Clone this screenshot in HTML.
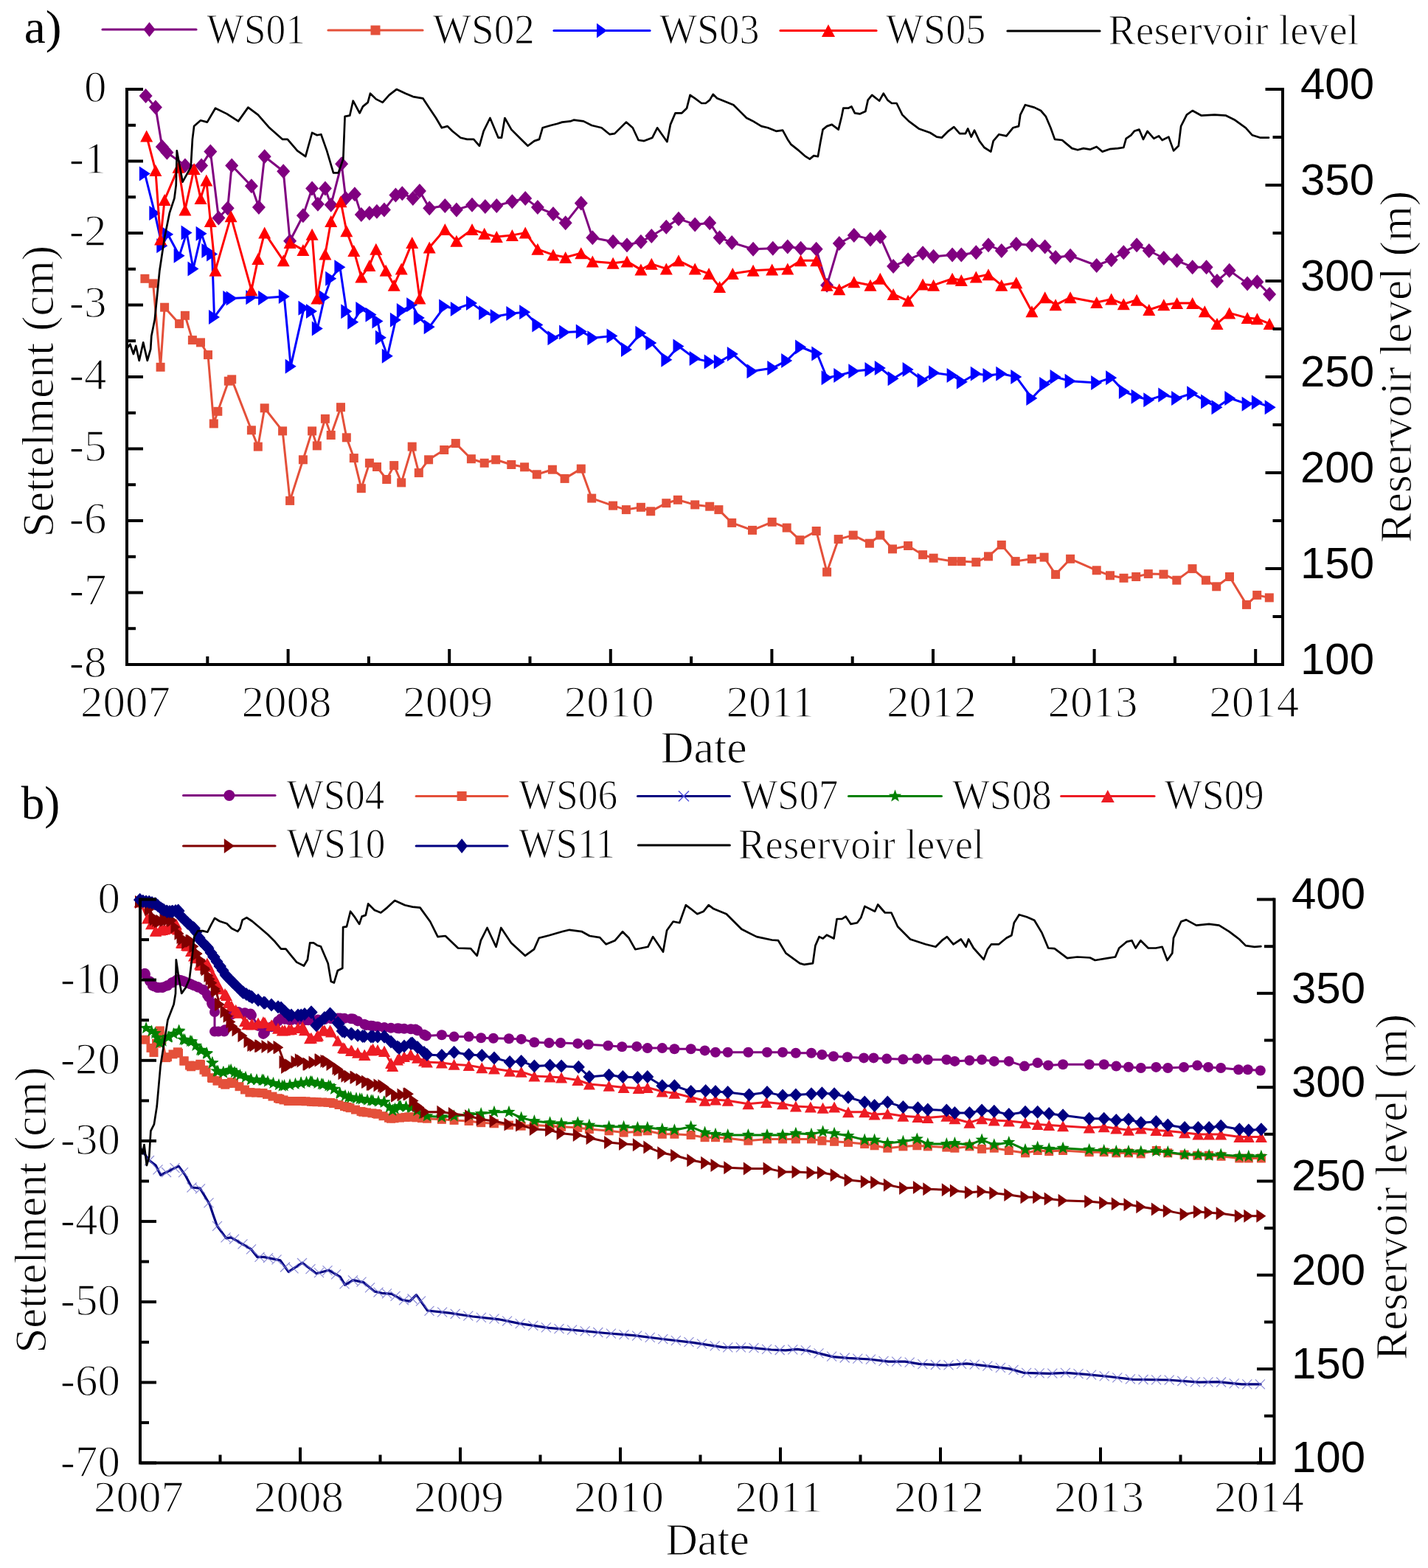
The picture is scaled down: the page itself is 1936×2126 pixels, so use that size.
<!DOCTYPE html>
<html><head><meta charset="utf-8"><title>Settlement and reservoir level</title>
<style>
html,body{margin:0;padding:0;background:#fff;}
body{width:1936px;height:2126px;overflow:hidden;}
svg{display:block;}
.tl{font-family:"Liberation Serif", "Times New Roman", serif;font-size:61px;fill:#000;stroke:#fff;stroke-width:1.4px;}
.rl{font-family:"Liberation Sans", Arial, sans-serif;font-size:60px;fill:#000;}
.ti{font-family:"Liberation Serif", "Times New Roman", serif;font-size:61px;fill:#000;stroke:#fff;stroke-width:1.0px;}
.lg{font-family:"Liberation Serif", "Times New Roman", serif;font-size:56.5px;fill:#000;stroke:#fff;stroke-width:1.2px;}
.pl{font-family:"Liberation Serif", "Times New Roman", serif;font-size:64px;fill:#000;}
</style></head><body>
<svg xmlns="http://www.w3.org/2000/svg" width="1936" height="2126" viewBox="0 0 1936 2126">
<rect width="1936" height="2126" fill="#fff"/>

<g>
<polyline points="197.6,130.0 210.9,145.6 219.8,198.9 226.4,206.7 250.9,224.4 273.1,224.4 285.3,205.6 296.4,295.6 308.7,282.2 314.2,224.4 340.9,252.2 350.9,281.1 358.7,212.2 384.2,232.2 393.1,326.7 410.9,292.2 423.1,255.6 430.9,276.7 440.9,255.6 448.7,277.8 463.1,222.2 468.7,268.9 480.9,263.3 489.8,291.1 500.9,288.9 510.9,286.7 520.9,284.4 536.4,264.4 545.3,262.2 559.8,268.9 568.9,258.9 582.2,282.2 603.3,278.9 618.9,284.4 640.0,277.8 657.8,280.0 673.3,278.9 694.4,273.3 712.2,268.9 728.9,281.1 750.0,290.0 766.7,302.2 787.8,275.6 803.3,322.2 831.1,327.8 850.0,332.2 868.9,327.8 883.3,320.0 903.3,307.8 920.0,296.7 942.2,304.4 962.2,302.2 975.6,322.2 992.2,328.9 1021.1,337.8 1047.8,336.7 1067.8,334.4 1085.6,336.7 1106.7,337.8 1121.1,386.7 1137.8,330.0 1157.8,318.9 1180.0,324.4 1193.3,321.1 1211.1,361.1 1231.1,352.2 1251.1,343.3 1265.6,347.8 1291.1,345.6 1303.3,345.6 1323.3,342.2 1340.0,332.2 1357.8,340.0 1377.8,331.1 1398.9,332.2 1416.7,334.4 1431.1,348.9 1451.1,346.7 1486.7,360.0 1506.7,352.2 1523.3,342.2 1541.1,332.2 1557.8,340.0 1577.8,350.0 1595.6,353.3 1616.7,362.2 1635.6,362.2 1650.0,381.1 1666.7,366.7 1691.1,384.4 1704.4,382.2 1721.1,398.9" fill="none" stroke="#800080" stroke-width="3.0" stroke-linejoin="round" stroke-linecap="round"/>
<path d="M197.6 120.0L206.6 130.0L197.6 140.0L188.6 130.0Z" fill="#800080"/>
<path d="M210.9 135.6L219.9 145.6L210.9 155.6L201.9 145.6Z" fill="#800080"/>
<path d="M219.8 188.9L228.8 198.9L219.8 208.9L210.8 198.9Z" fill="#800080"/>
<path d="M226.4 196.7L235.4 206.7L226.4 216.7L217.4 206.7Z" fill="#800080"/>
<path d="M250.9 214.4L259.9 224.4L250.9 234.4L241.9 224.4Z" fill="#800080"/>
<path d="M273.1 214.4L282.1 224.4L273.1 234.4L264.1 224.4Z" fill="#800080"/>
<path d="M285.3 195.6L294.3 205.6L285.3 215.6L276.3 205.6Z" fill="#800080"/>
<path d="M296.4 285.6L305.4 295.6L296.4 305.6L287.4 295.6Z" fill="#800080"/>
<path d="M308.7 272.2L317.7 282.2L308.7 292.2L299.7 282.2Z" fill="#800080"/>
<path d="M314.2 214.4L323.2 224.4L314.2 234.4L305.2 224.4Z" fill="#800080"/>
<path d="M340.9 242.2L349.9 252.2L340.9 262.2L331.9 252.2Z" fill="#800080"/>
<path d="M350.9 271.1L359.9 281.1L350.9 291.1L341.9 281.1Z" fill="#800080"/>
<path d="M358.7 202.2L367.7 212.2L358.7 222.2L349.7 212.2Z" fill="#800080"/>
<path d="M384.2 222.2L393.2 232.2L384.2 242.2L375.2 232.2Z" fill="#800080"/>
<path d="M393.1 316.7L402.1 326.7L393.1 336.7L384.1 326.7Z" fill="#800080"/>
<path d="M410.9 282.2L419.9 292.2L410.9 302.2L401.9 292.2Z" fill="#800080"/>
<path d="M423.1 245.6L432.1 255.6L423.1 265.6L414.1 255.6Z" fill="#800080"/>
<path d="M430.9 266.7L439.9 276.7L430.9 286.7L421.9 276.7Z" fill="#800080"/>
<path d="M440.9 245.6L449.9 255.6L440.9 265.6L431.9 255.6Z" fill="#800080"/>
<path d="M448.7 267.8L457.7 277.8L448.7 287.8L439.7 277.8Z" fill="#800080"/>
<path d="M463.1 212.2L472.1 222.2L463.1 232.2L454.1 222.2Z" fill="#800080"/>
<path d="M468.7 258.9L477.7 268.9L468.7 278.9L459.7 268.9Z" fill="#800080"/>
<path d="M480.9 253.3L489.9 263.3L480.9 273.3L471.9 263.3Z" fill="#800080"/>
<path d="M489.8 281.1L498.8 291.1L489.8 301.1L480.8 291.1Z" fill="#800080"/>
<path d="M500.9 278.9L509.9 288.9L500.9 298.9L491.9 288.9Z" fill="#800080"/>
<path d="M510.9 276.7L519.9 286.7L510.9 296.7L501.9 286.7Z" fill="#800080"/>
<path d="M520.9 274.4L529.9 284.4L520.9 294.4L511.9 284.4Z" fill="#800080"/>
<path d="M536.4 254.4L545.4 264.4L536.4 274.4L527.4 264.4Z" fill="#800080"/>
<path d="M545.3 252.2L554.3 262.2L545.3 272.2L536.3 262.2Z" fill="#800080"/>
<path d="M559.8 258.9L568.8 268.9L559.8 278.9L550.8 268.9Z" fill="#800080"/>
<path d="M568.9 248.9L577.9 258.9L568.9 268.9L559.9 258.9Z" fill="#800080"/>
<path d="M582.2 272.2L591.2 282.2L582.2 292.2L573.2 282.2Z" fill="#800080"/>
<path d="M603.3 268.9L612.3 278.9L603.3 288.9L594.3 278.9Z" fill="#800080"/>
<path d="M618.9 274.4L627.9 284.4L618.9 294.4L609.9 284.4Z" fill="#800080"/>
<path d="M640.0 267.8L649.0 277.8L640.0 287.8L631.0 277.8Z" fill="#800080"/>
<path d="M657.8 270.0L666.8 280.0L657.8 290.0L648.8 280.0Z" fill="#800080"/>
<path d="M673.3 268.9L682.3 278.9L673.3 288.9L664.3 278.9Z" fill="#800080"/>
<path d="M694.4 263.3L703.4 273.3L694.4 283.3L685.4 273.3Z" fill="#800080"/>
<path d="M712.2 258.9L721.2 268.9L712.2 278.9L703.2 268.9Z" fill="#800080"/>
<path d="M728.9 271.1L737.9 281.1L728.9 291.1L719.9 281.1Z" fill="#800080"/>
<path d="M750.0 280.0L759.0 290.0L750.0 300.0L741.0 290.0Z" fill="#800080"/>
<path d="M766.7 292.2L775.7 302.2L766.7 312.2L757.7 302.2Z" fill="#800080"/>
<path d="M787.8 265.6L796.8 275.6L787.8 285.6L778.8 275.6Z" fill="#800080"/>
<path d="M803.3 312.2L812.3 322.2L803.3 332.2L794.3 322.2Z" fill="#800080"/>
<path d="M831.1 317.8L840.1 327.8L831.1 337.8L822.1 327.8Z" fill="#800080"/>
<path d="M850.0 322.2L859.0 332.2L850.0 342.2L841.0 332.2Z" fill="#800080"/>
<path d="M868.9 317.8L877.9 327.8L868.9 337.8L859.9 327.8Z" fill="#800080"/>
<path d="M883.3 310.0L892.3 320.0L883.3 330.0L874.3 320.0Z" fill="#800080"/>
<path d="M903.3 297.8L912.3 307.8L903.3 317.8L894.3 307.8Z" fill="#800080"/>
<path d="M920.0 286.7L929.0 296.7L920.0 306.7L911.0 296.7Z" fill="#800080"/>
<path d="M942.2 294.4L951.2 304.4L942.2 314.4L933.2 304.4Z" fill="#800080"/>
<path d="M962.2 292.2L971.2 302.2L962.2 312.2L953.2 302.2Z" fill="#800080"/>
<path d="M975.6 312.2L984.6 322.2L975.6 332.2L966.6 322.2Z" fill="#800080"/>
<path d="M992.2 318.9L1001.2 328.9L992.2 338.9L983.2 328.9Z" fill="#800080"/>
<path d="M1021.1 327.8L1030.1 337.8L1021.1 347.8L1012.1 337.8Z" fill="#800080"/>
<path d="M1047.8 326.7L1056.8 336.7L1047.8 346.7L1038.8 336.7Z" fill="#800080"/>
<path d="M1067.8 324.4L1076.8 334.4L1067.8 344.4L1058.8 334.4Z" fill="#800080"/>
<path d="M1085.6 326.7L1094.6 336.7L1085.6 346.7L1076.6 336.7Z" fill="#800080"/>
<path d="M1106.7 327.8L1115.7 337.8L1106.7 347.8L1097.7 337.8Z" fill="#800080"/>
<path d="M1121.1 376.7L1130.1 386.7L1121.1 396.7L1112.1 386.7Z" fill="#800080"/>
<path d="M1137.8 320.0L1146.8 330.0L1137.8 340.0L1128.8 330.0Z" fill="#800080"/>
<path d="M1157.8 308.9L1166.8 318.9L1157.8 328.9L1148.8 318.9Z" fill="#800080"/>
<path d="M1180.0 314.4L1189.0 324.4L1180.0 334.4L1171.0 324.4Z" fill="#800080"/>
<path d="M1193.3 311.1L1202.3 321.1L1193.3 331.1L1184.3 321.1Z" fill="#800080"/>
<path d="M1211.1 351.1L1220.1 361.1L1211.1 371.1L1202.1 361.1Z" fill="#800080"/>
<path d="M1231.1 342.2L1240.1 352.2L1231.1 362.2L1222.1 352.2Z" fill="#800080"/>
<path d="M1251.1 333.3L1260.1 343.3L1251.1 353.3L1242.1 343.3Z" fill="#800080"/>
<path d="M1265.6 337.8L1274.6 347.8L1265.6 357.8L1256.6 347.8Z" fill="#800080"/>
<path d="M1291.1 335.6L1300.1 345.6L1291.1 355.6L1282.1 345.6Z" fill="#800080"/>
<path d="M1303.3 335.6L1312.3 345.6L1303.3 355.6L1294.3 345.6Z" fill="#800080"/>
<path d="M1323.3 332.2L1332.3 342.2L1323.3 352.2L1314.3 342.2Z" fill="#800080"/>
<path d="M1340.0 322.2L1349.0 332.2L1340.0 342.2L1331.0 332.2Z" fill="#800080"/>
<path d="M1357.8 330.0L1366.8 340.0L1357.8 350.0L1348.8 340.0Z" fill="#800080"/>
<path d="M1377.8 321.1L1386.8 331.1L1377.8 341.1L1368.8 331.1Z" fill="#800080"/>
<path d="M1398.9 322.2L1407.9 332.2L1398.9 342.2L1389.9 332.2Z" fill="#800080"/>
<path d="M1416.7 324.4L1425.7 334.4L1416.7 344.4L1407.7 334.4Z" fill="#800080"/>
<path d="M1431.1 338.9L1440.1 348.9L1431.1 358.9L1422.1 348.9Z" fill="#800080"/>
<path d="M1451.1 336.7L1460.1 346.7L1451.1 356.7L1442.1 346.7Z" fill="#800080"/>
<path d="M1486.7 350.0L1495.7 360.0L1486.7 370.0L1477.7 360.0Z" fill="#800080"/>
<path d="M1506.7 342.2L1515.7 352.2L1506.7 362.2L1497.7 352.2Z" fill="#800080"/>
<path d="M1523.3 332.2L1532.3 342.2L1523.3 352.2L1514.3 342.2Z" fill="#800080"/>
<path d="M1541.1 322.2L1550.1 332.2L1541.1 342.2L1532.1 332.2Z" fill="#800080"/>
<path d="M1557.8 330.0L1566.8 340.0L1557.8 350.0L1548.8 340.0Z" fill="#800080"/>
<path d="M1577.8 340.0L1586.8 350.0L1577.8 360.0L1568.8 350.0Z" fill="#800080"/>
<path d="M1595.6 343.3L1604.6 353.3L1595.6 363.3L1586.6 353.3Z" fill="#800080"/>
<path d="M1616.7 352.2L1625.7 362.2L1616.7 372.2L1607.7 362.2Z" fill="#800080"/>
<path d="M1635.6 352.2L1644.6 362.2L1635.6 372.2L1626.6 362.2Z" fill="#800080"/>
<path d="M1650.0 371.1L1659.0 381.1L1650.0 391.1L1641.0 381.1Z" fill="#800080"/>
<path d="M1666.7 356.7L1675.7 366.7L1666.7 376.7L1657.7 366.7Z" fill="#800080"/>
<path d="M1691.1 374.4L1700.1 384.4L1691.1 394.4L1682.1 384.4Z" fill="#800080"/>
<path d="M1704.4 372.2L1713.4 382.2L1704.4 392.2L1695.4 382.2Z" fill="#800080"/>
<path d="M1721.1 388.9L1730.1 398.9L1721.1 408.9L1712.1 398.9Z" fill="#800080"/>
<polyline points="196.4,377.8 207.6,384.4 217.6,497.8 223.1,416.7 243.1,438.9 250.9,427.8 260.9,461.1 272.0,464.4 282.0,481.1 289.8,574.4 295.3,557.8 309.8,516.7 314.2,514.4 340.9,583.3 349.8,605.6 358.7,553.3 383.1,584.4 393.1,678.9 410.9,623.3 423.1,584.4 429.8,604.4 440.9,567.8 448.7,590.0 462.0,552.2 469.8,593.3 479.8,621.1 489.8,662.2 500.9,627.8 511.0,633.0 524.2,650.0 534.2,631.1 544.2,654.4 558.7,605.6 567.8,641.1 581.1,623.3 602.2,610.0 617.8,601.1 638.9,622.2 656.7,627.8 672.2,623.3 693.3,630.0 711.1,633.3 727.8,643.3 748.9,636.7 765.6,648.9 787.8,635.6 802.2,675.6 831.1,685.6 848.9,691.1 868.9,687.8 882.2,693.3 903.3,682.2 918.9,677.8 942.2,684.4 962.2,686.7 974.4,691.1 992.2,708.9 1020.0,718.9 1046.7,707.8 1066.7,715.6 1084.4,732.2 1106.7,720.0 1121.1,775.6 1136.7,731.1 1156.7,725.6 1178.9,736.7 1193.3,725.6 1210.0,744.4 1231.1,740.0 1251.1,752.2 1265.6,756.7 1291.1,761.1 1303.3,761.1 1323.3,762.2 1340.0,754.4 1357.8,738.9 1376.7,761.1 1398.9,757.8 1415.6,755.6 1431.1,778.9 1451.1,757.8 1486.7,773.3 1505.0,780.3 1523.5,783.8 1540.2,782.0 1556.8,778.1 1577.5,778.6 1595.3,786.7 1616.5,771.1 1634.9,786.7 1649.2,795.3 1667.0,782.0 1690.0,819.9 1704.2,806.9 1720.8,810.4" fill="none" stroke="#E4503A" stroke-width="3.0" stroke-linejoin="round" stroke-linecap="round"/>
<rect x="190.4" y="371.8" width="12.0" height="12.0" fill="#E4503A"/>
<rect x="201.6" y="378.4" width="12.0" height="12.0" fill="#E4503A"/>
<rect x="211.6" y="491.8" width="12.0" height="12.0" fill="#E4503A"/>
<rect x="217.1" y="410.7" width="12.0" height="12.0" fill="#E4503A"/>
<rect x="237.1" y="432.9" width="12.0" height="12.0" fill="#E4503A"/>
<rect x="244.9" y="421.8" width="12.0" height="12.0" fill="#E4503A"/>
<rect x="254.9" y="455.1" width="12.0" height="12.0" fill="#E4503A"/>
<rect x="266.0" y="458.4" width="12.0" height="12.0" fill="#E4503A"/>
<rect x="276.0" y="475.1" width="12.0" height="12.0" fill="#E4503A"/>
<rect x="283.8" y="568.4" width="12.0" height="12.0" fill="#E4503A"/>
<rect x="289.3" y="551.8" width="12.0" height="12.0" fill="#E4503A"/>
<rect x="303.8" y="510.7" width="12.0" height="12.0" fill="#E4503A"/>
<rect x="308.2" y="508.4" width="12.0" height="12.0" fill="#E4503A"/>
<rect x="334.9" y="577.3" width="12.0" height="12.0" fill="#E4503A"/>
<rect x="343.8" y="599.6" width="12.0" height="12.0" fill="#E4503A"/>
<rect x="352.7" y="547.3" width="12.0" height="12.0" fill="#E4503A"/>
<rect x="377.1" y="578.4" width="12.0" height="12.0" fill="#E4503A"/>
<rect x="387.1" y="672.9" width="12.0" height="12.0" fill="#E4503A"/>
<rect x="404.9" y="617.3" width="12.0" height="12.0" fill="#E4503A"/>
<rect x="417.1" y="578.4" width="12.0" height="12.0" fill="#E4503A"/>
<rect x="423.8" y="598.4" width="12.0" height="12.0" fill="#E4503A"/>
<rect x="434.9" y="561.8" width="12.0" height="12.0" fill="#E4503A"/>
<rect x="442.7" y="584.0" width="12.0" height="12.0" fill="#E4503A"/>
<rect x="456.0" y="546.2" width="12.0" height="12.0" fill="#E4503A"/>
<rect x="463.8" y="587.3" width="12.0" height="12.0" fill="#E4503A"/>
<rect x="473.8" y="615.1" width="12.0" height="12.0" fill="#E4503A"/>
<rect x="483.8" y="656.2" width="12.0" height="12.0" fill="#E4503A"/>
<rect x="494.9" y="621.8" width="12.0" height="12.0" fill="#E4503A"/>
<rect x="505.0" y="627.0" width="12.0" height="12.0" fill="#E4503A"/>
<rect x="518.2" y="644.0" width="12.0" height="12.0" fill="#E4503A"/>
<rect x="528.2" y="625.1" width="12.0" height="12.0" fill="#E4503A"/>
<rect x="538.2" y="648.4" width="12.0" height="12.0" fill="#E4503A"/>
<rect x="552.7" y="599.6" width="12.0" height="12.0" fill="#E4503A"/>
<rect x="561.8" y="635.1" width="12.0" height="12.0" fill="#E4503A"/>
<rect x="575.1" y="617.3" width="12.0" height="12.0" fill="#E4503A"/>
<rect x="596.2" y="604.0" width="12.0" height="12.0" fill="#E4503A"/>
<rect x="611.8" y="595.1" width="12.0" height="12.0" fill="#E4503A"/>
<rect x="632.9" y="616.2" width="12.0" height="12.0" fill="#E4503A"/>
<rect x="650.7" y="621.8" width="12.0" height="12.0" fill="#E4503A"/>
<rect x="666.2" y="617.3" width="12.0" height="12.0" fill="#E4503A"/>
<rect x="687.3" y="624.0" width="12.0" height="12.0" fill="#E4503A"/>
<rect x="705.1" y="627.3" width="12.0" height="12.0" fill="#E4503A"/>
<rect x="721.8" y="637.3" width="12.0" height="12.0" fill="#E4503A"/>
<rect x="742.9" y="630.7" width="12.0" height="12.0" fill="#E4503A"/>
<rect x="759.6" y="642.9" width="12.0" height="12.0" fill="#E4503A"/>
<rect x="781.8" y="629.6" width="12.0" height="12.0" fill="#E4503A"/>
<rect x="796.2" y="669.6" width="12.0" height="12.0" fill="#E4503A"/>
<rect x="825.1" y="679.6" width="12.0" height="12.0" fill="#E4503A"/>
<rect x="842.9" y="685.1" width="12.0" height="12.0" fill="#E4503A"/>
<rect x="862.9" y="681.8" width="12.0" height="12.0" fill="#E4503A"/>
<rect x="876.2" y="687.3" width="12.0" height="12.0" fill="#E4503A"/>
<rect x="897.3" y="676.2" width="12.0" height="12.0" fill="#E4503A"/>
<rect x="912.9" y="671.8" width="12.0" height="12.0" fill="#E4503A"/>
<rect x="936.2" y="678.4" width="12.0" height="12.0" fill="#E4503A"/>
<rect x="956.2" y="680.7" width="12.0" height="12.0" fill="#E4503A"/>
<rect x="968.4" y="685.1" width="12.0" height="12.0" fill="#E4503A"/>
<rect x="986.2" y="702.9" width="12.0" height="12.0" fill="#E4503A"/>
<rect x="1014.0" y="712.9" width="12.0" height="12.0" fill="#E4503A"/>
<rect x="1040.7" y="701.8" width="12.0" height="12.0" fill="#E4503A"/>
<rect x="1060.7" y="709.6" width="12.0" height="12.0" fill="#E4503A"/>
<rect x="1078.4" y="726.2" width="12.0" height="12.0" fill="#E4503A"/>
<rect x="1100.7" y="714.0" width="12.0" height="12.0" fill="#E4503A"/>
<rect x="1115.1" y="769.6" width="12.0" height="12.0" fill="#E4503A"/>
<rect x="1130.7" y="725.1" width="12.0" height="12.0" fill="#E4503A"/>
<rect x="1150.7" y="719.6" width="12.0" height="12.0" fill="#E4503A"/>
<rect x="1172.9" y="730.7" width="12.0" height="12.0" fill="#E4503A"/>
<rect x="1187.3" y="719.6" width="12.0" height="12.0" fill="#E4503A"/>
<rect x="1204.0" y="738.4" width="12.0" height="12.0" fill="#E4503A"/>
<rect x="1225.1" y="734.0" width="12.0" height="12.0" fill="#E4503A"/>
<rect x="1245.1" y="746.2" width="12.0" height="12.0" fill="#E4503A"/>
<rect x="1259.6" y="750.7" width="12.0" height="12.0" fill="#E4503A"/>
<rect x="1285.1" y="755.1" width="12.0" height="12.0" fill="#E4503A"/>
<rect x="1297.3" y="755.1" width="12.0" height="12.0" fill="#E4503A"/>
<rect x="1317.3" y="756.2" width="12.0" height="12.0" fill="#E4503A"/>
<rect x="1334.0" y="748.4" width="12.0" height="12.0" fill="#E4503A"/>
<rect x="1351.8" y="732.9" width="12.0" height="12.0" fill="#E4503A"/>
<rect x="1370.7" y="755.1" width="12.0" height="12.0" fill="#E4503A"/>
<rect x="1392.9" y="751.8" width="12.0" height="12.0" fill="#E4503A"/>
<rect x="1409.6" y="749.6" width="12.0" height="12.0" fill="#E4503A"/>
<rect x="1425.1" y="772.9" width="12.0" height="12.0" fill="#E4503A"/>
<rect x="1445.1" y="751.8" width="12.0" height="12.0" fill="#E4503A"/>
<rect x="1480.7" y="767.3" width="12.0" height="12.0" fill="#E4503A"/>
<rect x="1499.0" y="774.3" width="12.0" height="12.0" fill="#E4503A"/>
<rect x="1517.5" y="777.8" width="12.0" height="12.0" fill="#E4503A"/>
<rect x="1534.2" y="776.0" width="12.0" height="12.0" fill="#E4503A"/>
<rect x="1550.8" y="772.1" width="12.0" height="12.0" fill="#E4503A"/>
<rect x="1571.5" y="772.6" width="12.0" height="12.0" fill="#E4503A"/>
<rect x="1589.3" y="780.7" width="12.0" height="12.0" fill="#E4503A"/>
<rect x="1610.5" y="765.1" width="12.0" height="12.0" fill="#E4503A"/>
<rect x="1628.9" y="780.7" width="12.0" height="12.0" fill="#E4503A"/>
<rect x="1643.2" y="789.3" width="12.0" height="12.0" fill="#E4503A"/>
<rect x="1661.0" y="776.0" width="12.0" height="12.0" fill="#E4503A"/>
<rect x="1684.0" y="813.9" width="12.0" height="12.0" fill="#E4503A"/>
<rect x="1698.2" y="800.9" width="12.0" height="12.0" fill="#E4503A"/>
<rect x="1714.8" y="804.4" width="12.0" height="12.0" fill="#E4503A"/>
<polyline points="196.4,235.6 209.8,288.9 219.8,333.3 227.6,317.8 243.1,346.7 253.1,315.6 262.0,364.4 273.1,316.7 280.9,340.0 287.6,344.4 290.5,430.0 309.8,404.0 314.2,404.4 340.9,403.3 357.6,404.0 385.3,402.0 394.2,496.7 412.0,417.8 422.5,422.0 430.3,445.5 439.8,403.3 448.7,377.8 460.9,362.2 469.8,422.2 478.7,436.7 489.8,419.0 503.0,426.7 512.0,435.5 516.4,457.8 525.3,482.7 536.4,433.8 545.3,421.1 558.7,413.3 568.3,431.1 582.2,443.3 602.7,415.6 618.3,418.9 639.5,411.1 656.7,423.9 672.2,428.9 693.9,425.0 711.7,423.3 728.9,440.6 750.0,458.3 765.6,450.6 788.3,449.5 803.9,458.3 830.0,455.6 849.5,473.9 868.9,451.7 882.8,465.0 903.9,487.8 920.0,469.5 942.2,486.1 962.2,490.6 975.3,490.6 993.3,480.0 1020.0,503.3 1047.8,498.9 1066.7,488.9 1085.6,470.5 1107.8,479.5 1121.1,512.2 1137.8,508.9 1157.8,503.3 1180.0,501.1 1193.3,498.9 1211.1,513.3 1231.1,501.1 1251.1,515.6 1266.7,505.6 1291.1,508.9 1304.4,517.8 1323.3,506.7 1340.0,508.9 1357.8,506.7 1377.8,511.1 1398.9,540.0 1416.7,521.1 1431.1,511.1 1451.1,516.7 1486.7,518.9 1506.7,512.2 1524.4,531.1 1541.1,537.8 1557.8,542.2 1577.8,535.6 1595.6,540.0 1616.7,533.3 1635.6,544.4 1650.0,552.2 1667.8,540.0 1691.1,547.8 1704.4,545.6 1722.2,552.2" fill="none" stroke="#0000FF" stroke-width="3.0" stroke-linejoin="round" stroke-linecap="round"/>
<path d="M188.9 225.6L203.9 235.6L188.9 245.6Z" fill="#0000FF"/>
<path d="M202.3 278.9L217.3 288.9L202.3 298.9Z" fill="#0000FF"/>
<path d="M212.3 323.3L227.3 333.3L212.3 343.3Z" fill="#0000FF"/>
<path d="M220.1 307.8L235.1 317.8L220.1 327.8Z" fill="#0000FF"/>
<path d="M235.6 336.7L250.6 346.7L235.6 356.7Z" fill="#0000FF"/>
<path d="M245.6 305.6L260.6 315.6L245.6 325.6Z" fill="#0000FF"/>
<path d="M254.5 354.4L269.5 364.4L254.5 374.4Z" fill="#0000FF"/>
<path d="M265.6 306.7L280.6 316.7L265.6 326.7Z" fill="#0000FF"/>
<path d="M273.4 330.0L288.4 340.0L273.4 350.0Z" fill="#0000FF"/>
<path d="M280.1 334.4L295.1 344.4L280.1 354.4Z" fill="#0000FF"/>
<path d="M283.0 420.0L298.0 430.0L283.0 440.0Z" fill="#0000FF"/>
<path d="M302.3 394.0L317.3 404.0L302.3 414.0Z" fill="#0000FF"/>
<path d="M306.7 394.4L321.7 404.4L306.7 414.4Z" fill="#0000FF"/>
<path d="M333.4 393.3L348.4 403.3L333.4 413.3Z" fill="#0000FF"/>
<path d="M350.1 394.0L365.1 404.0L350.1 414.0Z" fill="#0000FF"/>
<path d="M377.8 392.0L392.8 402.0L377.8 412.0Z" fill="#0000FF"/>
<path d="M386.7 486.7L401.7 496.7L386.7 506.7Z" fill="#0000FF"/>
<path d="M404.5 407.8L419.5 417.8L404.5 427.8Z" fill="#0000FF"/>
<path d="M415.0 412.0L430.0 422.0L415.0 432.0Z" fill="#0000FF"/>
<path d="M422.8 435.5L437.8 445.5L422.8 455.5Z" fill="#0000FF"/>
<path d="M432.3 393.3L447.3 403.3L432.3 413.3Z" fill="#0000FF"/>
<path d="M441.2 367.8L456.2 377.8L441.2 387.8Z" fill="#0000FF"/>
<path d="M453.4 352.2L468.4 362.2L453.4 372.2Z" fill="#0000FF"/>
<path d="M462.3 412.2L477.3 422.2L462.3 432.2Z" fill="#0000FF"/>
<path d="M471.2 426.7L486.2 436.7L471.2 446.7Z" fill="#0000FF"/>
<path d="M482.3 409.0L497.3 419.0L482.3 429.0Z" fill="#0000FF"/>
<path d="M495.5 416.7L510.5 426.7L495.5 436.7Z" fill="#0000FF"/>
<path d="M504.5 425.5L519.5 435.5L504.5 445.5Z" fill="#0000FF"/>
<path d="M508.9 447.8L523.9 457.8L508.9 467.8Z" fill="#0000FF"/>
<path d="M517.8 472.7L532.8 482.7L517.8 492.7Z" fill="#0000FF"/>
<path d="M528.9 423.8L543.9 433.8L528.9 443.8Z" fill="#0000FF"/>
<path d="M537.8 411.1L552.8 421.1L537.8 431.1Z" fill="#0000FF"/>
<path d="M551.2 403.3L566.2 413.3L551.2 423.3Z" fill="#0000FF"/>
<path d="M560.8 421.1L575.8 431.1L560.8 441.1Z" fill="#0000FF"/>
<path d="M574.7 433.3L589.7 443.3L574.7 453.3Z" fill="#0000FF"/>
<path d="M595.2 405.6L610.2 415.6L595.2 425.6Z" fill="#0000FF"/>
<path d="M610.8 408.9L625.8 418.9L610.8 428.9Z" fill="#0000FF"/>
<path d="M632.0 401.1L647.0 411.1L632.0 421.1Z" fill="#0000FF"/>
<path d="M649.2 413.9L664.2 423.9L649.2 433.9Z" fill="#0000FF"/>
<path d="M664.7 418.9L679.7 428.9L664.7 438.9Z" fill="#0000FF"/>
<path d="M686.4 415.0L701.4 425.0L686.4 435.0Z" fill="#0000FF"/>
<path d="M704.2 413.3L719.2 423.3L704.2 433.3Z" fill="#0000FF"/>
<path d="M721.4 430.6L736.4 440.6L721.4 450.6Z" fill="#0000FF"/>
<path d="M742.5 448.3L757.5 458.3L742.5 468.3Z" fill="#0000FF"/>
<path d="M758.1 440.6L773.1 450.6L758.1 460.6Z" fill="#0000FF"/>
<path d="M780.8 439.5L795.8 449.5L780.8 459.5Z" fill="#0000FF"/>
<path d="M796.4 448.3L811.4 458.3L796.4 468.3Z" fill="#0000FF"/>
<path d="M822.5 445.6L837.5 455.6L822.5 465.6Z" fill="#0000FF"/>
<path d="M842.0 463.9L857.0 473.9L842.0 483.9Z" fill="#0000FF"/>
<path d="M861.4 441.7L876.4 451.7L861.4 461.7Z" fill="#0000FF"/>
<path d="M875.3 455.0L890.3 465.0L875.3 475.0Z" fill="#0000FF"/>
<path d="M896.4 477.8L911.4 487.8L896.4 497.8Z" fill="#0000FF"/>
<path d="M912.5 459.5L927.5 469.5L912.5 479.5Z" fill="#0000FF"/>
<path d="M934.7 476.1L949.7 486.1L934.7 496.1Z" fill="#0000FF"/>
<path d="M954.7 480.6L969.7 490.6L954.7 500.6Z" fill="#0000FF"/>
<path d="M967.8 480.6L982.8 490.6L967.8 500.6Z" fill="#0000FF"/>
<path d="M985.8 470.0L1000.8 480.0L985.8 490.0Z" fill="#0000FF"/>
<path d="M1012.5 493.3L1027.5 503.3L1012.5 513.3Z" fill="#0000FF"/>
<path d="M1040.3 488.9L1055.3 498.9L1040.3 508.9Z" fill="#0000FF"/>
<path d="M1059.2 478.9L1074.2 488.9L1059.2 498.9Z" fill="#0000FF"/>
<path d="M1078.1 460.5L1093.1 470.5L1078.1 480.5Z" fill="#0000FF"/>
<path d="M1100.3 469.5L1115.3 479.5L1100.3 489.5Z" fill="#0000FF"/>
<path d="M1113.6 502.2L1128.6 512.2L1113.6 522.2Z" fill="#0000FF"/>
<path d="M1130.3 498.9L1145.3 508.9L1130.3 518.9Z" fill="#0000FF"/>
<path d="M1150.3 493.3L1165.3 503.3L1150.3 513.3Z" fill="#0000FF"/>
<path d="M1172.5 491.1L1187.5 501.1L1172.5 511.1Z" fill="#0000FF"/>
<path d="M1185.8 488.9L1200.8 498.9L1185.8 508.9Z" fill="#0000FF"/>
<path d="M1203.6 503.3L1218.6 513.3L1203.6 523.3Z" fill="#0000FF"/>
<path d="M1223.6 491.1L1238.6 501.1L1223.6 511.1Z" fill="#0000FF"/>
<path d="M1243.6 505.6L1258.6 515.6L1243.6 525.6Z" fill="#0000FF"/>
<path d="M1259.2 495.6L1274.2 505.6L1259.2 515.6Z" fill="#0000FF"/>
<path d="M1283.6 498.9L1298.6 508.9L1283.6 518.9Z" fill="#0000FF"/>
<path d="M1296.9 507.8L1311.9 517.8L1296.9 527.8Z" fill="#0000FF"/>
<path d="M1315.8 496.7L1330.8 506.7L1315.8 516.7Z" fill="#0000FF"/>
<path d="M1332.5 498.9L1347.5 508.9L1332.5 518.9Z" fill="#0000FF"/>
<path d="M1350.3 496.7L1365.3 506.7L1350.3 516.7Z" fill="#0000FF"/>
<path d="M1370.3 501.1L1385.3 511.1L1370.3 521.1Z" fill="#0000FF"/>
<path d="M1391.4 530.0L1406.4 540.0L1391.4 550.0Z" fill="#0000FF"/>
<path d="M1409.2 511.1L1424.2 521.1L1409.2 531.1Z" fill="#0000FF"/>
<path d="M1423.6 501.1L1438.6 511.1L1423.6 521.1Z" fill="#0000FF"/>
<path d="M1443.6 506.7L1458.6 516.7L1443.6 526.7Z" fill="#0000FF"/>
<path d="M1479.2 508.9L1494.2 518.9L1479.2 528.9Z" fill="#0000FF"/>
<path d="M1499.2 502.2L1514.2 512.2L1499.2 522.2Z" fill="#0000FF"/>
<path d="M1516.9 521.1L1531.9 531.1L1516.9 541.1Z" fill="#0000FF"/>
<path d="M1533.6 527.8L1548.6 537.8L1533.6 547.8Z" fill="#0000FF"/>
<path d="M1550.3 532.2L1565.3 542.2L1550.3 552.2Z" fill="#0000FF"/>
<path d="M1570.3 525.6L1585.3 535.6L1570.3 545.6Z" fill="#0000FF"/>
<path d="M1588.1 530.0L1603.1 540.0L1588.1 550.0Z" fill="#0000FF"/>
<path d="M1609.2 523.3L1624.2 533.3L1609.2 543.3Z" fill="#0000FF"/>
<path d="M1628.1 534.4L1643.1 544.4L1628.1 554.4Z" fill="#0000FF"/>
<path d="M1642.5 542.2L1657.5 552.2L1642.5 562.2Z" fill="#0000FF"/>
<path d="M1660.3 530.0L1675.3 540.0L1660.3 550.0Z" fill="#0000FF"/>
<path d="M1683.6 537.8L1698.6 547.8L1683.6 557.8Z" fill="#0000FF"/>
<path d="M1696.9 535.6L1711.9 545.6L1696.9 555.6Z" fill="#0000FF"/>
<path d="M1714.7 542.2L1729.7 552.2L1714.7 562.2Z" fill="#0000FF"/>
<polyline points="198.7,184.4 210.9,231.1 217.6,324.4 223.1,271.1 242.0,226.7 250.9,284.4 263.1,228.9 272.0,268.9 279.8,244.4 285.3,300.0 292.0,366.7 313.1,293.3 340.9,393.3 349.8,351.1 358.7,315.6 384.2,353.3 393.1,328.9 410.9,338.9 423.1,317.8 429.8,404.4 440.9,344.4 448.7,300.0 462.0,273.3 469.8,313.3 479.8,340.0 489.8,375.6 500.9,360.0 509.8,337.8 523.1,366.7 534.2,386.7 544.2,364.4 558.7,328.9 568.9,404.4 582.2,335.6 603.3,311.1 618.9,326.7 640.0,311.1 656.7,316.7 673.3,321.1 694.4,318.9 712.2,315.6 728.9,337.8 750.0,345.6 766.7,348.9 787.8,343.3 803.3,354.4 831.1,356.7 850.0,354.4 868.9,365.6 883.3,357.8 903.3,364.4 920.0,353.3 942.2,364.4 961.1,371.1 975.6,388.9 993.3,371.1 1021.1,366.7 1046.7,365.6 1067.8,364.4 1085.6,353.3 1106.7,353.3 1121.1,386.7 1137.8,392.2 1157.8,382.2 1180.0,386.7 1193.3,377.8 1211.1,398.9 1231.1,407.8 1251.1,385.6 1265.6,386.7 1291.1,377.8 1303.3,380.0 1323.3,375.6 1340.0,372.2 1357.8,386.7 1377.8,383.3 1398.9,422.2 1416.7,403.3 1431.1,413.3 1451.1,403.3 1486.7,410.0 1506.7,405.6 1523.3,412.2 1541.1,406.7 1557.8,420.0 1577.8,413.3 1595.6,411.1 1616.7,411.1 1633.3,422.2 1650.0,438.9 1666.7,424.4 1691.1,431.1 1704.4,432.2 1721.1,438.9" fill="none" stroke="#FF0000" stroke-width="3.0" stroke-linejoin="round" stroke-linecap="round"/>
<path d="M198.7 176.4L207.2 192.4L190.2 192.4Z" fill="#FF0000"/>
<path d="M210.9 223.1L219.4 239.1L202.4 239.1Z" fill="#FF0000"/>
<path d="M217.6 316.4L226.1 332.4L209.1 332.4Z" fill="#FF0000"/>
<path d="M223.1 263.1L231.6 279.1L214.6 279.1Z" fill="#FF0000"/>
<path d="M242.0 218.7L250.5 234.7L233.5 234.7Z" fill="#FF0000"/>
<path d="M250.9 276.4L259.4 292.4L242.4 292.4Z" fill="#FF0000"/>
<path d="M263.1 220.9L271.6 236.9L254.6 236.9Z" fill="#FF0000"/>
<path d="M272.0 260.9L280.5 276.9L263.5 276.9Z" fill="#FF0000"/>
<path d="M279.8 236.4L288.3 252.4L271.3 252.4Z" fill="#FF0000"/>
<path d="M285.3 292.0L293.8 308.0L276.8 308.0Z" fill="#FF0000"/>
<path d="M292.0 358.7L300.5 374.7L283.5 374.7Z" fill="#FF0000"/>
<path d="M313.1 285.3L321.6 301.3L304.6 301.3Z" fill="#FF0000"/>
<path d="M340.9 385.3L349.4 401.3L332.4 401.3Z" fill="#FF0000"/>
<path d="M349.8 343.1L358.3 359.1L341.3 359.1Z" fill="#FF0000"/>
<path d="M358.7 307.6L367.2 323.6L350.2 323.6Z" fill="#FF0000"/>
<path d="M384.2 345.3L392.7 361.3L375.7 361.3Z" fill="#FF0000"/>
<path d="M393.1 320.9L401.6 336.9L384.6 336.9Z" fill="#FF0000"/>
<path d="M410.9 330.9L419.4 346.9L402.4 346.9Z" fill="#FF0000"/>
<path d="M423.1 309.8L431.6 325.8L414.6 325.8Z" fill="#FF0000"/>
<path d="M429.8 396.4L438.3 412.4L421.3 412.4Z" fill="#FF0000"/>
<path d="M440.9 336.4L449.4 352.4L432.4 352.4Z" fill="#FF0000"/>
<path d="M448.7 292.0L457.2 308.0L440.2 308.0Z" fill="#FF0000"/>
<path d="M462.0 265.3L470.5 281.3L453.5 281.3Z" fill="#FF0000"/>
<path d="M469.8 305.3L478.3 321.3L461.3 321.3Z" fill="#FF0000"/>
<path d="M479.8 332.0L488.3 348.0L471.3 348.0Z" fill="#FF0000"/>
<path d="M489.8 367.6L498.3 383.6L481.3 383.6Z" fill="#FF0000"/>
<path d="M500.9 352.0L509.4 368.0L492.4 368.0Z" fill="#FF0000"/>
<path d="M509.8 329.8L518.3 345.8L501.3 345.8Z" fill="#FF0000"/>
<path d="M523.1 358.7L531.6 374.7L514.6 374.7Z" fill="#FF0000"/>
<path d="M534.2 378.7L542.7 394.7L525.7 394.7Z" fill="#FF0000"/>
<path d="M544.2 356.4L552.7 372.4L535.7 372.4Z" fill="#FF0000"/>
<path d="M558.7 320.9L567.2 336.9L550.2 336.9Z" fill="#FF0000"/>
<path d="M568.9 396.4L577.4 412.4L560.4 412.4Z" fill="#FF0000"/>
<path d="M582.2 327.6L590.7 343.6L573.7 343.6Z" fill="#FF0000"/>
<path d="M603.3 303.1L611.8 319.1L594.8 319.1Z" fill="#FF0000"/>
<path d="M618.9 318.7L627.4 334.7L610.4 334.7Z" fill="#FF0000"/>
<path d="M640.0 303.1L648.5 319.1L631.5 319.1Z" fill="#FF0000"/>
<path d="M656.7 308.7L665.2 324.7L648.2 324.7Z" fill="#FF0000"/>
<path d="M673.3 313.1L681.8 329.1L664.8 329.1Z" fill="#FF0000"/>
<path d="M694.4 310.9L702.9 326.9L685.9 326.9Z" fill="#FF0000"/>
<path d="M712.2 307.6L720.7 323.6L703.7 323.6Z" fill="#FF0000"/>
<path d="M728.9 329.8L737.4 345.8L720.4 345.8Z" fill="#FF0000"/>
<path d="M750.0 337.6L758.5 353.6L741.5 353.6Z" fill="#FF0000"/>
<path d="M766.7 340.9L775.2 356.9L758.2 356.9Z" fill="#FF0000"/>
<path d="M787.8 335.3L796.3 351.3L779.3 351.3Z" fill="#FF0000"/>
<path d="M803.3 346.4L811.8 362.4L794.8 362.4Z" fill="#FF0000"/>
<path d="M831.1 348.7L839.6 364.7L822.6 364.7Z" fill="#FF0000"/>
<path d="M850.0 346.4L858.5 362.4L841.5 362.4Z" fill="#FF0000"/>
<path d="M868.9 357.6L877.4 373.6L860.4 373.6Z" fill="#FF0000"/>
<path d="M883.3 349.8L891.8 365.8L874.8 365.8Z" fill="#FF0000"/>
<path d="M903.3 356.4L911.8 372.4L894.8 372.4Z" fill="#FF0000"/>
<path d="M920.0 345.3L928.5 361.3L911.5 361.3Z" fill="#FF0000"/>
<path d="M942.2 356.4L950.7 372.4L933.7 372.4Z" fill="#FF0000"/>
<path d="M961.1 363.1L969.6 379.1L952.6 379.1Z" fill="#FF0000"/>
<path d="M975.6 380.9L984.1 396.9L967.1 396.9Z" fill="#FF0000"/>
<path d="M993.3 363.1L1001.8 379.1L984.8 379.1Z" fill="#FF0000"/>
<path d="M1021.1 358.7L1029.6 374.7L1012.6 374.7Z" fill="#FF0000"/>
<path d="M1046.7 357.6L1055.2 373.6L1038.2 373.6Z" fill="#FF0000"/>
<path d="M1067.8 356.4L1076.3 372.4L1059.3 372.4Z" fill="#FF0000"/>
<path d="M1085.6 345.3L1094.1 361.3L1077.1 361.3Z" fill="#FF0000"/>
<path d="M1106.7 345.3L1115.2 361.3L1098.2 361.3Z" fill="#FF0000"/>
<path d="M1121.1 378.7L1129.6 394.7L1112.6 394.7Z" fill="#FF0000"/>
<path d="M1137.8 384.2L1146.3 400.2L1129.3 400.2Z" fill="#FF0000"/>
<path d="M1157.8 374.2L1166.3 390.2L1149.3 390.2Z" fill="#FF0000"/>
<path d="M1180.0 378.7L1188.5 394.7L1171.5 394.7Z" fill="#FF0000"/>
<path d="M1193.3 369.8L1201.8 385.8L1184.8 385.8Z" fill="#FF0000"/>
<path d="M1211.1 390.9L1219.6 406.9L1202.6 406.9Z" fill="#FF0000"/>
<path d="M1231.1 399.8L1239.6 415.8L1222.6 415.8Z" fill="#FF0000"/>
<path d="M1251.1 377.6L1259.6 393.6L1242.6 393.6Z" fill="#FF0000"/>
<path d="M1265.6 378.7L1274.1 394.7L1257.1 394.7Z" fill="#FF0000"/>
<path d="M1291.1 369.8L1299.6 385.8L1282.6 385.8Z" fill="#FF0000"/>
<path d="M1303.3 372.0L1311.8 388.0L1294.8 388.0Z" fill="#FF0000"/>
<path d="M1323.3 367.6L1331.8 383.6L1314.8 383.6Z" fill="#FF0000"/>
<path d="M1340.0 364.2L1348.5 380.2L1331.5 380.2Z" fill="#FF0000"/>
<path d="M1357.8 378.7L1366.3 394.7L1349.3 394.7Z" fill="#FF0000"/>
<path d="M1377.8 375.3L1386.3 391.3L1369.3 391.3Z" fill="#FF0000"/>
<path d="M1398.9 414.2L1407.4 430.2L1390.4 430.2Z" fill="#FF0000"/>
<path d="M1416.7 395.3L1425.2 411.3L1408.2 411.3Z" fill="#FF0000"/>
<path d="M1431.1 405.3L1439.6 421.3L1422.6 421.3Z" fill="#FF0000"/>
<path d="M1451.1 395.3L1459.6 411.3L1442.6 411.3Z" fill="#FF0000"/>
<path d="M1486.7 402.0L1495.2 418.0L1478.2 418.0Z" fill="#FF0000"/>
<path d="M1506.7 397.6L1515.2 413.6L1498.2 413.6Z" fill="#FF0000"/>
<path d="M1523.3 404.2L1531.8 420.2L1514.8 420.2Z" fill="#FF0000"/>
<path d="M1541.1 398.7L1549.6 414.7L1532.6 414.7Z" fill="#FF0000"/>
<path d="M1557.8 412.0L1566.3 428.0L1549.3 428.0Z" fill="#FF0000"/>
<path d="M1577.8 405.3L1586.3 421.3L1569.3 421.3Z" fill="#FF0000"/>
<path d="M1595.6 403.1L1604.1 419.1L1587.1 419.1Z" fill="#FF0000"/>
<path d="M1616.7 403.1L1625.2 419.1L1608.2 419.1Z" fill="#FF0000"/>
<path d="M1633.3 414.2L1641.8 430.2L1624.8 430.2Z" fill="#FF0000"/>
<path d="M1650.0 430.9L1658.5 446.9L1641.5 446.9Z" fill="#FF0000"/>
<path d="M1666.7 416.4L1675.2 432.4L1658.2 432.4Z" fill="#FF0000"/>
<path d="M1691.1 423.1L1699.6 439.1L1682.6 439.1Z" fill="#FF0000"/>
<path d="M1704.4 424.2L1712.9 440.2L1695.9 440.2Z" fill="#FF0000"/>
<path d="M1721.1 430.9L1729.6 446.9L1712.6 446.9Z" fill="#FF0000"/>
<polyline points="172.0,473.0 176.4,466.7 180.9,480.0 184.2,468.9 188.7,488.9 194.2,464.4 199.8,488.9 204.2,473.3 205.3,455.6 209.8,433.3 213.1,400.0 216.4,366.7 223.1,322.0 229.8,288.9 236.4,268.9 238.7,251.0 239.8,204.4 247.6,246.7 258.7,226.7 260.9,188.9 263.1,171.1 272.0,163.3 280.9,165.6 292.0,146.7 307.6,154.4 323.1,164.4 336.4,145.6 349.8,155.6 365.3,173.3 383.1,188.9 389.8,188.9 403.1,204.4 414.2,212.2 423.1,180.0 429.8,183.3 435.3,182.2 443.1,204.4 452.0,234.4 458.7,234.4 465.3,215.6 467.6,157.8 474.2,156.7 478.7,136.7 487.6,153.3 492.0,144.4 498.7,138.9 502.0,126.7 509.8,134.4 518.7,138.9 527.6,128.9 537.6,121.1 549.8,126.7 560.0,131.1 573.3,133.3 582.2,146.7 591.1,160.0 598.9,173.3 606.7,171.1 613.3,177.8 624.4,186.7 633.3,188.9 642.2,188.9 650.0,197.8 655.6,177.8 664.4,160.0 675.6,186.7 680.0,186.7 684.4,160.0 693.3,175.6 704.4,186.7 715.6,197.8 724.4,191.1 731.1,188.9 735.6,173.3 746.7,170.0 755.6,167.8 762.2,165.6 773.3,164.4 777.8,162.7 791.1,164.4 802.2,170.0 815.6,173.3 826.7,182.2 833.3,181.1 848.9,165.6 857.8,173.3 865.6,190.0 873.3,191.1 884.4,186.7 891.1,173.3 904.4,192.2 908.9,168.9 915.6,153.3 924.4,153.3 931.1,146.7 935.6,128.9 942.2,133.3 951.1,140.0 956.7,140.0 962.2,135.6 966.7,127.8 972.2,133.3 983.3,137.8 994.4,142.2 1003.3,151.1 1012.2,160.0 1021.1,164.4 1032.2,171.1 1041.1,173.3 1052.2,177.8 1061.1,176.7 1067.8,188.9 1072.2,195.6 1083.3,204.4 1092.2,212.2 1097.8,215.6 1103.3,211.1 1108.9,212.2 1112.2,193.3 1115.6,175.6 1121.1,171.1 1127.8,168.9 1136.7,175.6 1141.1,157.8 1143.3,146.7 1150.0,146.7 1154.4,144.4 1158.9,153.3 1165.6,154.4 1173.3,151.1 1176.7,135.6 1182.2,128.9 1192.2,136.7 1197.8,126.7 1203.3,135.6 1208.9,140.0 1215.6,140.0 1223.3,155.6 1232.2,164.4 1245.6,174.4 1261.1,180.0 1270.0,185.6 1276.7,186.7 1285.6,177.8 1293.3,172.2 1301.1,181.1 1308.9,181.1 1312.2,174.4 1316.7,185.6 1321.1,176.7 1327.8,191.1 1334.4,200.0 1343.3,205.6 1346.7,191.1 1354.4,182.2 1364.4,184.4 1373.3,173.3 1381.1,171.1 1383.3,155.6 1390.0,142.2 1402.2,145.6 1411.1,150.0 1417.8,157.8 1424.4,173.3 1430.0,188.9 1440.0,190.0 1446.7,195.6 1453.3,201.1 1461.1,203.3 1468.9,201.1 1477.8,202.7 1486.7,198.9 1494.4,205.6 1504.4,202.2 1515.6,201.1 1523.3,200.0 1526.7,187.8 1533.3,183.3 1537.8,177.8 1544.4,175.6 1550.0,188.9 1555.6,177.8 1564.4,187.8 1571.1,184.4 1575.6,190.0 1584.4,185.6 1591.1,204.4 1597.8,197.8 1601.1,171.1 1608.9,155.6 1616.7,150.0 1628.9,156.7 1646.7,155.6 1662.2,156.7 1673.3,162.2 1688.9,173.3 1697.8,183.3 1708.9,186.7 1720.0,186.7" fill="none" stroke="#000" stroke-width="2.7" stroke-linejoin="round" stroke-linecap="round"/>
</g>
<path d="M172 119V901H1739V119" stroke="#000" stroke-width="4" fill="none" stroke-linejoin="miter" stroke-linecap="butt"/>
<path d="M172 121.0H194" stroke="#000" stroke-width="4" fill="none"/>
<path d="M172 218.5H194" stroke="#000" stroke-width="4" fill="none"/>
<path d="M172 316.0H194" stroke="#000" stroke-width="4" fill="none"/>
<path d="M172 413.5H194" stroke="#000" stroke-width="4" fill="none"/>
<path d="M172 511.0H194" stroke="#000" stroke-width="4" fill="none"/>
<path d="M172 608.5H194" stroke="#000" stroke-width="4" fill="none"/>
<path d="M172 706.0H194" stroke="#000" stroke-width="4" fill="none"/>
<path d="M172 803.5H194" stroke="#000" stroke-width="4" fill="none"/>
<path d="M172 901.0H194" stroke="#000" stroke-width="4" fill="none"/>
<path d="M172 169.8H184" stroke="#000" stroke-width="4" fill="none"/>
<path d="M172 267.2H184" stroke="#000" stroke-width="4" fill="none"/>
<path d="M172 364.8H184" stroke="#000" stroke-width="4" fill="none"/>
<path d="M172 462.2H184" stroke="#000" stroke-width="4" fill="none"/>
<path d="M172 559.8H184" stroke="#000" stroke-width="4" fill="none"/>
<path d="M172 657.2H184" stroke="#000" stroke-width="4" fill="none"/>
<path d="M172 754.8H184" stroke="#000" stroke-width="4" fill="none"/>
<path d="M172 852.2H184" stroke="#000" stroke-width="4" fill="none"/>
<path d="M1739 121.0H1715.5" stroke="#000" stroke-width="4" fill="none"/>
<path d="M1739 251.0H1715.5" stroke="#000" stroke-width="4" fill="none"/>
<path d="M1739 381.0H1715.5" stroke="#000" stroke-width="4" fill="none"/>
<path d="M1739 511.0H1715.5" stroke="#000" stroke-width="4" fill="none"/>
<path d="M1739 641.0H1715.5" stroke="#000" stroke-width="4" fill="none"/>
<path d="M1739 771.0H1715.5" stroke="#000" stroke-width="4" fill="none"/>
<path d="M1739 901.0H1715.5" stroke="#000" stroke-width="4" fill="none"/>
<path d="M1739 186.0H1725.5" stroke="#000" stroke-width="4" fill="none"/>
<path d="M1739 316.0H1725.5" stroke="#000" stroke-width="4" fill="none"/>
<path d="M1739 446.0H1725.5" stroke="#000" stroke-width="4" fill="none"/>
<path d="M1739 576.0H1725.5" stroke="#000" stroke-width="4" fill="none"/>
<path d="M1739 706.0H1725.5" stroke="#000" stroke-width="4" fill="none"/>
<path d="M1739 836.0H1725.5" stroke="#000" stroke-width="4" fill="none"/>
<path d="M281.3 901V890" stroke="#000" stroke-width="4" fill="none"/>
<path d="M390.6 901V880" stroke="#000" stroke-width="4" fill="none"/>
<path d="M499.9 901V890" stroke="#000" stroke-width="4" fill="none"/>
<path d="M609.2 901V880" stroke="#000" stroke-width="4" fill="none"/>
<path d="M718.5 901V890" stroke="#000" stroke-width="4" fill="none"/>
<path d="M827.8 901V880" stroke="#000" stroke-width="4" fill="none"/>
<path d="M937.1 901V890" stroke="#000" stroke-width="4" fill="none"/>
<path d="M1046.4 901V880" stroke="#000" stroke-width="4" fill="none"/>
<path d="M1155.7 901V890" stroke="#000" stroke-width="4" fill="none"/>
<path d="M1265.0 901V880" stroke="#000" stroke-width="4" fill="none"/>
<path d="M1374.3 901V890" stroke="#000" stroke-width="4" fill="none"/>
<path d="M1483.6 901V880" stroke="#000" stroke-width="4" fill="none"/>
<path d="M1592.9 901V890" stroke="#000" stroke-width="4" fill="none"/>
<path d="M1702.2 901V880" stroke="#000" stroke-width="4" fill="none"/>
<text x="144.5" y="137.5" text-anchor="end" class="tl">0</text>
<text x="144.5" y="235.0" text-anchor="end" class="tl">-1</text>
<text x="144.5" y="332.5" text-anchor="end" class="tl">-2</text>
<text x="144.5" y="430.0" text-anchor="end" class="tl">-3</text>
<text x="144.5" y="527.5" text-anchor="end" class="tl">-4</text>
<text x="144.5" y="625.0" text-anchor="end" class="tl">-5</text>
<text x="144.5" y="722.5" text-anchor="end" class="tl">-6</text>
<text x="144.5" y="820.0" text-anchor="end" class="tl">-7</text>
<text x="144.5" y="917.5" text-anchor="end" class="tl">-8</text>
<text x="1763" y="134.2" class="rl">400</text>
<text x="1763" y="264.2" class="rl">350</text>
<text x="1763" y="394.2" class="rl">300</text>
<text x="1763" y="524.2" class="rl">250</text>
<text x="1763" y="654.2" class="rl">200</text>
<text x="1763" y="784.2" class="rl">150</text>
<text x="1763" y="914.2" class="rl">100</text>
<text x="170.0" y="971.5" text-anchor="middle" class="tl">2007</text>
<text x="388.6" y="971.5" text-anchor="middle" class="tl">2008</text>
<text x="607.2" y="971.5" text-anchor="middle" class="tl">2009</text>
<text x="825.8" y="971.5" text-anchor="middle" class="tl">2010</text>
<text x="1044.4" y="971.5" text-anchor="middle" class="tl">2011</text>
<text x="1263.0" y="971.5" text-anchor="middle" class="tl">2012</text>
<text x="1481.6" y="971.5" text-anchor="middle" class="tl">2013</text>
<text x="1700.2" y="971.5" text-anchor="middle" class="tl">2014</text>
<text x="895.81" y="1034" class="ti" textLength="117.04" lengthAdjust="spacingAndGlyphs">Date</text>
<text transform="translate(71.5,728.53) rotate(-90)" x="0" y="0" class="ti" textLength="395.94" lengthAdjust="spacingAndGlyphs">Settelment (cm)</text>
<text transform="translate(1913,736.17) rotate(-90)" x="0" y="0" class="ti" textLength="477.47" lengthAdjust="spacingAndGlyphs">Reservoir level (m)</text>
<text x="32.70" y="57.8" class="pl" textLength="50.77" lengthAdjust="spacingAndGlyphs">a)</text>
<polyline points="139.0,40.0 266.0,40.0" fill="none" stroke="#800080" stroke-width="3.2" stroke-linejoin="round" stroke-linecap="round"/>
<path d="M202.5 30.0L210.5 40.0L202.5 50.0L194.5 40.0Z" fill="#800080"/>
<text x="280.15" y="59" class="lg" textLength="133.87" lengthAdjust="spacingAndGlyphs">WS01</text>
<polyline points="445.0,41.0 573.0,41.0" fill="none" stroke="#E4503A" stroke-width="3.2" stroke-linejoin="round" stroke-linecap="round"/>
<rect x="502.5" y="34.5" width="13.0" height="13.0" fill="#E4503A"/>
<text x="586.85" y="59" class="lg" textLength="138.10" lengthAdjust="spacingAndGlyphs">WS02</text>
<polyline points="751.0,41.5 881.0,41.5" fill="none" stroke="#0000FF" stroke-width="3.2" stroke-linejoin="round" stroke-linecap="round"/>
<path d="M809.0 31.5L823.0 41.5L809.0 51.5Z" fill="#0000FF"/>
<text x="893.95" y="59" class="lg" textLength="135.57" lengthAdjust="spacingAndGlyphs">WS03</text>
<polyline points="1058.0,41.5 1188.0,41.5" fill="none" stroke="#FF0000" stroke-width="3.2" stroke-linejoin="round" stroke-linecap="round"/>
<path d="M1123.0 33.0L1132.0 50.0L1114.0 50.0Z" fill="#FF0000"/>
<text x="1200.95" y="59" class="lg" textLength="135.47" lengthAdjust="spacingAndGlyphs">WS05</text>
<polyline points="1366.0,42.0 1491.0,42.0" fill="none" stroke="#000" stroke-width="3.2" stroke-linejoin="round" stroke-linecap="round"/>
<text x="1502.59" y="60.2" class="lg" textLength="339.63" lengthAdjust="spacingAndGlyphs">Reservoir level</text>
<g>
<polyline points="196.3,1319.8 206.8,1336.4 213.0,1339.0 219.9,1339.0 226.8,1336.4 233.8,1332.0 241.0,1328.0 248.0,1330.0 259.1,1334.6 267.8,1338.1 276.5,1342.5 283.0,1352.0 288.0,1362.0 291.0,1372.0 291.0,1398.6 304.0,1398.6 316.0,1371.0 339.6,1374.4 356.9,1401.9 381.1,1381.0 392.4,1383.0 418.0,1383.3 440.0,1382.0 461.2,1380.4 478.8,1381.4 496.5,1390.0 505.6,1391.1 521.1,1393.3 541.1,1394.4 563.3,1395.6 577.8,1404.4 598.9,1403.3 615.6,1405.6 635.6,1405.6 652.2,1407.3 668.9,1407.8 690.0,1408.2 706.7,1408.9 724.4,1413.3 744.4,1414.0 760.0,1414.0 783.3,1414.9 797.8,1416.2 824.4,1417.8 843.3,1419.3 863.3,1418.9 877.8,1421.1 897.8,1421.1 914.4,1422.2 936.7,1422.2 955.6,1424.4 970.0,1426.7 986.7,1426.7 1014.4,1426.7 1040.0,1426.7 1061.1,1426.7 1078.9,1427.8 1100.0,1427.8 1114.4,1430.0 1130.0,1432.2 1148.9,1433.3 1171.1,1434.4 1184.4,1434.4 1202.2,1435.6 1224.4,1436.2 1243.3,1435.6 1257.8,1436.7 1283.3,1436.7 1294.4,1438.9 1314.4,1437.8 1331.1,1436.7 1347.8,1438.9 1367.8,1438.9 1388.9,1445.6 1406.7,1441.1 1421.1,1444.4 1441.1,1443.3 1476.7,1443.3 1496.7,1443.3 1513.3,1445.6 1530.0,1446.7 1546.8,1448.0 1567.4,1446.9 1583.3,1448.0 1605.0,1446.9 1623.2,1444.6 1638.1,1446.9 1655.2,1448.0 1679.1,1450.3 1691.7,1450.3 1708.8,1451.5" fill="none" stroke="#800080" stroke-width="3.0" stroke-linejoin="round" stroke-linecap="round"/>
<circle cx="196.3" cy="1319.8" r="7.0" fill="#800080"/>
<circle cx="206.8" cy="1336.4" r="7.0" fill="#800080"/>
<circle cx="213.0" cy="1339.0" r="7.0" fill="#800080"/>
<circle cx="219.9" cy="1339.0" r="7.0" fill="#800080"/>
<circle cx="226.8" cy="1336.4" r="7.0" fill="#800080"/>
<circle cx="233.8" cy="1332.0" r="7.0" fill="#800080"/>
<circle cx="241.0" cy="1328.0" r="7.0" fill="#800080"/>
<circle cx="248.0" cy="1330.0" r="7.0" fill="#800080"/>
<circle cx="259.1" cy="1334.6" r="7.0" fill="#800080"/>
<circle cx="267.8" cy="1338.1" r="7.0" fill="#800080"/>
<circle cx="276.5" cy="1342.5" r="7.0" fill="#800080"/>
<circle cx="283.0" cy="1352.0" r="7.0" fill="#800080"/>
<circle cx="288.0" cy="1362.0" r="7.0" fill="#800080"/>
<circle cx="291.0" cy="1372.0" r="7.0" fill="#800080"/>
<circle cx="291.0" cy="1398.6" r="7.0" fill="#800080"/>
<circle cx="304.0" cy="1398.6" r="7.0" fill="#800080"/>
<circle cx="316.0" cy="1371.0" r="7.0" fill="#800080"/>
<circle cx="339.6" cy="1374.4" r="7.0" fill="#800080"/>
<circle cx="356.9" cy="1401.9" r="7.0" fill="#800080"/>
<circle cx="381.1" cy="1381.0" r="7.0" fill="#800080"/>
<circle cx="392.4" cy="1383.0" r="7.0" fill="#800080"/>
<circle cx="418.0" cy="1383.3" r="7.0" fill="#800080"/>
<circle cx="440.0" cy="1382.0" r="7.0" fill="#800080"/>
<circle cx="461.2" cy="1380.4" r="7.0" fill="#800080"/>
<circle cx="478.8" cy="1381.4" r="7.0" fill="#800080"/>
<circle cx="496.5" cy="1390.0" r="7.0" fill="#800080"/>
<circle cx="505.6" cy="1391.1" r="7.0" fill="#800080"/>
<circle cx="521.1" cy="1393.3" r="7.0" fill="#800080"/>
<circle cx="541.1" cy="1394.4" r="7.0" fill="#800080"/>
<circle cx="563.3" cy="1395.6" r="7.0" fill="#800080"/>
<circle cx="577.8" cy="1404.4" r="7.0" fill="#800080"/>
<circle cx="598.9" cy="1403.3" r="7.0" fill="#800080"/>
<circle cx="615.6" cy="1405.6" r="7.0" fill="#800080"/>
<circle cx="635.6" cy="1405.6" r="7.0" fill="#800080"/>
<circle cx="652.2" cy="1407.3" r="7.0" fill="#800080"/>
<circle cx="668.9" cy="1407.8" r="7.0" fill="#800080"/>
<circle cx="690.0" cy="1408.2" r="7.0" fill="#800080"/>
<circle cx="706.7" cy="1408.9" r="7.0" fill="#800080"/>
<circle cx="724.4" cy="1413.3" r="7.0" fill="#800080"/>
<circle cx="744.4" cy="1414.0" r="7.0" fill="#800080"/>
<circle cx="760.0" cy="1414.0" r="7.0" fill="#800080"/>
<circle cx="783.3" cy="1414.9" r="7.0" fill="#800080"/>
<circle cx="797.8" cy="1416.2" r="7.0" fill="#800080"/>
<circle cx="824.4" cy="1417.8" r="7.0" fill="#800080"/>
<circle cx="843.3" cy="1419.3" r="7.0" fill="#800080"/>
<circle cx="863.3" cy="1418.9" r="7.0" fill="#800080"/>
<circle cx="877.8" cy="1421.1" r="7.0" fill="#800080"/>
<circle cx="897.8" cy="1421.1" r="7.0" fill="#800080"/>
<circle cx="914.4" cy="1422.2" r="7.0" fill="#800080"/>
<circle cx="936.7" cy="1422.2" r="7.0" fill="#800080"/>
<circle cx="955.6" cy="1424.4" r="7.0" fill="#800080"/>
<circle cx="970.0" cy="1426.7" r="7.0" fill="#800080"/>
<circle cx="986.7" cy="1426.7" r="7.0" fill="#800080"/>
<circle cx="1014.4" cy="1426.7" r="7.0" fill="#800080"/>
<circle cx="1040.0" cy="1426.7" r="7.0" fill="#800080"/>
<circle cx="1061.1" cy="1426.7" r="7.0" fill="#800080"/>
<circle cx="1078.9" cy="1427.8" r="7.0" fill="#800080"/>
<circle cx="1100.0" cy="1427.8" r="7.0" fill="#800080"/>
<circle cx="1114.4" cy="1430.0" r="7.0" fill="#800080"/>
<circle cx="1130.0" cy="1432.2" r="7.0" fill="#800080"/>
<circle cx="1148.9" cy="1433.3" r="7.0" fill="#800080"/>
<circle cx="1171.1" cy="1434.4" r="7.0" fill="#800080"/>
<circle cx="1184.4" cy="1434.4" r="7.0" fill="#800080"/>
<circle cx="1202.2" cy="1435.6" r="7.0" fill="#800080"/>
<circle cx="1224.4" cy="1436.2" r="7.0" fill="#800080"/>
<circle cx="1243.3" cy="1435.6" r="7.0" fill="#800080"/>
<circle cx="1257.8" cy="1436.7" r="7.0" fill="#800080"/>
<circle cx="1283.3" cy="1436.7" r="7.0" fill="#800080"/>
<circle cx="1294.4" cy="1438.9" r="7.0" fill="#800080"/>
<circle cx="1314.4" cy="1437.8" r="7.0" fill="#800080"/>
<circle cx="1331.1" cy="1436.7" r="7.0" fill="#800080"/>
<circle cx="1347.8" cy="1438.9" r="7.0" fill="#800080"/>
<circle cx="1367.8" cy="1438.9" r="7.0" fill="#800080"/>
<circle cx="1388.9" cy="1445.6" r="7.0" fill="#800080"/>
<circle cx="1406.7" cy="1441.1" r="7.0" fill="#800080"/>
<circle cx="1421.1" cy="1444.4" r="7.0" fill="#800080"/>
<circle cx="1441.1" cy="1443.3" r="7.0" fill="#800080"/>
<circle cx="1476.7" cy="1443.3" r="7.0" fill="#800080"/>
<circle cx="1496.7" cy="1443.3" r="7.0" fill="#800080"/>
<circle cx="1513.3" cy="1445.6" r="7.0" fill="#800080"/>
<circle cx="1530.0" cy="1446.7" r="7.0" fill="#800080"/>
<circle cx="1546.8" cy="1448.0" r="7.0" fill="#800080"/>
<circle cx="1567.4" cy="1446.9" r="7.0" fill="#800080"/>
<circle cx="1583.3" cy="1448.0" r="7.0" fill="#800080"/>
<circle cx="1605.0" cy="1446.9" r="7.0" fill="#800080"/>
<circle cx="1623.2" cy="1444.6" r="7.0" fill="#800080"/>
<circle cx="1638.1" cy="1446.9" r="7.0" fill="#800080"/>
<circle cx="1655.2" cy="1448.0" r="7.0" fill="#800080"/>
<circle cx="1679.1" cy="1450.3" r="7.0" fill="#800080"/>
<circle cx="1691.7" cy="1450.3" r="7.0" fill="#800080"/>
<circle cx="1708.8" cy="1451.5" r="7.0" fill="#800080"/>
<circle cx="197.0" cy="1320.9" r="7.0" fill="#800080"/>
<circle cx="203.0" cy="1330.4" r="7.0" fill="#800080"/>
<circle cx="209.0" cy="1337.3" r="7.0" fill="#800080"/>
<circle cx="215.0" cy="1339.0" r="7.0" fill="#800080"/>
<circle cx="221.0" cy="1338.6" r="7.0" fill="#800080"/>
<circle cx="227.0" cy="1336.3" r="7.0" fill="#800080"/>
<circle cx="233.0" cy="1332.5" r="7.0" fill="#800080"/>
<circle cx="239.0" cy="1329.1" r="7.0" fill="#800080"/>
<circle cx="245.0" cy="1329.1" r="7.0" fill="#800080"/>
<circle cx="251.0" cy="1331.2" r="7.0" fill="#800080"/>
<circle cx="257.0" cy="1333.7" r="7.0" fill="#800080"/>
<circle cx="263.0" cy="1336.2" r="7.0" fill="#800080"/>
<circle cx="269.0" cy="1338.7" r="7.0" fill="#800080"/>
<circle cx="275.0" cy="1341.7" r="7.0" fill="#800080"/>
<circle cx="281.0" cy="1349.1" r="7.0" fill="#800080"/>
<circle cx="287.0" cy="1360.0" r="7.0" fill="#800080"/>
<circle cx="296.0" cy="1398.6" r="7.0" fill="#800080"/>
<circle cx="305.0" cy="1396.3" r="7.0" fill="#800080"/>
<circle cx="314.0" cy="1375.6" r="7.0" fill="#800080"/>
<circle cx="323.0" cy="1372.0" r="7.0" fill="#800080"/>
<circle cx="332.0" cy="1373.3" r="7.0" fill="#800080"/>
<circle cx="341.0" cy="1376.6" r="7.0" fill="#800080"/>
<circle cx="350.0" cy="1390.9" r="7.0" fill="#800080"/>
<circle cx="359.0" cy="1400.1" r="7.0" fill="#800080"/>
<circle cx="368.0" cy="1392.3" r="7.0" fill="#800080"/>
<circle cx="377.0" cy="1384.5" r="7.0" fill="#800080"/>
<circle cx="386.0" cy="1381.9" r="7.0" fill="#800080"/>
<circle cx="395.0" cy="1383.0" r="7.0" fill="#800080"/>
<circle cx="404.0" cy="1383.1" r="7.0" fill="#800080"/>
<circle cx="413.0" cy="1383.2" r="7.0" fill="#800080"/>
<circle cx="422.0" cy="1383.1" r="7.0" fill="#800080"/>
<circle cx="431.0" cy="1382.5" r="7.0" fill="#800080"/>
<circle cx="440.0" cy="1382.0" r="7.0" fill="#800080"/>
<circle cx="449.0" cy="1381.3" r="7.0" fill="#800080"/>
<circle cx="458.0" cy="1380.6" r="7.0" fill="#800080"/>
<circle cx="467.0" cy="1380.7" r="7.0" fill="#800080"/>
<circle cx="476.0" cy="1381.2" r="7.0" fill="#800080"/>
<circle cx="485.0" cy="1384.4" r="7.0" fill="#800080"/>
<circle cx="494.0" cy="1388.8" r="7.0" fill="#800080"/>
<circle cx="503.0" cy="1390.8" r="7.0" fill="#800080"/>
<circle cx="512.0" cy="1392.0" r="7.0" fill="#800080"/>
<circle cx="521.0" cy="1393.3" r="7.0" fill="#800080"/>
<circle cx="530.0" cy="1393.8" r="7.0" fill="#800080"/>
<circle cx="539.0" cy="1394.3" r="7.0" fill="#800080"/>
<circle cx="548.0" cy="1394.8" r="7.0" fill="#800080"/>
<circle cx="557.0" cy="1395.3" r="7.0" fill="#800080"/>
<circle cx="566.0" cy="1397.2" r="7.0" fill="#800080"/>
<circle cx="575.0" cy="1402.7" r="7.0" fill="#800080"/>
<polyline points="197.2,1409.7 208.5,1427.1 216.8,1397.5 225.1,1434.1 240.8,1426.3 249.5,1438.5 259.1,1446.3 271.3,1442.8 276.5,1450.7 287.8,1462.0 294.8,1465.5 305.3,1470.7 314.0,1467.2 338.4,1481.2 356.5,1482.0 379.3,1490.0 390.8,1493.0 408.8,1493.0 425.1,1494.0 448.0,1495.0 470.8,1501.0 492.2,1507.8 510.0,1510.0 530.0,1516.7 554.4,1514.4 578.9,1516.7 598.9,1517.8 615.6,1518.9 635.6,1520.0 652.2,1522.2 670.0,1523.3 690.0,1525.6 706.7,1526.7 724.4,1525.6 745.6,1526.7 761.1,1527.8 783.3,1528.9 798.9,1531.1 825.6,1533.3 845.6,1535.6 864.4,1534.4 877.8,1533.3 897.8,1537.8 914.4,1537.8 936.7,1538.9 955.6,1542.2 970.0,1542.2 986.7,1543.3 1014.4,1546.7 1040.0,1544.4 1061.1,1544.4 1078.9,1544.4 1100.0,1544.4 1114.4,1546.7 1131.1,1547.8 1150.0,1548.9 1172.2,1551.1 1185.6,1553.3 1203.3,1556.7 1224.4,1554.4 1243.3,1553.3 1257.8,1554.4 1283.3,1555.6 1294.4,1556.7 1314.4,1554.4 1331.1,1557.8 1347.8,1556.7 1367.8,1560.0 1390.0,1563.3 1406.7,1560.0 1422.2,1561.1 1441.1,1560.0 1476.7,1562.2 1496.7,1562.2 1513.3,1563.3 1530.0,1563.3 1546.7,1564.4 1567.8,1560.0 1583.3,1563.3 1605.6,1565.6 1623.3,1566.7 1638.9,1566.7 1655.6,1567.8 1680.3,1570.5 1692.8,1570.5 1709.9,1570.5" fill="none" stroke="#E4503A" stroke-width="3.0" stroke-linejoin="round" stroke-linecap="round"/>
<rect x="191.2" y="1403.7" width="12.0" height="12.0" fill="#E4503A"/>
<rect x="202.5" y="1421.1" width="12.0" height="12.0" fill="#E4503A"/>
<rect x="210.8" y="1391.5" width="12.0" height="12.0" fill="#E4503A"/>
<rect x="219.1" y="1428.1" width="12.0" height="12.0" fill="#E4503A"/>
<rect x="234.8" y="1420.3" width="12.0" height="12.0" fill="#E4503A"/>
<rect x="243.5" y="1432.5" width="12.0" height="12.0" fill="#E4503A"/>
<rect x="253.1" y="1440.3" width="12.0" height="12.0" fill="#E4503A"/>
<rect x="265.3" y="1436.8" width="12.0" height="12.0" fill="#E4503A"/>
<rect x="270.5" y="1444.7" width="12.0" height="12.0" fill="#E4503A"/>
<rect x="281.8" y="1456.0" width="12.0" height="12.0" fill="#E4503A"/>
<rect x="288.8" y="1459.5" width="12.0" height="12.0" fill="#E4503A"/>
<rect x="299.3" y="1464.7" width="12.0" height="12.0" fill="#E4503A"/>
<rect x="308.0" y="1461.2" width="12.0" height="12.0" fill="#E4503A"/>
<rect x="332.4" y="1475.2" width="12.0" height="12.0" fill="#E4503A"/>
<rect x="350.5" y="1476.0" width="12.0" height="12.0" fill="#E4503A"/>
<rect x="373.3" y="1484.0" width="12.0" height="12.0" fill="#E4503A"/>
<rect x="384.8" y="1487.0" width="12.0" height="12.0" fill="#E4503A"/>
<rect x="402.8" y="1487.0" width="12.0" height="12.0" fill="#E4503A"/>
<rect x="419.1" y="1488.0" width="12.0" height="12.0" fill="#E4503A"/>
<rect x="442.0" y="1489.0" width="12.0" height="12.0" fill="#E4503A"/>
<rect x="464.8" y="1495.0" width="12.0" height="12.0" fill="#E4503A"/>
<rect x="486.2" y="1501.8" width="12.0" height="12.0" fill="#E4503A"/>
<rect x="504.0" y="1504.0" width="12.0" height="12.0" fill="#E4503A"/>
<rect x="524.0" y="1510.7" width="12.0" height="12.0" fill="#E4503A"/>
<rect x="548.4" y="1508.4" width="12.0" height="12.0" fill="#E4503A"/>
<rect x="572.9" y="1510.7" width="12.0" height="12.0" fill="#E4503A"/>
<rect x="592.9" y="1511.8" width="12.0" height="12.0" fill="#E4503A"/>
<rect x="609.6" y="1512.9" width="12.0" height="12.0" fill="#E4503A"/>
<rect x="629.6" y="1514.0" width="12.0" height="12.0" fill="#E4503A"/>
<rect x="646.2" y="1516.2" width="12.0" height="12.0" fill="#E4503A"/>
<rect x="664.0" y="1517.3" width="12.0" height="12.0" fill="#E4503A"/>
<rect x="684.0" y="1519.6" width="12.0" height="12.0" fill="#E4503A"/>
<rect x="700.7" y="1520.7" width="12.0" height="12.0" fill="#E4503A"/>
<rect x="718.4" y="1519.6" width="12.0" height="12.0" fill="#E4503A"/>
<rect x="739.6" y="1520.7" width="12.0" height="12.0" fill="#E4503A"/>
<rect x="755.1" y="1521.8" width="12.0" height="12.0" fill="#E4503A"/>
<rect x="777.3" y="1522.9" width="12.0" height="12.0" fill="#E4503A"/>
<rect x="792.9" y="1525.1" width="12.0" height="12.0" fill="#E4503A"/>
<rect x="819.6" y="1527.3" width="12.0" height="12.0" fill="#E4503A"/>
<rect x="839.6" y="1529.6" width="12.0" height="12.0" fill="#E4503A"/>
<rect x="858.4" y="1528.4" width="12.0" height="12.0" fill="#E4503A"/>
<rect x="871.8" y="1527.3" width="12.0" height="12.0" fill="#E4503A"/>
<rect x="891.8" y="1531.8" width="12.0" height="12.0" fill="#E4503A"/>
<rect x="908.4" y="1531.8" width="12.0" height="12.0" fill="#E4503A"/>
<rect x="930.7" y="1532.9" width="12.0" height="12.0" fill="#E4503A"/>
<rect x="949.6" y="1536.2" width="12.0" height="12.0" fill="#E4503A"/>
<rect x="964.0" y="1536.2" width="12.0" height="12.0" fill="#E4503A"/>
<rect x="980.7" y="1537.3" width="12.0" height="12.0" fill="#E4503A"/>
<rect x="1008.4" y="1540.7" width="12.0" height="12.0" fill="#E4503A"/>
<rect x="1034.0" y="1538.4" width="12.0" height="12.0" fill="#E4503A"/>
<rect x="1055.1" y="1538.4" width="12.0" height="12.0" fill="#E4503A"/>
<rect x="1072.9" y="1538.4" width="12.0" height="12.0" fill="#E4503A"/>
<rect x="1094.0" y="1538.4" width="12.0" height="12.0" fill="#E4503A"/>
<rect x="1108.4" y="1540.7" width="12.0" height="12.0" fill="#E4503A"/>
<rect x="1125.1" y="1541.8" width="12.0" height="12.0" fill="#E4503A"/>
<rect x="1144.0" y="1542.9" width="12.0" height="12.0" fill="#E4503A"/>
<rect x="1166.2" y="1545.1" width="12.0" height="12.0" fill="#E4503A"/>
<rect x="1179.6" y="1547.3" width="12.0" height="12.0" fill="#E4503A"/>
<rect x="1197.3" y="1550.7" width="12.0" height="12.0" fill="#E4503A"/>
<rect x="1218.4" y="1548.4" width="12.0" height="12.0" fill="#E4503A"/>
<rect x="1237.3" y="1547.3" width="12.0" height="12.0" fill="#E4503A"/>
<rect x="1251.8" y="1548.4" width="12.0" height="12.0" fill="#E4503A"/>
<rect x="1277.3" y="1549.6" width="12.0" height="12.0" fill="#E4503A"/>
<rect x="1288.4" y="1550.7" width="12.0" height="12.0" fill="#E4503A"/>
<rect x="1308.4" y="1548.4" width="12.0" height="12.0" fill="#E4503A"/>
<rect x="1325.1" y="1551.8" width="12.0" height="12.0" fill="#E4503A"/>
<rect x="1341.8" y="1550.7" width="12.0" height="12.0" fill="#E4503A"/>
<rect x="1361.8" y="1554.0" width="12.0" height="12.0" fill="#E4503A"/>
<rect x="1384.0" y="1557.3" width="12.0" height="12.0" fill="#E4503A"/>
<rect x="1400.7" y="1554.0" width="12.0" height="12.0" fill="#E4503A"/>
<rect x="1416.2" y="1555.1" width="12.0" height="12.0" fill="#E4503A"/>
<rect x="1435.1" y="1554.0" width="12.0" height="12.0" fill="#E4503A"/>
<rect x="1470.7" y="1556.2" width="12.0" height="12.0" fill="#E4503A"/>
<rect x="1490.7" y="1556.2" width="12.0" height="12.0" fill="#E4503A"/>
<rect x="1507.3" y="1557.3" width="12.0" height="12.0" fill="#E4503A"/>
<rect x="1524.0" y="1557.3" width="12.0" height="12.0" fill="#E4503A"/>
<rect x="1540.7" y="1558.4" width="12.0" height="12.0" fill="#E4503A"/>
<rect x="1561.8" y="1554.0" width="12.0" height="12.0" fill="#E4503A"/>
<rect x="1577.3" y="1557.3" width="12.0" height="12.0" fill="#E4503A"/>
<rect x="1599.6" y="1559.6" width="12.0" height="12.0" fill="#E4503A"/>
<rect x="1617.3" y="1560.7" width="12.0" height="12.0" fill="#E4503A"/>
<rect x="1632.9" y="1560.7" width="12.0" height="12.0" fill="#E4503A"/>
<rect x="1649.6" y="1561.8" width="12.0" height="12.0" fill="#E4503A"/>
<rect x="1674.3" y="1564.5" width="12.0" height="12.0" fill="#E4503A"/>
<rect x="1686.8" y="1564.5" width="12.0" height="12.0" fill="#E4503A"/>
<rect x="1703.9" y="1564.5" width="12.0" height="12.0" fill="#E4503A"/>
<rect x="198.5" y="1414.9" width="12.0" height="12.0" fill="#E4503A"/>
<rect x="206.0" y="1408.6" width="12.0" height="12.0" fill="#E4503A"/>
<rect x="213.5" y="1403.4" width="12.0" height="12.0" fill="#E4503A"/>
<rect x="221.0" y="1427.2" width="12.0" height="12.0" fill="#E4503A"/>
<rect x="228.5" y="1423.4" width="12.0" height="12.0" fill="#E4503A"/>
<rect x="236.0" y="1422.0" width="12.0" height="12.0" fill="#E4503A"/>
<rect x="243.5" y="1432.5" width="12.0" height="12.0" fill="#E4503A"/>
<rect x="251.0" y="1438.6" width="12.0" height="12.0" fill="#E4503A"/>
<rect x="258.5" y="1438.8" width="12.0" height="12.0" fill="#E4503A"/>
<rect x="266.0" y="1437.9" width="12.0" height="12.0" fill="#E4503A"/>
<rect x="273.5" y="1447.7" width="12.0" height="12.0" fill="#E4503A"/>
<rect x="281.0" y="1455.2" width="12.0" height="12.0" fill="#E4503A"/>
<rect x="288.5" y="1459.3" width="12.0" height="12.0" fill="#E4503A"/>
<rect x="296.0" y="1463.1" width="12.0" height="12.0" fill="#E4503A"/>
<rect x="303.5" y="1463.0" width="12.0" height="12.0" fill="#E4503A"/>
<rect x="311.0" y="1462.9" width="12.0" height="12.0" fill="#E4503A"/>
<rect x="318.5" y="1467.2" width="12.0" height="12.0" fill="#E4503A"/>
<rect x="326.0" y="1471.5" width="12.0" height="12.0" fill="#E4503A"/>
<rect x="333.5" y="1475.2" width="12.0" height="12.0" fill="#E4503A"/>
<rect x="341.0" y="1475.6" width="12.0" height="12.0" fill="#E4503A"/>
<rect x="348.5" y="1475.9" width="12.0" height="12.0" fill="#E4503A"/>
<rect x="356.0" y="1477.9" width="12.0" height="12.0" fill="#E4503A"/>
<rect x="363.5" y="1480.6" width="12.0" height="12.0" fill="#E4503A"/>
<rect x="371.0" y="1483.2" width="12.0" height="12.0" fill="#E4503A"/>
<rect x="378.5" y="1485.4" width="12.0" height="12.0" fill="#E4503A"/>
<rect x="386.0" y="1487.0" width="12.0" height="12.0" fill="#E4503A"/>
<rect x="393.5" y="1487.0" width="12.0" height="12.0" fill="#E4503A"/>
<rect x="401.0" y="1487.0" width="12.0" height="12.0" fill="#E4503A"/>
<rect x="408.5" y="1487.3" width="12.0" height="12.0" fill="#E4503A"/>
<rect x="416.0" y="1487.8" width="12.0" height="12.0" fill="#E4503A"/>
<rect x="423.5" y="1488.2" width="12.0" height="12.0" fill="#E4503A"/>
<rect x="431.0" y="1488.5" width="12.0" height="12.0" fill="#E4503A"/>
<rect x="438.5" y="1488.8" width="12.0" height="12.0" fill="#E4503A"/>
<rect x="446.0" y="1490.1" width="12.0" height="12.0" fill="#E4503A"/>
<rect x="453.5" y="1492.0" width="12.0" height="12.0" fill="#E4503A"/>
<rect x="461.0" y="1494.0" width="12.0" height="12.0" fill="#E4503A"/>
<rect x="468.5" y="1496.2" width="12.0" height="12.0" fill="#E4503A"/>
<rect x="476.0" y="1498.6" width="12.0" height="12.0" fill="#E4503A"/>
<rect x="483.5" y="1500.9" width="12.0" height="12.0" fill="#E4503A"/>
<rect x="491.0" y="1502.4" width="12.0" height="12.0" fill="#E4503A"/>
<rect x="498.5" y="1503.3" width="12.0" height="12.0" fill="#E4503A"/>
<rect x="506.0" y="1504.7" width="12.0" height="12.0" fill="#E4503A"/>
<rect x="513.5" y="1507.2" width="12.0" height="12.0" fill="#E4503A"/>
<rect x="521.0" y="1509.7" width="12.0" height="12.0" fill="#E4503A"/>
<rect x="528.5" y="1510.3" width="12.0" height="12.0" fill="#E4503A"/>
<rect x="536.0" y="1509.6" width="12.0" height="12.0" fill="#E4503A"/>
<rect x="543.5" y="1508.9" width="12.0" height="12.0" fill="#E4503A"/>
<rect x="551.0" y="1508.6" width="12.0" height="12.0" fill="#E4503A"/>
<rect x="558.5" y="1509.3" width="12.0" height="12.0" fill="#E4503A"/>
<rect x="566.0" y="1510.1" width="12.0" height="12.0" fill="#E4503A"/>
<polyline points="191.1,1557.8 202.2,1573.3 211.1,1580.0 217.8,1593.3 242.2,1581.1 251.1,1593.3 260.0,1610.0 271.1,1611.1 277.8,1622.2 284.4,1633.3 288.9,1646.7 294.4,1662.2 306.7,1678.9 313.3,1677.8 340.0,1693.3 348.9,1704.4 357.8,1704.4 380.0,1708.9 391.1,1724.4 410.0,1712.2 428.9,1726.7 445.6,1722.2 461.1,1731.1 467.8,1742.2 478.9,1735.6 493.3,1738.9 507.8,1751.1 517.8,1753.3 531.1,1754.4 544.4,1762.2 555.6,1764.4 564.4,1755.6 579.6,1777.0 608.6,1780.2 640.7,1785.0 676.0,1788.8 705.0,1794.6 743.5,1800.4 788.5,1804.3 820.6,1807.5 859.2,1810.7 897.8,1815.5 939.5,1820.3 981.3,1826.8 1013.4,1826.8 1045.6,1830.0 1064.9,1830.9 1080.9,1829.3 1097.0,1831.6 1129.1,1839.6 1150.0,1841.4 1178.9,1843.0 1204.6,1846.2 1227.1,1846.2 1246.4,1849.4 1281.7,1851.1 1310.7,1848.8 1342.8,1852.7 1368.5,1855.9 1387.8,1861.3 1423.1,1862.3 1445.6,1861.3 1471.3,1863.3 1503.5,1866.5 1535.6,1870.3 1583.8,1871.0 1625.6,1874.2 1651.3,1873.6 1683.4,1876.8 1709.1,1876.8" fill="none" stroke="#000080" stroke-width="3.2" stroke-linejoin="round" stroke-linecap="round"/>
<path d="M196.0 1567.0L209.0 1580.0M196.0 1580.0L209.0 1567.0" stroke="#7070cc" stroke-width="1.2" stroke-opacity="0.8" fill="none"/>
<path d="M207.5 1579.3L220.5 1592.3M207.5 1592.3L220.5 1579.3" stroke="#7070cc" stroke-width="1.2" stroke-opacity="0.8" fill="none"/>
<path d="M219.0 1583.0L232.0 1596.0M219.0 1596.0L232.0 1583.0" stroke="#7070cc" stroke-width="1.2" stroke-opacity="0.8" fill="none"/>
<path d="M230.5 1577.2L243.5 1590.2M230.5 1590.2L243.5 1577.2" stroke="#7070cc" stroke-width="1.2" stroke-opacity="0.8" fill="none"/>
<path d="M242.0 1583.2L255.0 1596.2M242.0 1596.2L255.0 1583.2" stroke="#7070cc" stroke-width="1.2" stroke-opacity="0.8" fill="none"/>
<path d="M253.5 1603.5L266.5 1616.5M253.5 1616.5L266.5 1603.5" stroke="#7070cc" stroke-width="1.2" stroke-opacity="0.8" fill="none"/>
<path d="M265.0 1605.3L278.0 1618.3M265.0 1618.3L278.0 1605.3" stroke="#7070cc" stroke-width="1.2" stroke-opacity="0.8" fill="none"/>
<path d="M276.5 1624.4L289.5 1637.4M276.5 1637.4L289.5 1624.4" stroke="#7070cc" stroke-width="1.2" stroke-opacity="0.8" fill="none"/>
<path d="M288.0 1655.8L301.0 1668.8M288.0 1668.8L301.0 1655.8" stroke="#7070cc" stroke-width="1.2" stroke-opacity="0.8" fill="none"/>
<path d="M299.5 1671.4L312.5 1684.4M299.5 1684.4L312.5 1671.4" stroke="#7070cc" stroke-width="1.2" stroke-opacity="0.8" fill="none"/>
<path d="M311.0 1673.7L324.0 1686.7M311.0 1686.7L324.0 1673.7" stroke="#7070cc" stroke-width="1.2" stroke-opacity="0.8" fill="none"/>
<path d="M322.5 1680.4L335.5 1693.4M322.5 1693.4L335.5 1680.4" stroke="#7070cc" stroke-width="1.2" stroke-opacity="0.8" fill="none"/>
<path d="M334.0 1687.4L347.0 1700.4M334.0 1700.4L347.0 1687.4" stroke="#7070cc" stroke-width="1.2" stroke-opacity="0.8" fill="none"/>
<path d="M345.5 1697.9L358.5 1710.9M345.5 1710.9L358.5 1697.9" stroke="#7070cc" stroke-width="1.2" stroke-opacity="0.8" fill="none"/>
<path d="M357.0 1699.1L370.0 1712.1M357.0 1712.1L370.0 1699.1" stroke="#7070cc" stroke-width="1.2" stroke-opacity="0.8" fill="none"/>
<path d="M368.5 1701.4L381.5 1714.4M368.5 1714.4L381.5 1701.4" stroke="#7070cc" stroke-width="1.2" stroke-opacity="0.8" fill="none"/>
<path d="M380.0 1711.5L393.0 1724.5M380.0 1724.5L393.0 1711.5" stroke="#7070cc" stroke-width="1.2" stroke-opacity="0.8" fill="none"/>
<path d="M391.5 1713.4L404.5 1726.4M391.5 1726.4L404.5 1713.4" stroke="#7070cc" stroke-width="1.2" stroke-opacity="0.8" fill="none"/>
<path d="M403.0 1706.0L416.0 1719.0M403.0 1719.0L416.0 1706.0" stroke="#7070cc" stroke-width="1.2" stroke-opacity="0.8" fill="none"/>
<path d="M414.5 1714.1L427.5 1727.1M414.5 1727.1L427.5 1714.1" stroke="#7070cc" stroke-width="1.2" stroke-opacity="0.8" fill="none"/>
<path d="M426.0 1719.2L439.0 1732.2M426.0 1732.2L439.0 1719.2" stroke="#7070cc" stroke-width="1.2" stroke-opacity="0.8" fill="none"/>
<path d="M437.5 1716.1L450.5 1729.1M437.5 1729.1L450.5 1716.1" stroke="#7070cc" stroke-width="1.2" stroke-opacity="0.8" fill="none"/>
<path d="M449.0 1721.4L462.0 1734.4M449.0 1734.4L462.0 1721.4" stroke="#7070cc" stroke-width="1.2" stroke-opacity="0.8" fill="none"/>
<path d="M460.5 1734.4L473.5 1747.4M460.5 1747.4L473.5 1734.4" stroke="#7070cc" stroke-width="1.2" stroke-opacity="0.8" fill="none"/>
<path d="M472.0 1729.3L485.0 1742.3M472.0 1742.3L485.0 1729.3" stroke="#7070cc" stroke-width="1.2" stroke-opacity="0.8" fill="none"/>
<path d="M483.5 1731.6L496.5 1744.6M483.5 1744.6L496.5 1731.6" stroke="#7070cc" stroke-width="1.2" stroke-opacity="0.8" fill="none"/>
<path d="M495.0 1739.3L508.0 1752.3M495.0 1752.3L508.0 1739.3" stroke="#7070cc" stroke-width="1.2" stroke-opacity="0.8" fill="none"/>
<path d="M506.5 1745.7L519.5 1758.7M506.5 1758.7L519.5 1745.7" stroke="#7070cc" stroke-width="1.2" stroke-opacity="0.8" fill="none"/>
<path d="M518.0 1747.4L531.0 1760.4M518.0 1760.4L531.0 1747.4" stroke="#7070cc" stroke-width="1.2" stroke-opacity="0.8" fill="none"/>
<path d="M529.5 1750.8L542.5 1763.8M529.5 1763.8L542.5 1750.8" stroke="#7070cc" stroke-width="1.2" stroke-opacity="0.8" fill="none"/>
<path d="M541.0 1756.3L554.0 1769.3M541.0 1769.3L554.0 1756.3" stroke="#7070cc" stroke-width="1.2" stroke-opacity="0.8" fill="none"/>
<path d="M552.5 1754.5L565.5 1767.5M552.5 1767.5L565.5 1754.5" stroke="#7070cc" stroke-width="1.2" stroke-opacity="0.8" fill="none"/>
<path d="M564.0 1757.7L577.0 1770.7M564.0 1770.7L577.0 1757.7" stroke="#7070cc" stroke-width="1.2" stroke-opacity="0.8" fill="none"/>
<path d="M575.5 1770.8L588.5 1783.8M575.5 1783.8L588.5 1770.8" stroke="#7070cc" stroke-width="1.2" stroke-opacity="0.8" fill="none"/>
<path d="M593.1 1772.7L606.1 1785.7M593.1 1785.7L606.1 1772.7" stroke="#7070cc" stroke-width="1.2" stroke-opacity="0.8" fill="none"/>
<path d="M610.7 1775.0L623.7 1788.0M610.7 1788.0L623.7 1775.0" stroke="#7070cc" stroke-width="1.2" stroke-opacity="0.8" fill="none"/>
<path d="M628.3 1777.6L641.3 1790.6M628.3 1790.6L641.3 1777.6" stroke="#7070cc" stroke-width="1.2" stroke-opacity="0.8" fill="none"/>
<path d="M645.9 1779.8L658.9 1792.8M645.9 1792.8L658.9 1779.8" stroke="#7070cc" stroke-width="1.2" stroke-opacity="0.8" fill="none"/>
<path d="M663.5 1781.7L676.5 1794.7M663.5 1794.7L676.5 1781.7" stroke="#7070cc" stroke-width="1.2" stroke-opacity="0.8" fill="none"/>
<path d="M681.1 1784.6L694.1 1797.6M681.1 1797.6L694.1 1784.6" stroke="#7070cc" stroke-width="1.2" stroke-opacity="0.8" fill="none"/>
<path d="M698.7 1788.1L711.7 1801.1M698.7 1801.1L711.7 1788.1" stroke="#7070cc" stroke-width="1.2" stroke-opacity="0.8" fill="none"/>
<path d="M716.3 1790.8L729.3 1803.8M716.3 1803.8L729.3 1790.8" stroke="#7070cc" stroke-width="1.2" stroke-opacity="0.8" fill="none"/>
<path d="M733.9 1793.4L746.9 1806.4M733.9 1806.4L746.9 1793.4" stroke="#7070cc" stroke-width="1.2" stroke-opacity="0.8" fill="none"/>
<path d="M751.5 1795.2L764.5 1808.2M751.5 1808.2L764.5 1795.2" stroke="#7070cc" stroke-width="1.2" stroke-opacity="0.8" fill="none"/>
<path d="M769.1 1796.7L782.1 1809.7M769.1 1809.7L782.1 1796.7" stroke="#7070cc" stroke-width="1.2" stroke-opacity="0.8" fill="none"/>
<path d="M786.7 1798.3L799.7 1811.3M786.7 1811.3L799.7 1798.3" stroke="#7070cc" stroke-width="1.2" stroke-opacity="0.8" fill="none"/>
<path d="M804.3 1800.0L817.3 1813.0M804.3 1813.0L817.3 1800.0" stroke="#7070cc" stroke-width="1.2" stroke-opacity="0.8" fill="none"/>
<path d="M821.9 1801.6L834.9 1814.6M821.9 1814.6L834.9 1801.6" stroke="#7070cc" stroke-width="1.2" stroke-opacity="0.8" fill="none"/>
<path d="M839.5 1803.1L852.5 1816.1M839.5 1816.1L852.5 1803.1" stroke="#7070cc" stroke-width="1.2" stroke-opacity="0.8" fill="none"/>
<path d="M857.1 1804.7L870.1 1817.7M857.1 1817.7L870.1 1804.7" stroke="#7070cc" stroke-width="1.2" stroke-opacity="0.8" fill="none"/>
<path d="M874.7 1806.9L887.7 1819.9M874.7 1819.9L887.7 1806.9" stroke="#7070cc" stroke-width="1.2" stroke-opacity="0.8" fill="none"/>
<path d="M892.3 1809.1L905.3 1822.1M892.3 1822.1L905.3 1809.1" stroke="#7070cc" stroke-width="1.2" stroke-opacity="0.8" fill="none"/>
<path d="M909.9 1811.1L922.9 1824.1M909.9 1824.1L922.9 1811.1" stroke="#7070cc" stroke-width="1.2" stroke-opacity="0.8" fill="none"/>
<path d="M927.5 1813.2L940.5 1826.2M927.5 1826.2L940.5 1813.2" stroke="#7070cc" stroke-width="1.2" stroke-opacity="0.8" fill="none"/>
<path d="M945.1 1815.7L958.1 1828.7M945.1 1828.7L958.1 1815.7" stroke="#7070cc" stroke-width="1.2" stroke-opacity="0.8" fill="none"/>
<path d="M962.7 1818.4L975.7 1831.4M962.7 1831.4L975.7 1818.4" stroke="#7070cc" stroke-width="1.2" stroke-opacity="0.8" fill="none"/>
<path d="M980.3 1820.3L993.3 1833.3M980.3 1833.3L993.3 1820.3" stroke="#7070cc" stroke-width="1.2" stroke-opacity="0.8" fill="none"/>
<path d="M997.9 1820.3L1010.9 1833.3M997.9 1833.3L1010.9 1820.3" stroke="#7070cc" stroke-width="1.2" stroke-opacity="0.8" fill="none"/>
<path d="M1015.5 1821.2L1028.5 1834.2M1015.5 1834.2L1028.5 1821.2" stroke="#7070cc" stroke-width="1.2" stroke-opacity="0.8" fill="none"/>
<path d="M1033.1 1822.9L1046.1 1835.9M1033.1 1835.9L1046.1 1822.9" stroke="#7070cc" stroke-width="1.2" stroke-opacity="0.8" fill="none"/>
<path d="M1050.7 1824.0L1063.7 1837.0M1050.7 1837.0L1063.7 1824.0" stroke="#7070cc" stroke-width="1.2" stroke-opacity="0.8" fill="none"/>
<path d="M1068.3 1823.4L1081.3 1836.4M1068.3 1836.4L1081.3 1823.4" stroke="#7070cc" stroke-width="1.2" stroke-opacity="0.8" fill="none"/>
<path d="M1085.9 1824.4L1098.9 1837.4M1085.9 1837.4L1098.9 1824.4" stroke="#7070cc" stroke-width="1.2" stroke-opacity="0.8" fill="none"/>
<path d="M1103.5 1828.3L1116.5 1841.3M1103.5 1841.3L1116.5 1828.3" stroke="#7070cc" stroke-width="1.2" stroke-opacity="0.8" fill="none"/>
<path d="M1121.1 1832.7L1134.1 1845.7M1121.1 1845.7L1134.1 1832.7" stroke="#7070cc" stroke-width="1.2" stroke-opacity="0.8" fill="none"/>
<path d="M1138.7 1834.5L1151.7 1847.5M1138.7 1847.5L1151.7 1834.5" stroke="#7070cc" stroke-width="1.2" stroke-opacity="0.8" fill="none"/>
<path d="M1156.3 1835.6L1169.3 1848.6M1156.3 1848.6L1169.3 1835.6" stroke="#7070cc" stroke-width="1.2" stroke-opacity="0.8" fill="none"/>
<path d="M1173.9 1836.7L1186.9 1849.7M1173.9 1849.7L1186.9 1836.7" stroke="#7070cc" stroke-width="1.2" stroke-opacity="0.8" fill="none"/>
<path d="M1191.5 1838.9L1204.5 1851.9M1191.5 1851.9L1204.5 1838.9" stroke="#7070cc" stroke-width="1.2" stroke-opacity="0.8" fill="none"/>
<path d="M1209.1 1839.7L1222.1 1852.7M1209.1 1852.7L1222.1 1839.7" stroke="#7070cc" stroke-width="1.2" stroke-opacity="0.8" fill="none"/>
<path d="M1226.7 1840.7L1239.7 1853.7M1226.7 1853.7L1239.7 1840.7" stroke="#7070cc" stroke-width="1.2" stroke-opacity="0.8" fill="none"/>
<path d="M1244.3 1843.1L1257.3 1856.1M1244.3 1856.1L1257.3 1843.1" stroke="#7070cc" stroke-width="1.2" stroke-opacity="0.8" fill="none"/>
<path d="M1261.9 1844.0L1274.9 1857.0M1261.9 1857.0L1274.9 1844.0" stroke="#7070cc" stroke-width="1.2" stroke-opacity="0.8" fill="none"/>
<path d="M1279.5 1844.3L1292.5 1857.3M1279.5 1857.3L1292.5 1844.3" stroke="#7070cc" stroke-width="1.2" stroke-opacity="0.8" fill="none"/>
<path d="M1297.1 1842.9L1310.1 1855.9M1297.1 1855.9L1310.1 1842.9" stroke="#7070cc" stroke-width="1.2" stroke-opacity="0.8" fill="none"/>
<path d="M1314.7 1843.6L1327.7 1856.6M1314.7 1856.6L1327.7 1843.6" stroke="#7070cc" stroke-width="1.2" stroke-opacity="0.8" fill="none"/>
<path d="M1332.3 1845.7L1345.3 1858.7M1332.3 1858.7L1345.3 1845.7" stroke="#7070cc" stroke-width="1.2" stroke-opacity="0.8" fill="none"/>
<path d="M1349.9 1847.9L1362.9 1860.9M1349.9 1860.9L1362.9 1847.9" stroke="#7070cc" stroke-width="1.2" stroke-opacity="0.8" fill="none"/>
<path d="M1367.5 1850.9L1380.5 1863.9M1367.5 1863.9L1380.5 1850.9" stroke="#7070cc" stroke-width="1.2" stroke-opacity="0.8" fill="none"/>
<path d="M1385.1 1854.9L1398.1 1867.9M1385.1 1867.9L1398.1 1854.9" stroke="#7070cc" stroke-width="1.2" stroke-opacity="0.8" fill="none"/>
<path d="M1402.7 1855.4L1415.7 1868.4M1402.7 1868.4L1415.7 1855.4" stroke="#7070cc" stroke-width="1.2" stroke-opacity="0.8" fill="none"/>
<path d="M1420.3 1855.6L1433.3 1868.6M1420.3 1868.6L1433.3 1855.6" stroke="#7070cc" stroke-width="1.2" stroke-opacity="0.8" fill="none"/>
<path d="M1437.9 1854.9L1450.9 1867.9M1437.9 1867.9L1450.9 1854.9" stroke="#7070cc" stroke-width="1.2" stroke-opacity="0.8" fill="none"/>
<path d="M1455.5 1856.1L1468.5 1869.1M1455.5 1869.1L1468.5 1856.1" stroke="#7070cc" stroke-width="1.2" stroke-opacity="0.8" fill="none"/>
<path d="M1473.1 1857.6L1486.1 1870.6M1473.1 1870.6L1486.1 1857.6" stroke="#7070cc" stroke-width="1.2" stroke-opacity="0.8" fill="none"/>
<path d="M1490.7 1859.4L1503.7 1872.4M1490.7 1872.4L1503.7 1859.4" stroke="#7070cc" stroke-width="1.2" stroke-opacity="0.8" fill="none"/>
<path d="M1508.3 1861.3L1521.3 1874.3M1508.3 1874.3L1521.3 1861.3" stroke="#7070cc" stroke-width="1.2" stroke-opacity="0.8" fill="none"/>
<path d="M1525.9 1863.4L1538.9 1876.4M1525.9 1876.4L1538.9 1863.4" stroke="#7070cc" stroke-width="1.2" stroke-opacity="0.8" fill="none"/>
<path d="M1543.5 1864.0L1556.5 1877.0M1543.5 1877.0L1556.5 1864.0" stroke="#7070cc" stroke-width="1.2" stroke-opacity="0.8" fill="none"/>
<path d="M1561.1 1864.3L1574.1 1877.3M1561.1 1877.3L1574.1 1864.3" stroke="#7070cc" stroke-width="1.2" stroke-opacity="0.8" fill="none"/>
<path d="M1578.7 1864.6L1591.7 1877.6M1578.7 1877.6L1591.7 1864.6" stroke="#7070cc" stroke-width="1.2" stroke-opacity="0.8" fill="none"/>
<path d="M1596.3 1866.0L1609.3 1879.0M1596.3 1879.0L1609.3 1866.0" stroke="#7070cc" stroke-width="1.2" stroke-opacity="0.8" fill="none"/>
<path d="M1613.9 1867.3L1626.9 1880.3M1613.9 1880.3L1626.9 1867.3" stroke="#7070cc" stroke-width="1.2" stroke-opacity="0.8" fill="none"/>
<path d="M1631.5 1867.4L1644.5 1880.4M1631.5 1880.4L1644.5 1867.4" stroke="#7070cc" stroke-width="1.2" stroke-opacity="0.8" fill="none"/>
<path d="M1649.1 1867.5L1662.1 1880.5M1649.1 1880.5L1662.1 1867.5" stroke="#7070cc" stroke-width="1.2" stroke-opacity="0.8" fill="none"/>
<path d="M1666.7 1869.3L1679.7 1882.3M1666.7 1882.3L1679.7 1869.3" stroke="#7070cc" stroke-width="1.2" stroke-opacity="0.8" fill="none"/>
<path d="M1684.3 1870.3L1697.3 1883.3M1684.3 1883.3L1697.3 1870.3" stroke="#7070cc" stroke-width="1.2" stroke-opacity="0.8" fill="none"/>
<path d="M1701.9 1870.3L1714.9 1883.3M1701.9 1883.3L1714.9 1870.3" stroke="#7070cc" stroke-width="1.2" stroke-opacity="0.8" fill="none"/>
<polyline points="198.1,1394.0 210.3,1401.0 216.4,1414.1 229.0,1405.9 242.5,1397.5 248.6,1409.7 260.0,1412.3 271.3,1423.7 280.0,1428.0 287.8,1441.1 293.9,1452.4 302.6,1454.2 313.1,1450.7 321.0,1455.9 340.1,1463.7 357.3,1464.7 382.7,1472.5 408.2,1468.6 421.0,1466.7 436.0,1470.0 448.0,1472.9 461.0,1482.7 472.5,1487.6 487.8,1490.0 503.3,1492.2 521.1,1494.4 532.2,1505.6 541.1,1500.0 556.7,1501.1 578.9,1513.3 598.9,1514.4 615.6,1513.3 635.6,1511.1 652.2,1510.0 670.0,1507.8 690.0,1507.8 706.7,1515.6 724.4,1520.0 745.6,1522.2 761.1,1523.3 783.3,1522.2 798.9,1525.6 825.6,1527.8 845.6,1527.8 864.4,1528.9 877.8,1528.9 897.8,1531.1 914.4,1532.2 936.7,1527.8 955.6,1535.6 970.0,1537.8 986.7,1538.9 1014.4,1538.9 1040.0,1538.9 1061.1,1538.9 1078.9,1536.7 1100.0,1537.8 1115.6,1534.4 1131.1,1536.7 1150.0,1540.0 1172.2,1545.6 1185.6,1545.6 1203.3,1550.0 1224.4,1547.8 1243.3,1544.4 1257.8,1551.1 1283.3,1551.1 1294.4,1550.0 1314.4,1552.2 1331.1,1545.6 1347.8,1552.2 1367.8,1548.9 1390.0,1558.9 1406.7,1555.6 1422.2,1557.8 1441.1,1556.7 1476.7,1558.9 1496.7,1560.0 1513.3,1561.1 1530.0,1561.1 1546.8,1561.5 1567.4,1560.9 1583.3,1562.1 1606.1,1565.5 1624.4,1565.5 1639.2,1566.6 1655.2,1565.5 1680.3,1567.8 1692.8,1567.8 1709.9,1567.8" fill="none" stroke="#008000" stroke-width="3.0" stroke-linejoin="round" stroke-linecap="round"/>
<polygon points="198.1,1385.0 200.3,1390.9 206.7,1391.2 201.7,1395.2 203.4,1401.3 198.1,1397.8 192.8,1401.3 194.5,1395.2 189.5,1391.2 195.9,1390.9" fill="#008000"/>
<polygon points="210.3,1392.0 212.5,1397.9 218.9,1398.2 213.9,1402.2 215.6,1408.3 210.3,1404.8 205.0,1408.3 206.7,1402.2 201.7,1398.2 208.1,1397.9" fill="#008000"/>
<polygon points="216.4,1405.1 218.6,1411.0 225.0,1411.3 220.0,1415.3 221.7,1421.4 216.4,1417.9 211.1,1421.4 212.8,1415.3 207.8,1411.3 214.2,1411.0" fill="#008000"/>
<polygon points="229.0,1396.9 231.2,1402.8 237.6,1403.1 232.6,1407.1 234.3,1413.2 229.0,1409.7 223.7,1413.2 225.4,1407.1 220.4,1403.1 226.8,1402.8" fill="#008000"/>
<polygon points="242.5,1388.5 244.7,1394.4 251.1,1394.7 246.1,1398.7 247.8,1404.8 242.5,1401.3 237.2,1404.8 238.9,1398.7 233.9,1394.7 240.3,1394.4" fill="#008000"/>
<polygon points="248.6,1400.7 250.8,1406.6 257.2,1406.9 252.2,1410.9 253.9,1417.0 248.6,1413.5 243.3,1417.0 245.0,1410.9 240.0,1406.9 246.4,1406.6" fill="#008000"/>
<polygon points="260.0,1403.3 262.2,1409.2 268.6,1409.5 263.6,1413.5 265.3,1419.6 260.0,1416.1 254.7,1419.6 256.4,1413.5 251.4,1409.5 257.8,1409.2" fill="#008000"/>
<polygon points="271.3,1414.7 273.5,1420.6 279.9,1420.9 274.9,1424.9 276.6,1431.0 271.3,1427.5 266.0,1431.0 267.7,1424.9 262.7,1420.9 269.1,1420.6" fill="#008000"/>
<polygon points="280.0,1419.0 282.2,1424.9 288.6,1425.2 283.6,1429.2 285.3,1435.3 280.0,1431.8 274.7,1435.3 276.4,1429.2 271.4,1425.2 277.8,1424.9" fill="#008000"/>
<polygon points="287.8,1432.1 290.0,1438.0 296.4,1438.3 291.4,1442.3 293.1,1448.4 287.8,1444.9 282.5,1448.4 284.2,1442.3 279.2,1438.3 285.6,1438.0" fill="#008000"/>
<polygon points="293.9,1443.4 296.1,1449.3 302.5,1449.6 297.5,1453.6 299.2,1459.7 293.9,1456.2 288.6,1459.7 290.3,1453.6 285.3,1449.6 291.7,1449.3" fill="#008000"/>
<polygon points="302.6,1445.2 304.8,1451.1 311.2,1451.4 306.2,1455.4 307.9,1461.5 302.6,1458.0 297.3,1461.5 299.0,1455.4 294.0,1451.4 300.4,1451.1" fill="#008000"/>
<polygon points="313.1,1441.7 315.3,1447.6 321.7,1447.9 316.7,1451.9 318.4,1458.0 313.1,1454.5 307.8,1458.0 309.5,1451.9 304.5,1447.9 310.9,1447.6" fill="#008000"/>
<polygon points="321.0,1446.9 323.2,1452.8 329.6,1453.1 324.6,1457.1 326.3,1463.2 321.0,1459.7 315.7,1463.2 317.4,1457.1 312.4,1453.1 318.8,1452.8" fill="#008000"/>
<polygon points="340.1,1454.7 342.3,1460.6 348.7,1460.9 343.7,1464.9 345.4,1471.0 340.1,1467.5 334.8,1471.0 336.5,1464.9 331.5,1460.9 337.9,1460.6" fill="#008000"/>
<polygon points="357.3,1455.7 359.5,1461.6 365.9,1461.9 360.9,1465.9 362.6,1472.0 357.3,1468.5 352.0,1472.0 353.7,1465.9 348.7,1461.9 355.1,1461.6" fill="#008000"/>
<polygon points="382.7,1463.5 384.9,1469.4 391.3,1469.7 386.3,1473.7 388.0,1479.8 382.7,1476.3 377.4,1479.8 379.1,1473.7 374.1,1469.7 380.5,1469.4" fill="#008000"/>
<polygon points="408.2,1459.6 410.4,1465.5 416.8,1465.8 411.8,1469.8 413.5,1475.9 408.2,1472.4 402.9,1475.9 404.6,1469.8 399.6,1465.8 406.0,1465.5" fill="#008000"/>
<polygon points="421.0,1457.7 423.2,1463.6 429.6,1463.9 424.6,1467.9 426.3,1474.0 421.0,1470.5 415.7,1474.0 417.4,1467.9 412.4,1463.9 418.8,1463.6" fill="#008000"/>
<polygon points="436.0,1461.0 438.2,1466.9 444.6,1467.2 439.6,1471.2 441.3,1477.3 436.0,1473.8 430.7,1477.3 432.4,1471.2 427.4,1467.2 433.8,1466.9" fill="#008000"/>
<polygon points="448.0,1463.9 450.2,1469.8 456.6,1470.1 451.6,1474.1 453.3,1480.2 448.0,1476.7 442.7,1480.2 444.4,1474.1 439.4,1470.1 445.8,1469.8" fill="#008000"/>
<polygon points="461.0,1473.7 463.2,1479.6 469.6,1479.9 464.6,1483.9 466.3,1490.0 461.0,1486.5 455.7,1490.0 457.4,1483.9 452.4,1479.9 458.8,1479.6" fill="#008000"/>
<polygon points="472.5,1478.6 474.7,1484.5 481.1,1484.8 476.1,1488.8 477.8,1494.9 472.5,1491.4 467.2,1494.9 468.9,1488.8 463.9,1484.8 470.3,1484.5" fill="#008000"/>
<polygon points="487.8,1481.0 490.0,1486.9 496.4,1487.2 491.4,1491.2 493.1,1497.3 487.8,1493.8 482.5,1497.3 484.2,1491.2 479.2,1487.2 485.6,1486.9" fill="#008000"/>
<polygon points="503.3,1483.2 505.5,1489.1 511.9,1489.4 506.9,1493.4 508.6,1499.5 503.3,1496.0 498.0,1499.5 499.7,1493.4 494.7,1489.4 501.1,1489.1" fill="#008000"/>
<polygon points="521.1,1485.4 523.3,1491.3 529.7,1491.6 524.7,1495.6 526.4,1501.7 521.1,1498.2 515.8,1501.7 517.5,1495.6 512.5,1491.6 518.9,1491.3" fill="#008000"/>
<polygon points="532.2,1496.6 534.4,1502.5 540.8,1502.8 535.8,1506.8 537.5,1512.9 532.2,1509.4 526.9,1512.9 528.6,1506.8 523.6,1502.8 530.0,1502.5" fill="#008000"/>
<polygon points="541.1,1491.0 543.3,1496.9 549.7,1497.2 544.7,1501.2 546.4,1507.3 541.1,1503.8 535.8,1507.3 537.5,1501.2 532.5,1497.2 538.9,1496.9" fill="#008000"/>
<polygon points="556.7,1492.1 558.9,1498.0 565.3,1498.3 560.3,1502.3 562.0,1508.4 556.7,1504.9 551.4,1508.4 553.1,1502.3 548.1,1498.3 554.5,1498.0" fill="#008000"/>
<polygon points="578.9,1504.3 581.1,1510.2 587.5,1510.5 582.5,1514.5 584.2,1520.6 578.9,1517.1 573.6,1520.6 575.3,1514.5 570.3,1510.5 576.7,1510.2" fill="#008000"/>
<polygon points="598.9,1505.4 601.1,1511.3 607.5,1511.6 602.5,1515.6 604.2,1521.7 598.9,1518.2 593.6,1521.7 595.3,1515.6 590.3,1511.6 596.7,1511.3" fill="#008000"/>
<polygon points="615.6,1504.3 617.8,1510.2 624.2,1510.5 619.2,1514.5 620.9,1520.6 615.6,1517.1 610.3,1520.6 612.0,1514.5 607.0,1510.5 613.4,1510.2" fill="#008000"/>
<polygon points="635.6,1502.1 637.8,1508.0 644.2,1508.3 639.2,1512.3 640.9,1518.4 635.6,1514.9 630.3,1518.4 632.0,1512.3 627.0,1508.3 633.4,1508.0" fill="#008000"/>
<polygon points="652.2,1501.0 654.4,1506.9 660.8,1507.2 655.8,1511.2 657.5,1517.3 652.2,1513.8 646.9,1517.3 648.6,1511.2 643.6,1507.2 650.0,1506.9" fill="#008000"/>
<polygon points="670.0,1498.8 672.2,1504.7 678.6,1505.0 673.6,1509.0 675.3,1515.1 670.0,1511.6 664.7,1515.1 666.4,1509.0 661.4,1505.0 667.8,1504.7" fill="#008000"/>
<polygon points="690.0,1498.8 692.2,1504.7 698.6,1505.0 693.6,1509.0 695.3,1515.1 690.0,1511.6 684.7,1515.1 686.4,1509.0 681.4,1505.0 687.8,1504.7" fill="#008000"/>
<polygon points="706.7,1506.6 708.9,1512.5 715.3,1512.8 710.3,1516.8 712.0,1522.9 706.7,1519.4 701.4,1522.9 703.1,1516.8 698.1,1512.8 704.5,1512.5" fill="#008000"/>
<polygon points="724.4,1511.0 726.6,1516.9 733.0,1517.2 728.0,1521.2 729.7,1527.3 724.4,1523.8 719.1,1527.3 720.8,1521.2 715.8,1517.2 722.2,1516.9" fill="#008000"/>
<polygon points="745.6,1513.2 747.8,1519.1 754.2,1519.4 749.2,1523.4 750.9,1529.5 745.6,1526.0 740.3,1529.5 742.0,1523.4 737.0,1519.4 743.4,1519.1" fill="#008000"/>
<polygon points="761.1,1514.3 763.3,1520.2 769.7,1520.5 764.7,1524.5 766.4,1530.6 761.1,1527.1 755.8,1530.6 757.5,1524.5 752.5,1520.5 758.9,1520.2" fill="#008000"/>
<polygon points="783.3,1513.2 785.5,1519.1 791.9,1519.4 786.9,1523.4 788.6,1529.5 783.3,1526.0 778.0,1529.5 779.7,1523.4 774.7,1519.4 781.1,1519.1" fill="#008000"/>
<polygon points="798.9,1516.6 801.1,1522.5 807.5,1522.8 802.5,1526.8 804.2,1532.9 798.9,1529.4 793.6,1532.9 795.3,1526.8 790.3,1522.8 796.7,1522.5" fill="#008000"/>
<polygon points="825.6,1518.8 827.8,1524.7 834.2,1525.0 829.2,1529.0 830.9,1535.1 825.6,1531.6 820.3,1535.1 822.0,1529.0 817.0,1525.0 823.4,1524.7" fill="#008000"/>
<polygon points="845.6,1518.8 847.8,1524.7 854.2,1525.0 849.2,1529.0 850.9,1535.1 845.6,1531.6 840.3,1535.1 842.0,1529.0 837.0,1525.0 843.4,1524.7" fill="#008000"/>
<polygon points="864.4,1519.9 866.6,1525.8 873.0,1526.1 868.0,1530.1 869.7,1536.2 864.4,1532.7 859.1,1536.2 860.8,1530.1 855.8,1526.1 862.2,1525.8" fill="#008000"/>
<polygon points="877.8,1519.9 880.0,1525.8 886.4,1526.1 881.4,1530.1 883.1,1536.2 877.8,1532.7 872.5,1536.2 874.2,1530.1 869.2,1526.1 875.6,1525.8" fill="#008000"/>
<polygon points="897.8,1522.1 900.0,1528.0 906.4,1528.3 901.4,1532.3 903.1,1538.4 897.8,1534.9 892.5,1538.4 894.2,1532.3 889.2,1528.3 895.6,1528.0" fill="#008000"/>
<polygon points="914.4,1523.2 916.6,1529.1 923.0,1529.4 918.0,1533.4 919.7,1539.5 914.4,1536.0 909.1,1539.5 910.8,1533.4 905.8,1529.4 912.2,1529.1" fill="#008000"/>
<polygon points="936.7,1518.8 938.9,1524.7 945.3,1525.0 940.3,1529.0 942.0,1535.1 936.7,1531.6 931.4,1535.1 933.1,1529.0 928.1,1525.0 934.5,1524.7" fill="#008000"/>
<polygon points="955.6,1526.6 957.8,1532.5 964.2,1532.8 959.2,1536.8 960.9,1542.9 955.6,1539.4 950.3,1542.9 952.0,1536.8 947.0,1532.8 953.4,1532.5" fill="#008000"/>
<polygon points="970.0,1528.8 972.2,1534.7 978.6,1535.0 973.6,1539.0 975.3,1545.1 970.0,1541.6 964.7,1545.1 966.4,1539.0 961.4,1535.0 967.8,1534.7" fill="#008000"/>
<polygon points="986.7,1529.9 988.9,1535.8 995.3,1536.1 990.3,1540.1 992.0,1546.2 986.7,1542.7 981.4,1546.2 983.1,1540.1 978.1,1536.1 984.5,1535.8" fill="#008000"/>
<polygon points="1014.4,1529.9 1016.6,1535.8 1023.0,1536.1 1018.0,1540.1 1019.7,1546.2 1014.4,1542.7 1009.1,1546.2 1010.8,1540.1 1005.8,1536.1 1012.2,1535.8" fill="#008000"/>
<polygon points="1040.0,1529.9 1042.2,1535.8 1048.6,1536.1 1043.6,1540.1 1045.3,1546.2 1040.0,1542.7 1034.7,1546.2 1036.4,1540.1 1031.4,1536.1 1037.8,1535.8" fill="#008000"/>
<polygon points="1061.1,1529.9 1063.3,1535.8 1069.7,1536.1 1064.7,1540.1 1066.4,1546.2 1061.1,1542.7 1055.8,1546.2 1057.5,1540.1 1052.5,1536.1 1058.9,1535.8" fill="#008000"/>
<polygon points="1078.9,1527.7 1081.1,1533.6 1087.5,1533.9 1082.5,1537.9 1084.2,1544.0 1078.9,1540.5 1073.6,1544.0 1075.3,1537.9 1070.3,1533.9 1076.7,1533.6" fill="#008000"/>
<polygon points="1100.0,1528.8 1102.2,1534.7 1108.6,1535.0 1103.6,1539.0 1105.3,1545.1 1100.0,1541.6 1094.7,1545.1 1096.4,1539.0 1091.4,1535.0 1097.8,1534.7" fill="#008000"/>
<polygon points="1115.6,1525.4 1117.8,1531.3 1124.2,1531.6 1119.2,1535.6 1120.9,1541.7 1115.6,1538.2 1110.3,1541.7 1112.0,1535.6 1107.0,1531.6 1113.4,1531.3" fill="#008000"/>
<polygon points="1131.1,1527.7 1133.3,1533.6 1139.7,1533.9 1134.7,1537.9 1136.4,1544.0 1131.1,1540.5 1125.8,1544.0 1127.5,1537.9 1122.5,1533.9 1128.9,1533.6" fill="#008000"/>
<polygon points="1150.0,1531.0 1152.2,1536.9 1158.6,1537.2 1153.6,1541.2 1155.3,1547.3 1150.0,1543.8 1144.7,1547.3 1146.4,1541.2 1141.4,1537.2 1147.8,1536.9" fill="#008000"/>
<polygon points="1172.2,1536.6 1174.4,1542.5 1180.8,1542.8 1175.8,1546.8 1177.5,1552.9 1172.2,1549.4 1166.9,1552.9 1168.6,1546.8 1163.6,1542.8 1170.0,1542.5" fill="#008000"/>
<polygon points="1185.6,1536.6 1187.8,1542.5 1194.2,1542.8 1189.2,1546.8 1190.9,1552.9 1185.6,1549.4 1180.3,1552.9 1182.0,1546.8 1177.0,1542.8 1183.4,1542.5" fill="#008000"/>
<polygon points="1203.3,1541.0 1205.5,1546.9 1211.9,1547.2 1206.9,1551.2 1208.6,1557.3 1203.3,1553.8 1198.0,1557.3 1199.7,1551.2 1194.7,1547.2 1201.1,1546.9" fill="#008000"/>
<polygon points="1224.4,1538.8 1226.6,1544.7 1233.0,1545.0 1228.0,1549.0 1229.7,1555.1 1224.4,1551.6 1219.1,1555.1 1220.8,1549.0 1215.8,1545.0 1222.2,1544.7" fill="#008000"/>
<polygon points="1243.3,1535.4 1245.5,1541.3 1251.9,1541.6 1246.9,1545.6 1248.6,1551.7 1243.3,1548.2 1238.0,1551.7 1239.7,1545.6 1234.7,1541.6 1241.1,1541.3" fill="#008000"/>
<polygon points="1257.8,1542.1 1260.0,1548.0 1266.4,1548.3 1261.4,1552.3 1263.1,1558.4 1257.8,1554.9 1252.5,1558.4 1254.2,1552.3 1249.2,1548.3 1255.6,1548.0" fill="#008000"/>
<polygon points="1283.3,1542.1 1285.5,1548.0 1291.9,1548.3 1286.9,1552.3 1288.6,1558.4 1283.3,1554.9 1278.0,1558.4 1279.7,1552.3 1274.7,1548.3 1281.1,1548.0" fill="#008000"/>
<polygon points="1294.4,1541.0 1296.6,1546.9 1303.0,1547.2 1298.0,1551.2 1299.7,1557.3 1294.4,1553.8 1289.1,1557.3 1290.8,1551.2 1285.8,1547.2 1292.2,1546.9" fill="#008000"/>
<polygon points="1314.4,1543.2 1316.6,1549.1 1323.0,1549.4 1318.0,1553.4 1319.7,1559.5 1314.4,1556.0 1309.1,1559.5 1310.8,1553.4 1305.8,1549.4 1312.2,1549.1" fill="#008000"/>
<polygon points="1331.1,1536.6 1333.3,1542.5 1339.7,1542.8 1334.7,1546.8 1336.4,1552.9 1331.1,1549.4 1325.8,1552.9 1327.5,1546.8 1322.5,1542.8 1328.9,1542.5" fill="#008000"/>
<polygon points="1347.8,1543.2 1350.0,1549.1 1356.4,1549.4 1351.4,1553.4 1353.1,1559.5 1347.8,1556.0 1342.5,1559.5 1344.2,1553.4 1339.2,1549.4 1345.6,1549.1" fill="#008000"/>
<polygon points="1367.8,1539.9 1370.0,1545.8 1376.4,1546.1 1371.4,1550.1 1373.1,1556.2 1367.8,1552.7 1362.5,1556.2 1364.2,1550.1 1359.2,1546.1 1365.6,1545.8" fill="#008000"/>
<polygon points="1390.0,1549.9 1392.2,1555.8 1398.6,1556.1 1393.6,1560.1 1395.3,1566.2 1390.0,1562.7 1384.7,1566.2 1386.4,1560.1 1381.4,1556.1 1387.8,1555.8" fill="#008000"/>
<polygon points="1406.7,1546.6 1408.9,1552.5 1415.3,1552.8 1410.3,1556.8 1412.0,1562.9 1406.7,1559.4 1401.4,1562.9 1403.1,1556.8 1398.1,1552.8 1404.5,1552.5" fill="#008000"/>
<polygon points="1422.2,1548.8 1424.4,1554.7 1430.8,1555.0 1425.8,1559.0 1427.5,1565.1 1422.2,1561.6 1416.9,1565.1 1418.6,1559.0 1413.6,1555.0 1420.0,1554.7" fill="#008000"/>
<polygon points="1441.1,1547.7 1443.3,1553.6 1449.7,1553.9 1444.7,1557.9 1446.4,1564.0 1441.1,1560.5 1435.8,1564.0 1437.5,1557.9 1432.5,1553.9 1438.9,1553.6" fill="#008000"/>
<polygon points="1476.7,1549.9 1478.9,1555.8 1485.3,1556.1 1480.3,1560.1 1482.0,1566.2 1476.7,1562.7 1471.4,1566.2 1473.1,1560.1 1468.1,1556.1 1474.5,1555.8" fill="#008000"/>
<polygon points="1496.7,1551.0 1498.9,1556.9 1505.3,1557.2 1500.3,1561.2 1502.0,1567.3 1496.7,1563.8 1491.4,1567.3 1493.1,1561.2 1488.1,1557.2 1494.5,1556.9" fill="#008000"/>
<polygon points="1513.3,1552.1 1515.5,1558.0 1521.9,1558.3 1516.9,1562.3 1518.6,1568.4 1513.3,1564.9 1508.0,1568.4 1509.7,1562.3 1504.7,1558.3 1511.1,1558.0" fill="#008000"/>
<polygon points="1530.0,1552.1 1532.2,1558.0 1538.6,1558.3 1533.6,1562.3 1535.3,1568.4 1530.0,1564.9 1524.7,1568.4 1526.4,1562.3 1521.4,1558.3 1527.8,1558.0" fill="#008000"/>
<polygon points="1546.8,1552.5 1549.0,1558.4 1555.4,1558.7 1550.4,1562.7 1552.1,1568.8 1546.8,1565.3 1541.5,1568.8 1543.2,1562.7 1538.2,1558.7 1544.6,1558.4" fill="#008000"/>
<polygon points="1567.4,1551.9 1569.6,1557.8 1576.0,1558.1 1571.0,1562.1 1572.7,1568.2 1567.4,1564.7 1562.1,1568.2 1563.8,1562.1 1558.8,1558.1 1565.2,1557.8" fill="#008000"/>
<polygon points="1583.3,1553.1 1585.5,1559.0 1591.9,1559.3 1586.9,1563.3 1588.6,1569.4 1583.3,1565.9 1578.0,1569.4 1579.7,1563.3 1574.7,1559.3 1581.1,1559.0" fill="#008000"/>
<polygon points="1606.1,1556.5 1608.3,1562.4 1614.7,1562.7 1609.7,1566.7 1611.4,1572.8 1606.1,1569.3 1600.8,1572.8 1602.5,1566.7 1597.5,1562.7 1603.9,1562.4" fill="#008000"/>
<polygon points="1624.4,1556.5 1626.6,1562.4 1633.0,1562.7 1628.0,1566.7 1629.7,1572.8 1624.4,1569.3 1619.1,1572.8 1620.8,1566.7 1615.8,1562.7 1622.2,1562.4" fill="#008000"/>
<polygon points="1639.2,1557.6 1641.4,1563.5 1647.8,1563.8 1642.8,1567.8 1644.5,1573.9 1639.2,1570.4 1633.9,1573.9 1635.6,1567.8 1630.6,1563.8 1637.0,1563.5" fill="#008000"/>
<polygon points="1655.2,1556.5 1657.4,1562.4 1663.8,1562.7 1658.8,1566.7 1660.5,1572.8 1655.2,1569.3 1649.9,1572.8 1651.6,1566.7 1646.6,1562.7 1653.0,1562.4" fill="#008000"/>
<polygon points="1680.3,1558.8 1682.5,1564.7 1688.9,1565.0 1683.9,1569.0 1685.6,1575.1 1680.3,1571.6 1675.0,1575.1 1676.7,1569.0 1671.7,1565.0 1678.1,1564.7" fill="#008000"/>
<polygon points="1692.8,1558.8 1695.0,1564.7 1701.4,1565.0 1696.4,1569.0 1698.1,1575.1 1692.8,1571.6 1687.5,1575.1 1689.2,1569.0 1684.2,1565.0 1690.6,1564.7" fill="#008000"/>
<polygon points="1709.9,1558.8 1712.1,1564.7 1718.5,1565.0 1713.5,1569.0 1715.2,1575.1 1709.9,1571.6 1704.6,1575.1 1706.3,1569.0 1701.3,1565.0 1707.7,1564.7" fill="#008000"/>
<polygon points="205.5,1389.2 207.7,1395.2 214.1,1395.5 209.1,1399.4 210.8,1405.5 205.5,1402.0 200.2,1405.5 201.9,1399.4 196.9,1395.5 203.3,1395.2" fill="#008000"/>
<polygon points="213.0,1397.8 215.2,1403.7 221.6,1404.0 216.6,1408.0 218.3,1414.1 213.0,1410.6 207.7,1414.1 209.4,1408.0 204.4,1404.0 210.8,1403.7" fill="#008000"/>
<polygon points="220.5,1402.4 222.7,1408.4 229.1,1408.7 224.1,1412.6 225.8,1418.7 220.5,1415.2 215.2,1418.7 216.9,1412.6 211.9,1408.7 218.3,1408.4" fill="#008000"/>
<polygon points="228.0,1397.6 230.2,1403.5 236.6,1403.8 231.6,1407.7 233.3,1413.8 228.0,1410.3 222.7,1413.8 224.4,1407.7 219.4,1403.8 225.8,1403.5" fill="#008000"/>
<polygon points="235.5,1392.9 237.7,1398.8 244.1,1399.1 239.1,1403.0 240.8,1409.1 235.5,1405.6 230.2,1409.1 231.9,1403.0 226.9,1399.1 233.3,1398.8" fill="#008000"/>
<polygon points="243.0,1389.5 245.2,1395.4 251.6,1395.7 246.6,1399.7 248.3,1405.8 243.0,1402.3 237.7,1405.8 239.4,1399.7 234.4,1395.7 240.8,1395.4" fill="#008000"/>
<polygon points="250.5,1401.1 252.7,1407.1 259.1,1407.4 254.1,1411.3 255.8,1417.4 250.5,1413.9 245.2,1417.4 246.9,1411.3 241.9,1407.4 248.3,1407.1" fill="#008000"/>
<polygon points="258.0,1402.8 260.2,1408.8 266.6,1409.1 261.6,1413.0 263.3,1419.1 258.0,1415.6 252.7,1419.1 254.4,1413.0 249.4,1409.1 255.8,1408.8" fill="#008000"/>
<polygon points="265.5,1408.8 267.7,1414.8 274.1,1415.1 269.1,1419.0 270.8,1425.1 265.5,1421.6 260.2,1425.1 261.9,1419.0 256.9,1415.1 263.3,1414.8" fill="#008000"/>
<polygon points="273.0,1415.5 275.2,1421.5 281.6,1421.8 276.6,1425.7 278.3,1431.8 273.0,1428.3 267.7,1431.8 269.4,1425.7 264.4,1421.8 270.8,1421.5" fill="#008000"/>
<polygon points="280.5,1419.8 282.7,1425.8 289.1,1426.1 284.1,1430.0 285.8,1436.1 280.5,1432.6 275.2,1436.1 276.9,1430.0 271.9,1426.1 278.3,1425.8" fill="#008000"/>
<polygon points="288.0,1432.5 290.2,1438.4 296.6,1438.7 291.6,1442.6 293.3,1448.8 288.0,1445.3 282.7,1448.8 284.4,1442.6 279.4,1438.7 285.8,1438.4" fill="#008000"/>
<polygon points="295.5,1443.7 297.7,1449.7 304.1,1449.9 299.1,1453.9 300.8,1460.0 295.5,1456.5 290.2,1460.0 291.9,1453.9 286.9,1449.9 293.3,1449.7" fill="#008000"/>
<polygon points="303.0,1445.1 305.2,1451.0 311.6,1451.3 306.6,1455.2 308.3,1461.3 303.0,1457.8 297.7,1461.3 299.4,1455.2 294.4,1451.3 300.8,1451.0" fill="#008000"/>
<polygon points="310.5,1442.6 312.7,1448.5 319.1,1448.8 314.1,1452.7 315.8,1458.8 310.5,1455.3 305.2,1458.8 306.9,1452.7 301.9,1448.8 308.3,1448.5" fill="#008000"/>
<polygon points="318.0,1444.9 320.2,1450.9 326.6,1451.1 321.6,1455.1 323.3,1461.2 318.0,1457.7 312.7,1461.2 314.4,1455.1 309.4,1451.1 315.8,1450.9" fill="#008000"/>
<polygon points="325.5,1448.7 327.7,1454.7 334.1,1455.0 329.1,1458.9 330.8,1465.0 325.5,1461.5 320.2,1465.0 321.9,1458.9 316.9,1455.0 323.3,1454.7" fill="#008000"/>
<polygon points="333.0,1451.8 335.2,1457.7 341.6,1458.0 336.6,1462.0 338.3,1468.1 333.0,1464.6 327.7,1468.1 329.4,1462.0 324.4,1458.0 330.8,1457.7" fill="#008000"/>
<polygon points="340.5,1454.7 342.7,1460.7 349.1,1460.9 344.1,1464.9 345.8,1471.0 340.5,1467.5 335.2,1471.0 336.9,1464.9 331.9,1460.9 338.3,1460.7" fill="#008000"/>
<polygon points="348.0,1455.2 350.2,1461.1 356.6,1461.4 351.6,1465.3 353.3,1471.4 348.0,1467.9 342.7,1471.4 344.4,1465.3 339.4,1461.4 345.8,1461.1" fill="#008000"/>
<polygon points="355.5,1455.6 357.7,1461.5 364.1,1461.8 359.1,1465.8 360.8,1471.9 355.5,1468.4 350.2,1471.9 351.9,1465.8 346.9,1461.8 353.3,1461.5" fill="#008000"/>
<polygon points="363.0,1457.5 365.2,1463.4 371.6,1463.7 366.6,1467.6 368.3,1473.7 363.0,1470.2 357.7,1473.7 359.4,1467.6 354.4,1463.7 360.8,1463.4" fill="#008000"/>
<polygon points="370.5,1459.8 372.7,1465.7 379.1,1466.0 374.1,1469.9 375.8,1476.0 370.5,1472.5 365.2,1476.0 366.9,1469.9 361.9,1466.0 368.3,1465.7" fill="#008000"/>
<polygon points="378.0,1462.1 380.2,1468.0 386.6,1468.3 381.6,1472.2 383.3,1478.3 378.0,1474.8 372.7,1478.3 374.4,1472.2 369.4,1468.3 375.8,1468.0" fill="#008000"/>
<polygon points="385.5,1463.1 387.7,1469.0 394.1,1469.3 389.1,1473.2 390.8,1479.4 385.5,1475.9 380.2,1479.4 381.9,1473.2 376.9,1469.3 383.3,1469.0" fill="#008000"/>
<polygon points="393.0,1461.9 395.2,1467.9 401.6,1468.1 396.6,1472.1 398.3,1478.2 393.0,1474.7 387.7,1478.2 389.4,1472.1 384.4,1468.1 390.8,1467.9" fill="#008000"/>
<polygon points="400.5,1460.8 402.7,1466.7 409.1,1467.0 404.1,1470.9 405.8,1477.1 400.5,1473.6 395.2,1477.1 396.9,1470.9 391.9,1467.0 398.3,1466.7" fill="#008000"/>
<polygon points="408.0,1459.6 410.2,1465.6 416.6,1465.8 411.6,1469.8 413.3,1475.9 408.0,1472.4 402.7,1475.9 404.4,1469.8 399.4,1465.8 405.8,1465.6" fill="#008000"/>
<polygon points="415.5,1458.5 417.7,1464.5 424.1,1464.7 419.1,1468.7 420.8,1474.8 415.5,1471.3 410.2,1474.8 411.9,1468.7 406.9,1464.7 413.3,1464.5" fill="#008000"/>
<polygon points="423.0,1458.1 425.2,1464.1 431.6,1464.4 426.6,1468.3 428.3,1474.4 423.0,1470.9 417.7,1474.4 419.4,1468.3 414.4,1464.4 420.8,1464.1" fill="#008000"/>
<polygon points="430.5,1459.8 432.7,1465.7 439.1,1466.0 434.1,1470.0 435.8,1476.1 430.5,1472.6 425.2,1476.1 426.9,1470.0 421.9,1466.0 428.3,1465.7" fill="#008000"/>
<polygon points="438.0,1461.5 440.2,1467.4 446.6,1467.7 441.6,1471.7 443.3,1477.8 438.0,1474.3 432.7,1477.8 434.4,1471.7 429.4,1467.7 435.8,1467.4" fill="#008000"/>
<polygon points="445.5,1463.3 447.7,1469.2 454.1,1469.5 449.1,1473.5 450.8,1479.6 445.5,1476.1 440.2,1479.6 441.9,1473.5 436.9,1469.5 443.3,1469.2" fill="#008000"/>
<polygon points="453.0,1467.7 455.2,1473.6 461.6,1473.9 456.6,1477.8 458.3,1484.0 453.0,1480.4 447.7,1484.0 449.4,1477.8 444.4,1473.9 450.8,1473.6" fill="#008000"/>
<polygon points="460.5,1473.3 462.7,1479.3 469.1,1479.5 464.1,1483.5 465.8,1489.6 460.5,1486.1 455.2,1489.6 456.9,1483.5 451.9,1479.5 458.3,1479.3" fill="#008000"/>
<polygon points="468.0,1476.7 470.2,1482.6 476.6,1482.9 471.6,1486.9 473.3,1493.0 468.0,1489.5 462.7,1493.0 464.4,1486.9 459.4,1482.9 465.8,1482.6" fill="#008000"/>
<polygon points="475.5,1479.1 477.7,1485.0 484.1,1485.3 479.1,1489.2 480.8,1495.4 475.5,1491.9 470.2,1495.4 471.9,1489.2 466.9,1485.3 473.3,1485.0" fill="#008000"/>
<polygon points="483.0,1480.2 485.2,1486.2 491.6,1486.5 486.6,1490.4 488.3,1496.5 483.0,1493.0 477.7,1496.5 479.4,1490.4 474.4,1486.5 480.8,1486.2" fill="#008000"/>
<polygon points="490.5,1481.4 492.7,1487.3 499.1,1487.6 494.1,1491.6 495.8,1497.7 490.5,1494.2 485.2,1497.7 486.9,1491.6 481.9,1487.6 488.3,1487.3" fill="#008000"/>
<polygon points="498.0,1482.4 500.2,1488.4 506.6,1488.7 501.6,1492.6 503.3,1498.7 498.0,1495.2 492.7,1498.7 494.4,1492.6 489.4,1488.7 495.8,1488.4" fill="#008000"/>
<polygon points="505.5,1483.5 507.7,1489.4 514.1,1489.7 509.1,1493.6 510.8,1499.8 505.5,1496.3 500.2,1499.8 501.9,1493.6 496.9,1489.7 503.3,1489.4" fill="#008000"/>
<polygon points="513.0,1484.4 515.2,1490.3 521.6,1490.6 516.6,1494.6 518.3,1500.7 513.0,1497.2 507.7,1500.7 509.4,1494.6 504.4,1490.6 510.8,1490.3" fill="#008000"/>
<polygon points="520.5,1485.3 522.7,1491.3 529.1,1491.5 524.1,1495.5 525.8,1501.6 520.5,1498.1 515.2,1501.6 516.9,1495.5 511.9,1491.5 518.3,1491.3" fill="#008000"/>
<polygon points="528.0,1492.4 530.2,1498.3 536.6,1498.6 531.6,1502.5 533.3,1508.6 528.0,1505.1 522.7,1508.6 524.4,1502.5 519.4,1498.6 525.8,1498.3" fill="#008000"/>
<polygon points="535.5,1494.5 537.7,1500.5 544.1,1500.7 539.1,1504.7 540.8,1510.8 535.5,1507.3 530.2,1510.8 531.9,1504.7 526.9,1500.7 533.3,1500.5" fill="#008000"/>
<polygon points="543.0,1491.1 545.2,1497.1 551.6,1497.4 546.6,1501.3 548.3,1507.4 543.0,1503.9 537.7,1507.4 539.4,1501.3 534.4,1497.4 540.8,1497.1" fill="#008000"/>
<polygon points="550.5,1491.7 552.7,1497.6 559.1,1497.9 554.1,1501.8 555.8,1507.9 550.5,1504.4 545.2,1507.9 546.9,1501.8 541.9,1497.9 548.3,1497.6" fill="#008000"/>
<polygon points="558.0,1492.8 560.2,1498.8 566.6,1499.0 561.6,1503.0 563.3,1509.1 558.0,1505.6 552.7,1509.1 554.4,1503.0 549.4,1499.0 555.8,1498.8" fill="#008000"/>
<polygon points="565.5,1496.9 567.7,1502.9 574.1,1503.2 569.1,1507.1 570.8,1513.2 565.5,1509.7 560.2,1513.2 561.9,1507.1 556.9,1503.2 563.3,1502.9" fill="#008000"/>
<polygon points="573.0,1501.1 575.2,1507.0 581.6,1507.3 576.6,1511.2 578.3,1517.3 573.0,1513.8 567.7,1517.3 569.4,1511.2 564.4,1507.3 570.8,1507.0" fill="#008000"/>
<polyline points="189.5,1223.0 200.0,1245.0 211.1,1262.3 219.9,1260.5 226.8,1258.8 239.0,1253.0 246.0,1278.0 254.7,1282.3 263.0,1296.0 272.1,1308.5 280.9,1305.9 290.0,1325.0 298.3,1340.7 307.0,1349.4 309.2,1359.4 319.7,1369.2 335.4,1388.8 341.9,1388.8 356.9,1385.6 369.0,1390.2 382.7,1397.1 391.6,1396.1 410.2,1392.2 420.0,1407.8 429.8,1404.9 437.6,1397.1 447.5,1397.1 465.1,1420.6 476.9,1424.5 494.5,1430.4 505.6,1422.2 521.1,1425.6 532.2,1445.6 541.1,1434.4 556.7,1430.0 578.9,1440.0 598.9,1441.1 615.6,1443.3 635.6,1444.4 653.3,1447.8 670.0,1448.9 691.1,1452.2 706.7,1453.3 724.4,1458.9 745.6,1460.0 761.1,1461.1 783.3,1464.4 798.9,1470.0 825.6,1472.2 845.6,1474.4 865.6,1475.6 877.8,1474.4 897.8,1480.0 914.4,1482.2 936.7,1487.8 955.6,1492.2 970.0,1491.1 986.7,1492.2 1014.4,1496.7 1038.9,1494.4 1061.1,1496.7 1078.9,1500.0 1098.9,1501.1 1115.6,1502.2 1131.1,1501.1 1150.0,1507.8 1172.2,1507.8 1185.6,1511.1 1203.3,1510.0 1224.4,1513.3 1244.4,1514.4 1257.8,1515.6 1283.3,1513.3 1294.4,1516.7 1314.4,1522.2 1331.1,1516.7 1347.8,1518.9 1367.8,1520.0 1390.0,1522.2 1406.7,1524.4 1422.2,1525.6 1441.1,1526.7 1476.7,1528.9 1496.7,1527.8 1513.3,1530.0 1530.0,1532.2 1546.8,1530.1 1567.4,1532.4 1583.3,1533.6 1606.1,1535.8 1624.4,1538.1 1639.2,1538.1 1655.2,1538.1 1680.3,1541.5 1692.8,1541.5 1709.9,1541.5" fill="none" stroke="#ED1C24" stroke-width="3.0" stroke-linejoin="round" stroke-linecap="round"/>
<path d="M189.5 1215.5L197.5 1230.5L181.5 1230.5Z" fill="#ED1C24"/>
<path d="M200.0 1237.5L208.0 1252.5L192.0 1252.5Z" fill="#ED1C24"/>
<path d="M211.1 1254.8L219.1 1269.8L203.1 1269.8Z" fill="#ED1C24"/>
<path d="M219.9 1253.0L227.9 1268.0L211.9 1268.0Z" fill="#ED1C24"/>
<path d="M226.8 1251.3L234.8 1266.3L218.8 1266.3Z" fill="#ED1C24"/>
<path d="M239.0 1245.5L247.0 1260.5L231.0 1260.5Z" fill="#ED1C24"/>
<path d="M246.0 1270.5L254.0 1285.5L238.0 1285.5Z" fill="#ED1C24"/>
<path d="M254.7 1274.8L262.7 1289.8L246.7 1289.8Z" fill="#ED1C24"/>
<path d="M263.0 1288.5L271.0 1303.5L255.0 1303.5Z" fill="#ED1C24"/>
<path d="M272.1 1301.0L280.1 1316.0L264.1 1316.0Z" fill="#ED1C24"/>
<path d="M280.9 1298.4L288.9 1313.4L272.9 1313.4Z" fill="#ED1C24"/>
<path d="M290.0 1317.5L298.0 1332.5L282.0 1332.5Z" fill="#ED1C24"/>
<path d="M298.3 1333.2L306.3 1348.2L290.3 1348.2Z" fill="#ED1C24"/>
<path d="M307.0 1341.9L315.0 1356.9L299.0 1356.9Z" fill="#ED1C24"/>
<path d="M309.2 1351.9L317.2 1366.9L301.2 1366.9Z" fill="#ED1C24"/>
<path d="M319.7 1361.7L327.7 1376.7L311.7 1376.7Z" fill="#ED1C24"/>
<path d="M335.4 1381.3L343.4 1396.3L327.4 1396.3Z" fill="#ED1C24"/>
<path d="M341.9 1381.3L349.9 1396.3L333.9 1396.3Z" fill="#ED1C24"/>
<path d="M356.9 1378.1L364.9 1393.1L348.9 1393.1Z" fill="#ED1C24"/>
<path d="M369.0 1382.7L377.0 1397.7L361.0 1397.7Z" fill="#ED1C24"/>
<path d="M382.7 1389.6L390.7 1404.6L374.7 1404.6Z" fill="#ED1C24"/>
<path d="M391.6 1388.6L399.6 1403.6L383.6 1403.6Z" fill="#ED1C24"/>
<path d="M410.2 1384.7L418.2 1399.7L402.2 1399.7Z" fill="#ED1C24"/>
<path d="M420.0 1400.3L428.0 1415.3L412.0 1415.3Z" fill="#ED1C24"/>
<path d="M429.8 1397.4L437.8 1412.4L421.8 1412.4Z" fill="#ED1C24"/>
<path d="M437.6 1389.6L445.6 1404.6L429.6 1404.6Z" fill="#ED1C24"/>
<path d="M447.5 1389.6L455.5 1404.6L439.5 1404.6Z" fill="#ED1C24"/>
<path d="M465.1 1413.1L473.1 1428.1L457.1 1428.1Z" fill="#ED1C24"/>
<path d="M476.9 1417.0L484.9 1432.0L468.9 1432.0Z" fill="#ED1C24"/>
<path d="M494.5 1422.9L502.5 1437.9L486.5 1437.9Z" fill="#ED1C24"/>
<path d="M505.6 1414.7L513.6 1429.7L497.6 1429.7Z" fill="#ED1C24"/>
<path d="M521.1 1418.1L529.1 1433.1L513.1 1433.1Z" fill="#ED1C24"/>
<path d="M532.2 1438.1L540.2 1453.1L524.2 1453.1Z" fill="#ED1C24"/>
<path d="M541.1 1426.9L549.1 1441.9L533.1 1441.9Z" fill="#ED1C24"/>
<path d="M556.7 1422.5L564.7 1437.5L548.7 1437.5Z" fill="#ED1C24"/>
<path d="M578.9 1432.5L586.9 1447.5L570.9 1447.5Z" fill="#ED1C24"/>
<path d="M598.9 1433.6L606.9 1448.6L590.9 1448.6Z" fill="#ED1C24"/>
<path d="M615.6 1435.8L623.6 1450.8L607.6 1450.8Z" fill="#ED1C24"/>
<path d="M635.6 1436.9L643.6 1451.9L627.6 1451.9Z" fill="#ED1C24"/>
<path d="M653.3 1440.3L661.3 1455.3L645.3 1455.3Z" fill="#ED1C24"/>
<path d="M670.0 1441.4L678.0 1456.4L662.0 1456.4Z" fill="#ED1C24"/>
<path d="M691.1 1444.7L699.1 1459.7L683.1 1459.7Z" fill="#ED1C24"/>
<path d="M706.7 1445.8L714.7 1460.8L698.7 1460.8Z" fill="#ED1C24"/>
<path d="M724.4 1451.4L732.4 1466.4L716.4 1466.4Z" fill="#ED1C24"/>
<path d="M745.6 1452.5L753.6 1467.5L737.6 1467.5Z" fill="#ED1C24"/>
<path d="M761.1 1453.6L769.1 1468.6L753.1 1468.6Z" fill="#ED1C24"/>
<path d="M783.3 1456.9L791.3 1471.9L775.3 1471.9Z" fill="#ED1C24"/>
<path d="M798.9 1462.5L806.9 1477.5L790.9 1477.5Z" fill="#ED1C24"/>
<path d="M825.6 1464.7L833.6 1479.7L817.6 1479.7Z" fill="#ED1C24"/>
<path d="M845.6 1466.9L853.6 1481.9L837.6 1481.9Z" fill="#ED1C24"/>
<path d="M865.6 1468.1L873.6 1483.1L857.6 1483.1Z" fill="#ED1C24"/>
<path d="M877.8 1466.9L885.8 1481.9L869.8 1481.9Z" fill="#ED1C24"/>
<path d="M897.8 1472.5L905.8 1487.5L889.8 1487.5Z" fill="#ED1C24"/>
<path d="M914.4 1474.7L922.4 1489.7L906.4 1489.7Z" fill="#ED1C24"/>
<path d="M936.7 1480.3L944.7 1495.3L928.7 1495.3Z" fill="#ED1C24"/>
<path d="M955.6 1484.7L963.6 1499.7L947.6 1499.7Z" fill="#ED1C24"/>
<path d="M970.0 1483.6L978.0 1498.6L962.0 1498.6Z" fill="#ED1C24"/>
<path d="M986.7 1484.7L994.7 1499.7L978.7 1499.7Z" fill="#ED1C24"/>
<path d="M1014.4 1489.2L1022.4 1504.2L1006.4 1504.2Z" fill="#ED1C24"/>
<path d="M1038.9 1486.9L1046.9 1501.9L1030.9 1501.9Z" fill="#ED1C24"/>
<path d="M1061.1 1489.2L1069.1 1504.2L1053.1 1504.2Z" fill="#ED1C24"/>
<path d="M1078.9 1492.5L1086.9 1507.5L1070.9 1507.5Z" fill="#ED1C24"/>
<path d="M1098.9 1493.6L1106.9 1508.6L1090.9 1508.6Z" fill="#ED1C24"/>
<path d="M1115.6 1494.7L1123.6 1509.7L1107.6 1509.7Z" fill="#ED1C24"/>
<path d="M1131.1 1493.6L1139.1 1508.6L1123.1 1508.6Z" fill="#ED1C24"/>
<path d="M1150.0 1500.3L1158.0 1515.3L1142.0 1515.3Z" fill="#ED1C24"/>
<path d="M1172.2 1500.3L1180.2 1515.3L1164.2 1515.3Z" fill="#ED1C24"/>
<path d="M1185.6 1503.6L1193.6 1518.6L1177.6 1518.6Z" fill="#ED1C24"/>
<path d="M1203.3 1502.5L1211.3 1517.5L1195.3 1517.5Z" fill="#ED1C24"/>
<path d="M1224.4 1505.8L1232.4 1520.8L1216.4 1520.8Z" fill="#ED1C24"/>
<path d="M1244.4 1506.9L1252.4 1521.9L1236.4 1521.9Z" fill="#ED1C24"/>
<path d="M1257.8 1508.1L1265.8 1523.1L1249.8 1523.1Z" fill="#ED1C24"/>
<path d="M1283.3 1505.8L1291.3 1520.8L1275.3 1520.8Z" fill="#ED1C24"/>
<path d="M1294.4 1509.2L1302.4 1524.2L1286.4 1524.2Z" fill="#ED1C24"/>
<path d="M1314.4 1514.7L1322.4 1529.7L1306.4 1529.7Z" fill="#ED1C24"/>
<path d="M1331.1 1509.2L1339.1 1524.2L1323.1 1524.2Z" fill="#ED1C24"/>
<path d="M1347.8 1511.4L1355.8 1526.4L1339.8 1526.4Z" fill="#ED1C24"/>
<path d="M1367.8 1512.5L1375.8 1527.5L1359.8 1527.5Z" fill="#ED1C24"/>
<path d="M1390.0 1514.7L1398.0 1529.7L1382.0 1529.7Z" fill="#ED1C24"/>
<path d="M1406.7 1516.9L1414.7 1531.9L1398.7 1531.9Z" fill="#ED1C24"/>
<path d="M1422.2 1518.1L1430.2 1533.1L1414.2 1533.1Z" fill="#ED1C24"/>
<path d="M1441.1 1519.2L1449.1 1534.2L1433.1 1534.2Z" fill="#ED1C24"/>
<path d="M1476.7 1521.4L1484.7 1536.4L1468.7 1536.4Z" fill="#ED1C24"/>
<path d="M1496.7 1520.3L1504.7 1535.3L1488.7 1535.3Z" fill="#ED1C24"/>
<path d="M1513.3 1522.5L1521.3 1537.5L1505.3 1537.5Z" fill="#ED1C24"/>
<path d="M1530.0 1524.7L1538.0 1539.7L1522.0 1539.7Z" fill="#ED1C24"/>
<path d="M1546.8 1522.6L1554.8 1537.6L1538.8 1537.6Z" fill="#ED1C24"/>
<path d="M1567.4 1524.9L1575.4 1539.9L1559.4 1539.9Z" fill="#ED1C24"/>
<path d="M1583.3 1526.1L1591.3 1541.1L1575.3 1541.1Z" fill="#ED1C24"/>
<path d="M1606.1 1528.3L1614.1 1543.3L1598.1 1543.3Z" fill="#ED1C24"/>
<path d="M1624.4 1530.6L1632.4 1545.6L1616.4 1545.6Z" fill="#ED1C24"/>
<path d="M1639.2 1530.6L1647.2 1545.6L1631.2 1545.6Z" fill="#ED1C24"/>
<path d="M1655.2 1530.6L1663.2 1545.6L1647.2 1545.6Z" fill="#ED1C24"/>
<path d="M1680.3 1534.0L1688.3 1549.0L1672.3 1549.0Z" fill="#ED1C24"/>
<path d="M1692.8 1534.0L1700.8 1549.0L1684.8 1549.0Z" fill="#ED1C24"/>
<path d="M1709.9 1534.0L1717.9 1549.0L1701.9 1549.0Z" fill="#ED1C24"/>
<path d="M205.0 1245.3L213.0 1260.3L197.0 1260.3Z" fill="#ED1C24"/>
<path d="M211.0 1254.6L219.0 1269.6L203.0 1269.6Z" fill="#ED1C24"/>
<path d="M217.0 1253.6L225.0 1268.6L209.0 1268.6Z" fill="#ED1C24"/>
<path d="M223.0 1252.2L231.0 1267.2L215.0 1267.2Z" fill="#ED1C24"/>
<path d="M229.0 1250.3L237.0 1265.3L221.0 1265.3Z" fill="#ED1C24"/>
<path d="M235.0 1247.4L243.0 1262.4L227.0 1262.4Z" fill="#ED1C24"/>
<path d="M241.0 1252.6L249.0 1267.6L233.0 1267.6Z" fill="#ED1C24"/>
<path d="M247.0 1271.0L255.0 1286.0L239.0 1286.0Z" fill="#ED1C24"/>
<path d="M253.0 1274.0L261.0 1289.0L245.0 1289.0Z" fill="#ED1C24"/>
<path d="M259.0 1281.9L267.0 1296.9L251.0 1296.9Z" fill="#ED1C24"/>
<path d="M265.0 1291.2L273.0 1306.2L257.0 1306.2Z" fill="#ED1C24"/>
<path d="M271.0 1299.5L279.0 1314.5L263.0 1314.5Z" fill="#ED1C24"/>
<path d="M277.0 1299.6L285.0 1314.6L269.0 1314.6Z" fill="#ED1C24"/>
<path d="M283.0 1302.8L291.0 1317.8L275.0 1317.8Z" fill="#ED1C24"/>
<path d="M289.0 1315.4L297.0 1330.4L281.0 1330.4Z" fill="#ED1C24"/>
<path d="M295.0 1327.0L303.0 1342.0L287.0 1342.0Z" fill="#ED1C24"/>
<path d="M305.0 1339.9L313.0 1354.9L297.0 1354.9Z" fill="#ED1C24"/>
<path d="M314.0 1356.4L322.0 1371.4L306.0 1371.4Z" fill="#ED1C24"/>
<path d="M323.0 1365.8L331.0 1380.8L315.0 1380.8Z" fill="#ED1C24"/>
<path d="M332.0 1377.1L340.0 1392.1L324.0 1392.1Z" fill="#ED1C24"/>
<path d="M341.0 1381.3L349.0 1396.3L333.0 1396.3Z" fill="#ED1C24"/>
<path d="M350.0 1379.6L358.0 1394.6L342.0 1394.6Z" fill="#ED1C24"/>
<path d="M359.0 1378.9L367.0 1393.9L351.0 1393.9Z" fill="#ED1C24"/>
<path d="M368.0 1382.3L376.0 1397.3L360.0 1397.3Z" fill="#ED1C24"/>
<path d="M377.0 1386.7L385.0 1401.7L369.0 1401.7Z" fill="#ED1C24"/>
<path d="M386.0 1389.2L394.0 1404.2L378.0 1404.2Z" fill="#ED1C24"/>
<path d="M395.0 1387.9L403.0 1402.9L387.0 1402.9Z" fill="#ED1C24"/>
<path d="M404.0 1386.0L412.0 1401.0L396.0 1401.0Z" fill="#ED1C24"/>
<path d="M413.0 1389.2L421.0 1404.2L405.0 1404.2Z" fill="#ED1C24"/>
<path d="M422.0 1399.7L430.0 1414.7L414.0 1414.7Z" fill="#ED1C24"/>
<path d="M431.0 1396.2L439.0 1411.2L423.0 1411.2Z" fill="#ED1C24"/>
<path d="M440.0 1389.6L448.0 1404.6L432.0 1404.6Z" fill="#ED1C24"/>
<path d="M449.0 1391.6L457.0 1406.6L441.0 1406.6Z" fill="#ED1C24"/>
<path d="M458.0 1403.6L466.0 1418.6L450.0 1418.6Z" fill="#ED1C24"/>
<path d="M467.0 1413.7L475.0 1428.7L459.0 1428.7Z" fill="#ED1C24"/>
<path d="M476.0 1416.7L484.0 1431.7L468.0 1431.7Z" fill="#ED1C24"/>
<path d="M485.0 1419.7L493.0 1434.7L477.0 1434.7Z" fill="#ED1C24"/>
<path d="M494.0 1422.7L502.0 1437.7L486.0 1437.7Z" fill="#ED1C24"/>
<path d="M503.0 1416.6L511.0 1431.6L495.0 1431.6Z" fill="#ED1C24"/>
<path d="M512.0 1416.1L520.0 1431.1L504.0 1431.1Z" fill="#ED1C24"/>
<path d="M521.0 1418.1L529.0 1433.1L513.0 1433.1Z" fill="#ED1C24"/>
<path d="M530.0 1434.1L538.0 1449.1L522.0 1449.1Z" fill="#ED1C24"/>
<path d="M539.0 1429.5L547.0 1444.5L531.0 1444.5Z" fill="#ED1C24"/>
<path d="M548.0 1425.0L556.0 1440.0L540.0 1440.0Z" fill="#ED1C24"/>
<path d="M557.0 1422.6L565.0 1437.6L549.0 1437.6Z" fill="#ED1C24"/>
<path d="M566.0 1426.7L574.0 1441.7L558.0 1441.7Z" fill="#ED1C24"/>
<path d="M575.0 1430.7L583.0 1445.7L567.0 1445.7Z" fill="#ED1C24"/>
<polyline points="189.5,1223.0 202.4,1231.8 209.4,1246.6 215.5,1249.2 224.2,1247.5 232.1,1246.6 246.0,1271.0 253.0,1278.0 259.1,1275.4 267.8,1292.8 272.1,1301.5 279.1,1314.6 285.2,1327.6 292.2,1340.7 297.5,1361.4 309.2,1377.7 315.8,1391.4 341.9,1416.9 351.7,1418.2 377.8,1420.2 387.6,1447.0 406.3,1437.3 418.0,1443.1 433.7,1437.3 443.5,1439.2 459.2,1450.0 469.0,1458.8 481.8,1460.8 496.5,1466.7 503.3,1470.0 518.9,1472.2 536.7,1485.6 554.4,1483.3 565.6,1498.9 576.7,1507.8 598.9,1507.8 614.4,1510.0 636.7,1513.3 652.2,1517.8 670.0,1520.0 690.0,1524.4 705.6,1525.6 724.4,1531.1 745.6,1532.2 761.1,1536.7 783.3,1538.9 801.1,1543.3 825.6,1548.9 845.6,1551.1 864.4,1552.2 878.9,1555.6 897.8,1563.3 915.6,1566.7 937.8,1573.3 956.7,1576.7 970.0,1580.0 987.8,1583.3 1014.4,1584.4 1041.1,1584.4 1061.1,1588.9 1080.0,1588.9 1100.0,1590.0 1114.4,1590.0 1132.2,1593.3 1151.1,1600.0 1173.3,1602.2 1186.7,1603.3 1204.4,1606.7 1225.6,1611.1 1244.4,1610.0 1257.8,1612.2 1283.3,1613.3 1294.4,1614.4 1314.4,1616.7 1331.1,1615.6 1347.8,1617.8 1367.8,1620.0 1390.0,1623.3 1406.7,1623.3 1422.2,1625.6 1441.1,1627.8 1476.7,1628.9 1496.7,1631.1 1513.3,1632.2 1530.0,1633.3 1546.8,1636.2 1567.4,1639.6 1583.3,1641.9 1606.1,1646.4 1624.4,1643.0 1639.2,1644.2 1655.2,1645.3 1680.3,1648.7 1692.8,1648.7 1709.9,1648.7" fill="none" stroke="#800000" stroke-width="3.0" stroke-linejoin="round" stroke-linecap="round"/>
<path d="M183.0 1214.0L196.0 1223.0L183.0 1232.0Z" fill="#800000"/>
<path d="M195.9 1222.8L208.9 1231.8L195.9 1240.8Z" fill="#800000"/>
<path d="M202.9 1237.6L215.9 1246.6L202.9 1255.6Z" fill="#800000"/>
<path d="M209.0 1240.2L222.0 1249.2L209.0 1258.2Z" fill="#800000"/>
<path d="M217.7 1238.5L230.7 1247.5L217.7 1256.5Z" fill="#800000"/>
<path d="M225.6 1237.6L238.6 1246.6L225.6 1255.6Z" fill="#800000"/>
<path d="M239.5 1262.0L252.5 1271.0L239.5 1280.0Z" fill="#800000"/>
<path d="M246.5 1269.0L259.5 1278.0L246.5 1287.0Z" fill="#800000"/>
<path d="M252.6 1266.4L265.6 1275.4L252.6 1284.4Z" fill="#800000"/>
<path d="M261.3 1283.8L274.3 1292.8L261.3 1301.8Z" fill="#800000"/>
<path d="M265.6 1292.5L278.6 1301.5L265.6 1310.5Z" fill="#800000"/>
<path d="M272.6 1305.6L285.6 1314.6L272.6 1323.6Z" fill="#800000"/>
<path d="M278.7 1318.6L291.7 1327.6L278.7 1336.6Z" fill="#800000"/>
<path d="M285.7 1331.7L298.7 1340.7L285.7 1349.7Z" fill="#800000"/>
<path d="M291.0 1352.4L304.0 1361.4L291.0 1370.4Z" fill="#800000"/>
<path d="M302.7 1368.7L315.7 1377.7L302.7 1386.7Z" fill="#800000"/>
<path d="M309.3 1382.4L322.3 1391.4L309.3 1400.4Z" fill="#800000"/>
<path d="M335.4 1407.9L348.4 1416.9L335.4 1425.9Z" fill="#800000"/>
<path d="M345.2 1409.2L358.2 1418.2L345.2 1427.2Z" fill="#800000"/>
<path d="M371.3 1411.2L384.3 1420.2L371.3 1429.2Z" fill="#800000"/>
<path d="M381.1 1438.0L394.1 1447.0L381.1 1456.0Z" fill="#800000"/>
<path d="M399.8 1428.3L412.8 1437.3L399.8 1446.3Z" fill="#800000"/>
<path d="M411.5 1434.1L424.5 1443.1L411.5 1452.1Z" fill="#800000"/>
<path d="M427.2 1428.3L440.2 1437.3L427.2 1446.3Z" fill="#800000"/>
<path d="M437.0 1430.2L450.0 1439.2L437.0 1448.2Z" fill="#800000"/>
<path d="M452.7 1441.0L465.7 1450.0L452.7 1459.0Z" fill="#800000"/>
<path d="M462.5 1449.8L475.5 1458.8L462.5 1467.8Z" fill="#800000"/>
<path d="M475.3 1451.8L488.3 1460.8L475.3 1469.8Z" fill="#800000"/>
<path d="M490.0 1457.7L503.0 1466.7L490.0 1475.7Z" fill="#800000"/>
<path d="M496.8 1461.0L509.8 1470.0L496.8 1479.0Z" fill="#800000"/>
<path d="M512.4 1463.2L525.4 1472.2L512.4 1481.2Z" fill="#800000"/>
<path d="M530.2 1476.6L543.2 1485.6L530.2 1494.6Z" fill="#800000"/>
<path d="M547.9 1474.3L560.9 1483.3L547.9 1492.3Z" fill="#800000"/>
<path d="M559.1 1489.9L572.1 1498.9L559.1 1507.9Z" fill="#800000"/>
<path d="M570.2 1498.8L583.2 1507.8L570.2 1516.8Z" fill="#800000"/>
<path d="M592.4 1498.8L605.4 1507.8L592.4 1516.8Z" fill="#800000"/>
<path d="M607.9 1501.0L620.9 1510.0L607.9 1519.0Z" fill="#800000"/>
<path d="M630.2 1504.3L643.2 1513.3L630.2 1522.3Z" fill="#800000"/>
<path d="M645.7 1508.8L658.7 1517.8L645.7 1526.8Z" fill="#800000"/>
<path d="M663.5 1511.0L676.5 1520.0L663.5 1529.0Z" fill="#800000"/>
<path d="M683.5 1515.4L696.5 1524.4L683.5 1533.4Z" fill="#800000"/>
<path d="M699.1 1516.6L712.1 1525.6L699.1 1534.6Z" fill="#800000"/>
<path d="M717.9 1522.1L730.9 1531.1L717.9 1540.1Z" fill="#800000"/>
<path d="M739.1 1523.2L752.1 1532.2L739.1 1541.2Z" fill="#800000"/>
<path d="M754.6 1527.7L767.6 1536.7L754.6 1545.7Z" fill="#800000"/>
<path d="M776.8 1529.9L789.8 1538.9L776.8 1547.9Z" fill="#800000"/>
<path d="M794.6 1534.3L807.6 1543.3L794.6 1552.3Z" fill="#800000"/>
<path d="M819.1 1539.9L832.1 1548.9L819.1 1557.9Z" fill="#800000"/>
<path d="M839.1 1542.1L852.1 1551.1L839.1 1560.1Z" fill="#800000"/>
<path d="M857.9 1543.2L870.9 1552.2L857.9 1561.2Z" fill="#800000"/>
<path d="M872.4 1546.6L885.4 1555.6L872.4 1564.6Z" fill="#800000"/>
<path d="M891.3 1554.3L904.3 1563.3L891.3 1572.3Z" fill="#800000"/>
<path d="M909.1 1557.7L922.1 1566.7L909.1 1575.7Z" fill="#800000"/>
<path d="M931.3 1564.3L944.3 1573.3L931.3 1582.3Z" fill="#800000"/>
<path d="M950.2 1567.7L963.2 1576.7L950.2 1585.7Z" fill="#800000"/>
<path d="M963.5 1571.0L976.5 1580.0L963.5 1589.0Z" fill="#800000"/>
<path d="M981.3 1574.3L994.3 1583.3L981.3 1592.3Z" fill="#800000"/>
<path d="M1007.9 1575.4L1020.9 1584.4L1007.9 1593.4Z" fill="#800000"/>
<path d="M1034.6 1575.4L1047.6 1584.4L1034.6 1593.4Z" fill="#800000"/>
<path d="M1054.6 1579.9L1067.6 1588.9L1054.6 1597.9Z" fill="#800000"/>
<path d="M1073.5 1579.9L1086.5 1588.9L1073.5 1597.9Z" fill="#800000"/>
<path d="M1093.5 1581.0L1106.5 1590.0L1093.5 1599.0Z" fill="#800000"/>
<path d="M1107.9 1581.0L1120.9 1590.0L1107.9 1599.0Z" fill="#800000"/>
<path d="M1125.7 1584.3L1138.7 1593.3L1125.7 1602.3Z" fill="#800000"/>
<path d="M1144.6 1591.0L1157.6 1600.0L1144.6 1609.0Z" fill="#800000"/>
<path d="M1166.8 1593.2L1179.8 1602.2L1166.8 1611.2Z" fill="#800000"/>
<path d="M1180.2 1594.3L1193.2 1603.3L1180.2 1612.3Z" fill="#800000"/>
<path d="M1197.9 1597.7L1210.9 1606.7L1197.9 1615.7Z" fill="#800000"/>
<path d="M1219.1 1602.1L1232.1 1611.1L1219.1 1620.1Z" fill="#800000"/>
<path d="M1237.9 1601.0L1250.9 1610.0L1237.9 1619.0Z" fill="#800000"/>
<path d="M1251.3 1603.2L1264.3 1612.2L1251.3 1621.2Z" fill="#800000"/>
<path d="M1276.8 1604.3L1289.8 1613.3L1276.8 1622.3Z" fill="#800000"/>
<path d="M1287.9 1605.4L1300.9 1614.4L1287.9 1623.4Z" fill="#800000"/>
<path d="M1307.9 1607.7L1320.9 1616.7L1307.9 1625.7Z" fill="#800000"/>
<path d="M1324.6 1606.6L1337.6 1615.6L1324.6 1624.6Z" fill="#800000"/>
<path d="M1341.3 1608.8L1354.3 1617.8L1341.3 1626.8Z" fill="#800000"/>
<path d="M1361.3 1611.0L1374.3 1620.0L1361.3 1629.0Z" fill="#800000"/>
<path d="M1383.5 1614.3L1396.5 1623.3L1383.5 1632.3Z" fill="#800000"/>
<path d="M1400.2 1614.3L1413.2 1623.3L1400.2 1632.3Z" fill="#800000"/>
<path d="M1415.7 1616.6L1428.7 1625.6L1415.7 1634.6Z" fill="#800000"/>
<path d="M1434.6 1618.8L1447.6 1627.8L1434.6 1636.8Z" fill="#800000"/>
<path d="M1470.2 1619.9L1483.2 1628.9L1470.2 1637.9Z" fill="#800000"/>
<path d="M1490.2 1622.1L1503.2 1631.1L1490.2 1640.1Z" fill="#800000"/>
<path d="M1506.8 1623.2L1519.8 1632.2L1506.8 1641.2Z" fill="#800000"/>
<path d="M1523.5 1624.3L1536.5 1633.3L1523.5 1642.3Z" fill="#800000"/>
<path d="M1540.3 1627.2L1553.3 1636.2L1540.3 1645.2Z" fill="#800000"/>
<path d="M1560.9 1630.6L1573.9 1639.6L1560.9 1648.6Z" fill="#800000"/>
<path d="M1576.8 1632.9L1589.8 1641.9L1576.8 1650.9Z" fill="#800000"/>
<path d="M1599.6 1637.4L1612.6 1646.4L1599.6 1655.4Z" fill="#800000"/>
<path d="M1617.9 1634.0L1630.9 1643.0L1617.9 1652.0Z" fill="#800000"/>
<path d="M1632.7 1635.2L1645.7 1644.2L1632.7 1653.2Z" fill="#800000"/>
<path d="M1648.7 1636.3L1661.7 1645.3L1648.7 1654.3Z" fill="#800000"/>
<path d="M1673.8 1639.7L1686.8 1648.7L1673.8 1657.7Z" fill="#800000"/>
<path d="M1686.3 1639.7L1699.3 1648.7L1686.3 1657.7Z" fill="#800000"/>
<path d="M1703.4 1639.7L1716.4 1648.7L1703.4 1657.7Z" fill="#800000"/>
<path d="M196.5 1224.1L209.5 1233.1L196.5 1242.1Z" fill="#800000"/>
<path d="M201.5 1234.6L214.5 1243.6L201.5 1252.6Z" fill="#800000"/>
<path d="M206.5 1239.1L219.5 1248.1L206.5 1257.1Z" fill="#800000"/>
<path d="M211.5 1239.7L224.5 1248.7L211.5 1257.7Z" fill="#800000"/>
<path d="M216.5 1238.7L229.5 1247.7L216.5 1256.7Z" fill="#800000"/>
<path d="M221.5 1238.1L234.5 1247.1L221.5 1256.1Z" fill="#800000"/>
<path d="M226.5 1239.2L239.5 1248.2L226.5 1257.2Z" fill="#800000"/>
<path d="M231.5 1248.0L244.5 1257.0L231.5 1266.0Z" fill="#800000"/>
<path d="M236.5 1256.7L249.5 1265.7L236.5 1274.7Z" fill="#800000"/>
<path d="M241.5 1264.0L254.5 1273.0L241.5 1282.0Z" fill="#800000"/>
<path d="M246.5 1269.0L259.5 1278.0L246.5 1287.0Z" fill="#800000"/>
<path d="M251.5 1266.9L264.5 1275.9L251.5 1284.9Z" fill="#800000"/>
<path d="M256.5 1274.2L269.5 1283.2L256.5 1292.2Z" fill="#800000"/>
<path d="M261.5 1284.2L274.5 1293.2L261.5 1302.2Z" fill="#800000"/>
<path d="M266.5 1294.2L279.5 1303.2L266.5 1312.2Z" fill="#800000"/>
<path d="M271.5 1303.5L284.5 1312.5L271.5 1321.5Z" fill="#800000"/>
<path d="M276.5 1313.9L289.5 1322.9L276.5 1331.9Z" fill="#800000"/>
<path d="M281.5 1323.8L294.5 1332.8L281.5 1341.8Z" fill="#800000"/>
<path d="M286.5 1334.8L299.5 1343.8L286.5 1352.8Z" fill="#800000"/>
<path d="M291.5 1353.1L304.5 1362.1L291.5 1371.1Z" fill="#800000"/>
<path d="M298.5 1362.8L311.5 1371.8L298.5 1380.8Z" fill="#800000"/>
<path d="M306.5 1376.6L319.5 1385.6L306.5 1394.6Z" fill="#800000"/>
<path d="M314.5 1387.5L327.5 1396.5L314.5 1405.5Z" fill="#800000"/>
<path d="M322.5 1395.3L335.5 1404.3L322.5 1413.3Z" fill="#800000"/>
<path d="M330.5 1403.1L343.5 1412.1L330.5 1421.1Z" fill="#800000"/>
<path d="M338.5 1408.3L351.5 1417.3L338.5 1426.3Z" fill="#800000"/>
<path d="M346.5 1409.3L359.5 1418.3L346.5 1427.3Z" fill="#800000"/>
<path d="M354.5 1409.9L367.5 1418.9L354.5 1427.9Z" fill="#800000"/>
<path d="M362.5 1410.5L375.5 1419.5L362.5 1428.5Z" fill="#800000"/>
<path d="M370.5 1411.1L383.5 1420.1L370.5 1429.1Z" fill="#800000"/>
<path d="M378.5 1430.9L391.5 1439.9L378.5 1448.9Z" fill="#800000"/>
<path d="M386.5 1435.2L399.5 1444.2L386.5 1453.2Z" fill="#800000"/>
<path d="M394.5 1431.0L407.5 1440.0L394.5 1449.0Z" fill="#800000"/>
<path d="M402.5 1429.6L415.5 1438.6L402.5 1447.6Z" fill="#800000"/>
<path d="M410.5 1433.6L423.5 1442.6L410.5 1451.6Z" fill="#800000"/>
<path d="M418.5 1431.5L431.5 1440.5L418.5 1449.5Z" fill="#800000"/>
<path d="M426.5 1428.6L439.5 1437.6L426.5 1446.6Z" fill="#800000"/>
<path d="M434.5 1429.7L447.5 1438.7L434.5 1447.7Z" fill="#800000"/>
<path d="M442.5 1434.0L455.5 1443.0L442.5 1452.0Z" fill="#800000"/>
<path d="M450.5 1439.5L463.5 1448.5L450.5 1457.5Z" fill="#800000"/>
<path d="M458.5 1446.2L471.5 1455.2L458.5 1464.2Z" fill="#800000"/>
<path d="M466.5 1450.4L479.5 1459.4L466.5 1468.4Z" fill="#800000"/>
<path d="M474.5 1451.7L487.5 1460.7L474.5 1469.7Z" fill="#800000"/>
<path d="M482.5 1454.7L495.5 1463.7L482.5 1472.7Z" fill="#800000"/>
<path d="M490.5 1457.9L503.5 1466.9L490.5 1475.9Z" fill="#800000"/>
<path d="M498.5 1461.2L511.5 1470.2L498.5 1479.2Z" fill="#800000"/>
<path d="M506.5 1462.4L519.5 1471.4L506.5 1480.4Z" fill="#800000"/>
<path d="M514.5 1464.8L527.5 1473.8L514.5 1482.8Z" fill="#800000"/>
<path d="M522.5 1470.8L535.5 1479.8L522.5 1488.8Z" fill="#800000"/>
<path d="M530.5 1476.6L543.5 1485.6L530.5 1494.6Z" fill="#800000"/>
<path d="M538.5 1475.5L551.5 1484.5L538.5 1493.5Z" fill="#800000"/>
<path d="M546.5 1474.5L559.5 1483.5L546.5 1492.5Z" fill="#800000"/>
<path d="M554.5 1483.5L567.5 1492.5L554.5 1501.5Z" fill="#800000"/>
<path d="M562.5 1492.6L575.5 1501.6L562.5 1510.6Z" fill="#800000"/>
<polyline points="189.5,1220.0 193.7,1222.0 202.4,1223.0 211.1,1225.6 219.9,1232.7 226.8,1236.0 233.0,1236.0 241.6,1234.4 246.0,1243.0 254.7,1251.8 263.4,1258.8 272.1,1275.4 280.9,1284.1 289.6,1297.1 298.3,1310.2 307.0,1323.3 315.7,1332.0 328.8,1345.1 340.6,1351.6 357.6,1359.4 381.1,1366.6 391.6,1376.5 408.2,1376.5 422.0,1372.5 428.8,1390.2 439.6,1380.4 447.5,1374.5 459.2,1388.2 464.1,1398.0 476.9,1402.0 491.6,1405.0 505.6,1405.6 521.1,1405.6 541.1,1421.1 558.9,1414.4 578.9,1430.0 598.9,1431.1 615.6,1426.7 635.6,1430.0 653.3,1431.1 670.0,1434.4 691.1,1440.0 706.7,1438.9 724.4,1445.6 745.6,1444.4 761.1,1445.6 784.4,1446.7 798.9,1460.0 825.6,1457.8 844.4,1460.0 864.4,1461.1 877.8,1460.0 897.8,1472.2 914.4,1472.2 936.7,1480.0 956.7,1478.9 970.0,1480.0 986.7,1481.1 1015.6,1484.4 1040.0,1481.1 1061.1,1485.6 1078.9,1484.4 1100.0,1483.3 1114.4,1482.2 1131.1,1483.3 1150.0,1487.8 1172.2,1494.4 1185.6,1498.9 1203.3,1494.4 1224.4,1501.1 1244.4,1502.2 1257.8,1504.4 1283.3,1505.6 1294.4,1508.9 1314.4,1508.9 1331.1,1505.6 1347.8,1506.7 1367.8,1511.1 1390.0,1507.8 1406.7,1507.8 1422.2,1510.0 1441.1,1512.2 1476.7,1516.7 1496.7,1516.7 1513.3,1518.9 1530.0,1517.8 1546.8,1522.2 1567.4,1521.0 1583.3,1525.6 1606.1,1529.0 1624.4,1529.0 1639.2,1529.0 1655.2,1526.7 1680.3,1531.3 1692.8,1532.4 1709.9,1531.3" fill="none" stroke="#000080" stroke-width="3.0" stroke-linejoin="round" stroke-linecap="round"/>
<path d="M189.5 1211.0L198.0 1220.0L189.5 1229.0L181.0 1220.0Z" fill="#000080"/>
<path d="M193.7 1213.0L202.2 1222.0L193.7 1231.0L185.2 1222.0Z" fill="#000080"/>
<path d="M202.4 1214.0L210.9 1223.0L202.4 1232.0L193.9 1223.0Z" fill="#000080"/>
<path d="M211.1 1216.6L219.6 1225.6L211.1 1234.6L202.6 1225.6Z" fill="#000080"/>
<path d="M219.9 1223.7L228.4 1232.7L219.9 1241.7L211.4 1232.7Z" fill="#000080"/>
<path d="M226.8 1227.0L235.3 1236.0L226.8 1245.0L218.3 1236.0Z" fill="#000080"/>
<path d="M233.0 1227.0L241.5 1236.0L233.0 1245.0L224.5 1236.0Z" fill="#000080"/>
<path d="M241.6 1225.4L250.1 1234.4L241.6 1243.4L233.1 1234.4Z" fill="#000080"/>
<path d="M246.0 1234.0L254.5 1243.0L246.0 1252.0L237.5 1243.0Z" fill="#000080"/>
<path d="M254.7 1242.8L263.2 1251.8L254.7 1260.8L246.2 1251.8Z" fill="#000080"/>
<path d="M263.4 1249.8L271.9 1258.8L263.4 1267.8L254.9 1258.8Z" fill="#000080"/>
<path d="M272.1 1266.4L280.6 1275.4L272.1 1284.4L263.6 1275.4Z" fill="#000080"/>
<path d="M280.9 1275.1L289.4 1284.1L280.9 1293.1L272.4 1284.1Z" fill="#000080"/>
<path d="M289.6 1288.1L298.1 1297.1L289.6 1306.1L281.1 1297.1Z" fill="#000080"/>
<path d="M298.3 1301.2L306.8 1310.2L298.3 1319.2L289.8 1310.2Z" fill="#000080"/>
<path d="M307.0 1314.3L315.5 1323.3L307.0 1332.3L298.5 1323.3Z" fill="#000080"/>
<path d="M315.7 1323.0L324.2 1332.0L315.7 1341.0L307.2 1332.0Z" fill="#000080"/>
<path d="M328.8 1336.1L337.3 1345.1L328.8 1354.1L320.3 1345.1Z" fill="#000080"/>
<path d="M340.6 1342.6L349.1 1351.6L340.6 1360.6L332.1 1351.6Z" fill="#000080"/>
<path d="M357.6 1350.4L366.1 1359.4L357.6 1368.4L349.1 1359.4Z" fill="#000080"/>
<path d="M381.1 1357.6L389.6 1366.6L381.1 1375.6L372.6 1366.6Z" fill="#000080"/>
<path d="M391.6 1367.5L400.1 1376.5L391.6 1385.5L383.1 1376.5Z" fill="#000080"/>
<path d="M408.2 1367.5L416.7 1376.5L408.2 1385.5L399.7 1376.5Z" fill="#000080"/>
<path d="M422.0 1363.5L430.5 1372.5L422.0 1381.5L413.5 1372.5Z" fill="#000080"/>
<path d="M428.8 1381.2L437.3 1390.2L428.8 1399.2L420.3 1390.2Z" fill="#000080"/>
<path d="M439.6 1371.4L448.1 1380.4L439.6 1389.4L431.1 1380.4Z" fill="#000080"/>
<path d="M447.5 1365.5L456.0 1374.5L447.5 1383.5L439.0 1374.5Z" fill="#000080"/>
<path d="M459.2 1379.2L467.7 1388.2L459.2 1397.2L450.7 1388.2Z" fill="#000080"/>
<path d="M464.1 1389.0L472.6 1398.0L464.1 1407.0L455.6 1398.0Z" fill="#000080"/>
<path d="M476.9 1393.0L485.4 1402.0L476.9 1411.0L468.4 1402.0Z" fill="#000080"/>
<path d="M491.6 1396.0L500.1 1405.0L491.6 1414.0L483.1 1405.0Z" fill="#000080"/>
<path d="M505.6 1396.6L514.1 1405.6L505.6 1414.6L497.1 1405.6Z" fill="#000080"/>
<path d="M521.1 1396.6L529.6 1405.6L521.1 1414.6L512.6 1405.6Z" fill="#000080"/>
<path d="M541.1 1412.1L549.6 1421.1L541.1 1430.1L532.6 1421.1Z" fill="#000080"/>
<path d="M558.9 1405.4L567.4 1414.4L558.9 1423.4L550.4 1414.4Z" fill="#000080"/>
<path d="M578.9 1421.0L587.4 1430.0L578.9 1439.0L570.4 1430.0Z" fill="#000080"/>
<path d="M598.9 1422.1L607.4 1431.1L598.9 1440.1L590.4 1431.1Z" fill="#000080"/>
<path d="M615.6 1417.7L624.1 1426.7L615.6 1435.7L607.1 1426.7Z" fill="#000080"/>
<path d="M635.6 1421.0L644.1 1430.0L635.6 1439.0L627.1 1430.0Z" fill="#000080"/>
<path d="M653.3 1422.1L661.8 1431.1L653.3 1440.1L644.8 1431.1Z" fill="#000080"/>
<path d="M670.0 1425.4L678.5 1434.4L670.0 1443.4L661.5 1434.4Z" fill="#000080"/>
<path d="M691.1 1431.0L699.6 1440.0L691.1 1449.0L682.6 1440.0Z" fill="#000080"/>
<path d="M706.7 1429.9L715.2 1438.9L706.7 1447.9L698.2 1438.9Z" fill="#000080"/>
<path d="M724.4 1436.6L732.9 1445.6L724.4 1454.6L715.9 1445.6Z" fill="#000080"/>
<path d="M745.6 1435.4L754.1 1444.4L745.6 1453.4L737.1 1444.4Z" fill="#000080"/>
<path d="M761.1 1436.6L769.6 1445.6L761.1 1454.6L752.6 1445.6Z" fill="#000080"/>
<path d="M784.4 1437.7L792.9 1446.7L784.4 1455.7L775.9 1446.7Z" fill="#000080"/>
<path d="M798.9 1451.0L807.4 1460.0L798.9 1469.0L790.4 1460.0Z" fill="#000080"/>
<path d="M825.6 1448.8L834.1 1457.8L825.6 1466.8L817.1 1457.8Z" fill="#000080"/>
<path d="M844.4 1451.0L852.9 1460.0L844.4 1469.0L835.9 1460.0Z" fill="#000080"/>
<path d="M864.4 1452.1L872.9 1461.1L864.4 1470.1L855.9 1461.1Z" fill="#000080"/>
<path d="M877.8 1451.0L886.3 1460.0L877.8 1469.0L869.3 1460.0Z" fill="#000080"/>
<path d="M897.8 1463.2L906.3 1472.2L897.8 1481.2L889.3 1472.2Z" fill="#000080"/>
<path d="M914.4 1463.2L922.9 1472.2L914.4 1481.2L905.9 1472.2Z" fill="#000080"/>
<path d="M936.7 1471.0L945.2 1480.0L936.7 1489.0L928.2 1480.0Z" fill="#000080"/>
<path d="M956.7 1469.9L965.2 1478.9L956.7 1487.9L948.2 1478.9Z" fill="#000080"/>
<path d="M970.0 1471.0L978.5 1480.0L970.0 1489.0L961.5 1480.0Z" fill="#000080"/>
<path d="M986.7 1472.1L995.2 1481.1L986.7 1490.1L978.2 1481.1Z" fill="#000080"/>
<path d="M1015.6 1475.4L1024.1 1484.4L1015.6 1493.4L1007.1 1484.4Z" fill="#000080"/>
<path d="M1040.0 1472.1L1048.5 1481.1L1040.0 1490.1L1031.5 1481.1Z" fill="#000080"/>
<path d="M1061.1 1476.6L1069.6 1485.6L1061.1 1494.6L1052.6 1485.6Z" fill="#000080"/>
<path d="M1078.9 1475.4L1087.4 1484.4L1078.9 1493.4L1070.4 1484.4Z" fill="#000080"/>
<path d="M1100.0 1474.3L1108.5 1483.3L1100.0 1492.3L1091.5 1483.3Z" fill="#000080"/>
<path d="M1114.4 1473.2L1122.9 1482.2L1114.4 1491.2L1105.9 1482.2Z" fill="#000080"/>
<path d="M1131.1 1474.3L1139.6 1483.3L1131.1 1492.3L1122.6 1483.3Z" fill="#000080"/>
<path d="M1150.0 1478.8L1158.5 1487.8L1150.0 1496.8L1141.5 1487.8Z" fill="#000080"/>
<path d="M1172.2 1485.4L1180.7 1494.4L1172.2 1503.4L1163.7 1494.4Z" fill="#000080"/>
<path d="M1185.6 1489.9L1194.1 1498.9L1185.6 1507.9L1177.1 1498.9Z" fill="#000080"/>
<path d="M1203.3 1485.4L1211.8 1494.4L1203.3 1503.4L1194.8 1494.4Z" fill="#000080"/>
<path d="M1224.4 1492.1L1232.9 1501.1L1224.4 1510.1L1215.9 1501.1Z" fill="#000080"/>
<path d="M1244.4 1493.2L1252.9 1502.2L1244.4 1511.2L1235.9 1502.2Z" fill="#000080"/>
<path d="M1257.8 1495.4L1266.3 1504.4L1257.8 1513.4L1249.3 1504.4Z" fill="#000080"/>
<path d="M1283.3 1496.6L1291.8 1505.6L1283.3 1514.6L1274.8 1505.6Z" fill="#000080"/>
<path d="M1294.4 1499.9L1302.9 1508.9L1294.4 1517.9L1285.9 1508.9Z" fill="#000080"/>
<path d="M1314.4 1499.9L1322.9 1508.9L1314.4 1517.9L1305.9 1508.9Z" fill="#000080"/>
<path d="M1331.1 1496.6L1339.6 1505.6L1331.1 1514.6L1322.6 1505.6Z" fill="#000080"/>
<path d="M1347.8 1497.7L1356.3 1506.7L1347.8 1515.7L1339.3 1506.7Z" fill="#000080"/>
<path d="M1367.8 1502.1L1376.3 1511.1L1367.8 1520.1L1359.3 1511.1Z" fill="#000080"/>
<path d="M1390.0 1498.8L1398.5 1507.8L1390.0 1516.8L1381.5 1507.8Z" fill="#000080"/>
<path d="M1406.7 1498.8L1415.2 1507.8L1406.7 1516.8L1398.2 1507.8Z" fill="#000080"/>
<path d="M1422.2 1501.0L1430.7 1510.0L1422.2 1519.0L1413.7 1510.0Z" fill="#000080"/>
<path d="M1441.1 1503.2L1449.6 1512.2L1441.1 1521.2L1432.6 1512.2Z" fill="#000080"/>
<path d="M1476.7 1507.7L1485.2 1516.7L1476.7 1525.7L1468.2 1516.7Z" fill="#000080"/>
<path d="M1496.7 1507.7L1505.2 1516.7L1496.7 1525.7L1488.2 1516.7Z" fill="#000080"/>
<path d="M1513.3 1509.9L1521.8 1518.9L1513.3 1527.9L1504.8 1518.9Z" fill="#000080"/>
<path d="M1530.0 1508.8L1538.5 1517.8L1530.0 1526.8L1521.5 1517.8Z" fill="#000080"/>
<path d="M1546.8 1513.2L1555.3 1522.2L1546.8 1531.2L1538.3 1522.2Z" fill="#000080"/>
<path d="M1567.4 1512.0L1575.9 1521.0L1567.4 1530.0L1558.9 1521.0Z" fill="#000080"/>
<path d="M1583.3 1516.6L1591.8 1525.6L1583.3 1534.6L1574.8 1525.6Z" fill="#000080"/>
<path d="M1606.1 1520.0L1614.6 1529.0L1606.1 1538.0L1597.6 1529.0Z" fill="#000080"/>
<path d="M1624.4 1520.0L1632.9 1529.0L1624.4 1538.0L1615.9 1529.0Z" fill="#000080"/>
<path d="M1639.2 1520.0L1647.7 1529.0L1639.2 1538.0L1630.7 1529.0Z" fill="#000080"/>
<path d="M1655.2 1517.7L1663.7 1526.7L1655.2 1535.7L1646.7 1526.7Z" fill="#000080"/>
<path d="M1680.3 1522.3L1688.8 1531.3L1680.3 1540.3L1671.8 1531.3Z" fill="#000080"/>
<path d="M1692.8 1523.4L1701.3 1532.4L1692.8 1541.4L1684.3 1532.4Z" fill="#000080"/>
<path d="M1709.9 1522.3L1718.4 1531.3L1709.9 1540.3L1701.4 1531.3Z" fill="#000080"/>
<path d="M190.0 1211.2L198.5 1220.2L190.0 1229.2L181.5 1220.2Z" fill="#000080"/>
<path d="M194.0 1213.0L202.5 1222.0L194.0 1231.0L185.5 1222.0Z" fill="#000080"/>
<path d="M198.0 1213.5L206.5 1222.5L198.0 1231.5L189.5 1222.5Z" fill="#000080"/>
<path d="M202.0 1214.0L210.5 1223.0L202.0 1232.0L193.5 1223.0Z" fill="#000080"/>
<path d="M206.0 1215.1L214.5 1224.1L206.0 1233.1L197.5 1224.1Z" fill="#000080"/>
<path d="M210.0 1216.3L218.5 1225.3L210.0 1234.3L201.5 1225.3Z" fill="#000080"/>
<path d="M214.0 1218.9L222.5 1227.9L214.0 1236.9L205.5 1227.9Z" fill="#000080"/>
<path d="M218.0 1222.2L226.5 1231.2L218.0 1240.2L209.5 1231.2Z" fill="#000080"/>
<path d="M222.0 1224.7L230.5 1233.7L222.0 1242.7L213.5 1233.7Z" fill="#000080"/>
<path d="M226.0 1226.6L234.5 1235.6L226.0 1244.6L217.5 1235.6Z" fill="#000080"/>
<path d="M230.0 1227.0L238.5 1236.0L230.0 1245.0L221.5 1236.0Z" fill="#000080"/>
<path d="M234.0 1226.8L242.5 1235.8L234.0 1244.8L225.5 1235.8Z" fill="#000080"/>
<path d="M238.0 1226.1L246.5 1235.1L238.0 1244.1L229.5 1235.1Z" fill="#000080"/>
<path d="M242.0 1226.2L250.5 1235.2L242.0 1244.2L233.5 1235.2Z" fill="#000080"/>
<path d="M246.0 1234.0L254.5 1243.0L246.0 1252.0L237.5 1243.0Z" fill="#000080"/>
<path d="M250.0 1238.0L258.5 1247.0L250.0 1256.0L241.5 1247.0Z" fill="#000080"/>
<path d="M254.0 1242.1L262.5 1251.1L254.0 1260.1L245.5 1251.1Z" fill="#000080"/>
<path d="M258.0 1245.5L266.5 1254.5L258.0 1263.5L249.5 1254.5Z" fill="#000080"/>
<path d="M262.0 1248.7L270.5 1257.7L262.0 1266.7L253.5 1257.7Z" fill="#000080"/>
<path d="M266.0 1254.8L274.5 1263.8L266.0 1272.8L257.5 1263.8Z" fill="#000080"/>
<path d="M270.0 1262.4L278.5 1271.4L270.0 1280.4L261.5 1271.4Z" fill="#000080"/>
<path d="M274.0 1268.3L282.5 1277.3L274.0 1286.3L265.5 1277.3Z" fill="#000080"/>
<path d="M278.0 1272.2L286.5 1281.2L278.0 1290.2L269.5 1281.2Z" fill="#000080"/>
<path d="M282.0 1276.7L290.5 1285.7L282.0 1294.7L273.5 1285.7Z" fill="#000080"/>
<path d="M286.0 1282.7L294.5 1291.7L286.0 1300.7L277.5 1291.7Z" fill="#000080"/>
<path d="M290.0 1288.7L298.5 1297.7L290.0 1306.7L281.5 1297.7Z" fill="#000080"/>
<path d="M294.0 1294.7L302.5 1303.7L294.0 1312.7L285.5 1303.7Z" fill="#000080"/>
<path d="M298.0 1300.7L306.5 1309.7L298.0 1318.7L289.5 1309.7Z" fill="#000080"/>
<path d="M302.0 1306.8L310.5 1315.8L302.0 1324.8L293.5 1315.8Z" fill="#000080"/>
<path d="M306.0 1312.8L314.5 1321.8L306.0 1330.8L297.5 1321.8Z" fill="#000080"/>
<path d="M310.0 1317.3L318.5 1326.3L310.0 1335.3L301.5 1326.3Z" fill="#000080"/>
<path d="M314.0 1321.3L322.5 1330.3L314.0 1339.3L305.5 1330.3Z" fill="#000080"/>
<path d="M318.0 1325.3L326.5 1334.3L318.0 1343.3L309.5 1334.3Z" fill="#000080"/>
<path d="M322.0 1329.3L330.5 1338.3L322.0 1347.3L313.5 1338.3Z" fill="#000080"/>
<path d="M326.0 1333.3L334.5 1342.3L326.0 1351.3L317.5 1342.3Z" fill="#000080"/>
<path d="M330.0 1336.8L338.5 1345.8L330.0 1354.8L321.5 1345.8Z" fill="#000080"/>
<path d="M334.0 1339.0L342.5 1348.0L334.0 1357.0L325.5 1348.0Z" fill="#000080"/>
<path d="M338.0 1341.2L346.5 1350.2L338.0 1359.2L329.5 1350.2Z" fill="#000080"/>
<path d="M342.0 1343.2L350.5 1352.2L342.0 1361.2L333.5 1352.2Z" fill="#000080"/>
<path d="M350.0 1346.9L358.5 1355.9L350.0 1364.9L341.5 1355.9Z" fill="#000080"/>
<path d="M359.0 1350.8L367.5 1359.8L359.0 1368.8L350.5 1359.8Z" fill="#000080"/>
<path d="M368.0 1353.6L376.5 1362.6L368.0 1371.6L359.5 1362.6Z" fill="#000080"/>
<path d="M377.0 1356.3L385.5 1365.3L377.0 1374.3L368.5 1365.3Z" fill="#000080"/>
<path d="M386.0 1362.2L394.5 1371.2L386.0 1380.2L377.5 1371.2Z" fill="#000080"/>
<path d="M395.0 1367.5L403.5 1376.5L395.0 1385.5L386.5 1376.5Z" fill="#000080"/>
<path d="M404.0 1367.5L412.5 1376.5L404.0 1385.5L395.5 1376.5Z" fill="#000080"/>
<path d="M413.0 1366.1L421.5 1375.1L413.0 1384.1L404.5 1375.1Z" fill="#000080"/>
<path d="M422.0 1363.5L430.5 1372.5L422.0 1381.5L413.5 1372.5Z" fill="#000080"/>
<path d="M431.0 1379.2L439.5 1388.2L431.0 1397.2L422.5 1388.2Z" fill="#000080"/>
<path d="M440.0 1371.1L448.5 1380.1L440.0 1389.1L431.5 1380.1Z" fill="#000080"/>
<path d="M449.0 1367.3L457.5 1376.3L449.0 1385.3L440.5 1376.3Z" fill="#000080"/>
<path d="M458.0 1377.8L466.5 1386.8L458.0 1395.8L449.5 1386.8Z" fill="#000080"/>
<path d="M467.0 1389.9L475.5 1398.9L467.0 1407.9L458.5 1398.9Z" fill="#000080"/>
<path d="M476.0 1392.7L484.5 1401.7L476.0 1410.7L467.5 1401.7Z" fill="#000080"/>
<path d="M485.0 1394.7L493.5 1403.7L485.0 1412.7L476.5 1403.7Z" fill="#000080"/>
<path d="M494.0 1396.1L502.5 1405.1L494.0 1414.1L485.5 1405.1Z" fill="#000080"/>
<path d="M503.0 1396.5L511.5 1405.5L503.0 1414.5L494.5 1405.5Z" fill="#000080"/>
<path d="M512.0 1396.6L520.5 1405.6L512.0 1414.6L503.5 1405.6Z" fill="#000080"/>
<path d="M521.0 1396.6L529.5 1405.6L521.0 1414.6L512.5 1405.6Z" fill="#000080"/>
<path d="M530.0 1403.5L538.5 1412.5L530.0 1421.5L521.5 1412.5Z" fill="#000080"/>
<path d="M539.0 1410.5L547.5 1419.5L539.0 1428.5L530.5 1419.5Z" fill="#000080"/>
<path d="M548.0 1409.5L556.5 1418.5L548.0 1427.5L539.5 1418.5Z" fill="#000080"/>
<path d="M557.0 1406.1L565.5 1415.1L557.0 1424.1L548.5 1415.1Z" fill="#000080"/>
<path d="M566.0 1410.9L574.5 1419.9L566.0 1428.9L557.5 1419.9Z" fill="#000080"/>
<path d="M575.0 1418.0L583.5 1427.0L575.0 1436.0L566.5 1427.0Z" fill="#000080"/>
<polyline points="190.0,1545.0 191.1,1557.8 193.3,1564.4 195.5,1552.0 198.9,1580.0 202.2,1568.9 204.4,1533.3 208.9,1524.4 212.7,1500.0 217.6,1445.0 224.1,1404.0 227.4,1383.0 235.6,1361.8 238.0,1347.0 238.8,1301.3 242.1,1324.2 246.2,1347.0 251.9,1338.9 256.8,1327.5 260.1,1301.3 263.3,1270.3 268.2,1262.1 274.8,1262.1 281.3,1263.7 286.2,1253.9 291.1,1244.9 297.6,1249.0 307.5,1252.3 314.0,1258.8 322.2,1262.9 325.4,1258.8 328.7,1247.4 334.4,1244.1 341.8,1249.0 351.6,1257.2 363.0,1267.0 372.8,1276.8 381.0,1286.6 387.5,1286.6 394.1,1294.8 402.2,1304.6 412.0,1309.5 416.9,1301.3 420.2,1278.4 425.1,1278.4 430.0,1281.7 434.9,1283.3 439.8,1294.8 444.7,1306.2 448.8,1330.7 452.9,1332.4 457.8,1316.0 464.3,1312.7 465.1,1257.2 470.0,1256.3 475.1,1235.7 480.3,1242.6 487.2,1252.9 490.6,1242.6 495.7,1240.9 499.2,1225.4 507.7,1234.0 516.3,1237.5 524.9,1230.6 535.2,1221.0 548.9,1227.2 559.2,1229.6 569.5,1230.6 583.2,1249.5 593.5,1270.1 603.8,1269.0 621.0,1285.5 638.2,1286.2 646.7,1295.8 651.9,1275.2 660.5,1258.0 672.5,1283.8 679.3,1258.0 693.1,1278.6 711.9,1295.8 724.0,1287.2 730.8,1271.8 744.5,1268.3 761.7,1263.2 772.0,1260.8 789.1,1263.2 799.4,1269.0 813.2,1271.1 821.7,1280.3 833.8,1275.2 844.1,1263.2 852.6,1271.8 861.2,1287.2 878.4,1283.8 885.2,1270.1 899.0,1290.6 904.1,1261.5 912.7,1249.5 921.3,1251.2 929.8,1227.2 936.7,1232.3 945.3,1239.2 953.9,1235.7 960.7,1227.2 967.6,1232.3 984.8,1239.2 1005.3,1259.8 1025.9,1270.1 1046.5,1274.5 1055.1,1275.2 1065.4,1292.4 1084.3,1306.1 1090.0,1307.8 1102.0,1306.1 1105.4,1282.1 1110.6,1270.1 1115.7,1272.5 1120.9,1267.7 1130.5,1272.5 1134.6,1246.0 1141.5,1246.0 1146.6,1242.6 1153.5,1252.9 1162.1,1251.2 1167.2,1244.3 1172.4,1228.9 1186.1,1235.7 1190.2,1226.5 1199.8,1237.5 1208.4,1237.5 1217.0,1256.3 1234.1,1273.5 1254.7,1280.3 1268.5,1283.8 1277.0,1275.2 1283.9,1270.1 1292.5,1280.3 1302.8,1273.5 1309.6,1283.8 1313.1,1273.5 1319.9,1285.5 1333.7,1300.9 1338.8,1287.2 1344.0,1280.3 1354.2,1280.3 1364.5,1271.8 1371.4,1268.3 1374.8,1251.2 1381.7,1240.2 1392.0,1243.3 1402.3,1247.7 1412.6,1264.9 1421.2,1285.5 1429.7,1286.2 1446.9,1299.2 1460.6,1297.5 1477.8,1298.5 1484.6,1302.0 1501.8,1299.2 1512.1,1297.5 1517.2,1285.5 1527.5,1276.9 1534.4,1275.2 1539.6,1285.5 1546.4,1275.2 1556.7,1285.5 1567.0,1285.5 1575.6,1283.8 1582.5,1302.0 1589.3,1292.4 1591.0,1271.8 1601.3,1249.5 1608.2,1247.1 1621.9,1254.6 1639.1,1252.9 1652.8,1254.6 1666.5,1263.2 1680.2,1273.5 1688.8,1282.1 1700.8,1283.8 1709.4,1283.1" fill="none" stroke="#000" stroke-width="2.7" stroke-linejoin="round" stroke-linecap="round"/>
</g>
<path d="M190 1217.5V1983.5H1727.5V1217.5" stroke="#000" stroke-width="4" fill="none" stroke-linejoin="miter" stroke-linecap="butt"/>
<path d="M190 1219.5H212" stroke="#000" stroke-width="4" fill="none"/>
<path d="M190 1328.6H212" stroke="#000" stroke-width="4" fill="none"/>
<path d="M190 1437.8H212" stroke="#000" stroke-width="4" fill="none"/>
<path d="M190 1546.9H212" stroke="#000" stroke-width="4" fill="none"/>
<path d="M190 1656.1H212" stroke="#000" stroke-width="4" fill="none"/>
<path d="M190 1765.2H212" stroke="#000" stroke-width="4" fill="none"/>
<path d="M190 1874.4H212" stroke="#000" stroke-width="4" fill="none"/>
<path d="M190 1983.5H212" stroke="#000" stroke-width="4" fill="none"/>
<path d="M190 1274.1H202" stroke="#000" stroke-width="4" fill="none"/>
<path d="M190 1383.2H202" stroke="#000" stroke-width="4" fill="none"/>
<path d="M190 1492.4H202" stroke="#000" stroke-width="4" fill="none"/>
<path d="M190 1601.5H202" stroke="#000" stroke-width="4" fill="none"/>
<path d="M190 1710.6H202" stroke="#000" stroke-width="4" fill="none"/>
<path d="M190 1819.8H202" stroke="#000" stroke-width="4" fill="none"/>
<path d="M190 1928.9H202" stroke="#000" stroke-width="4" fill="none"/>
<path d="M1727.5 1219.5H1704.0" stroke="#000" stroke-width="4" fill="none"/>
<path d="M1727.5 1346.8H1704.0" stroke="#000" stroke-width="4" fill="none"/>
<path d="M1727.5 1474.2H1704.0" stroke="#000" stroke-width="4" fill="none"/>
<path d="M1727.5 1601.5H1704.0" stroke="#000" stroke-width="4" fill="none"/>
<path d="M1727.5 1728.8H1704.0" stroke="#000" stroke-width="4" fill="none"/>
<path d="M1727.5 1856.2H1704.0" stroke="#000" stroke-width="4" fill="none"/>
<path d="M1727.5 1983.5H1704.0" stroke="#000" stroke-width="4" fill="none"/>
<path d="M1727.5 1283.2H1714.0" stroke="#000" stroke-width="4" fill="none"/>
<path d="M1727.5 1410.5H1714.0" stroke="#000" stroke-width="4" fill="none"/>
<path d="M1727.5 1537.8H1714.0" stroke="#000" stroke-width="4" fill="none"/>
<path d="M1727.5 1665.2H1714.0" stroke="#000" stroke-width="4" fill="none"/>
<path d="M1727.5 1792.5H1714.0" stroke="#000" stroke-width="4" fill="none"/>
<path d="M1727.5 1919.8H1714.0" stroke="#000" stroke-width="4" fill="none"/>
<path d="M298.5 1983.5V1972.5" stroke="#000" stroke-width="4" fill="none"/>
<path d="M407.0 1983.5V1962.5" stroke="#000" stroke-width="4" fill="none"/>
<path d="M515.5 1983.5V1972.5" stroke="#000" stroke-width="4" fill="none"/>
<path d="M624.0 1983.5V1962.5" stroke="#000" stroke-width="4" fill="none"/>
<path d="M732.5 1983.5V1972.5" stroke="#000" stroke-width="4" fill="none"/>
<path d="M841.0 1983.5V1962.5" stroke="#000" stroke-width="4" fill="none"/>
<path d="M949.5 1983.5V1972.5" stroke="#000" stroke-width="4" fill="none"/>
<path d="M1058.0 1983.5V1962.5" stroke="#000" stroke-width="4" fill="none"/>
<path d="M1166.5 1983.5V1972.5" stroke="#000" stroke-width="4" fill="none"/>
<path d="M1275.0 1983.5V1962.5" stroke="#000" stroke-width="4" fill="none"/>
<path d="M1383.5 1983.5V1972.5" stroke="#000" stroke-width="4" fill="none"/>
<path d="M1492.0 1983.5V1962.5" stroke="#000" stroke-width="4" fill="none"/>
<path d="M1600.5 1983.5V1972.5" stroke="#000" stroke-width="4" fill="none"/>
<path d="M1709.0 1983.5V1962.5" stroke="#000" stroke-width="4" fill="none"/>
<text x="163" y="1237.5" text-anchor="end" class="tl">0</text>
<text x="163" y="1346.6" text-anchor="end" class="tl">-10</text>
<text x="163" y="1455.8" text-anchor="end" class="tl">-20</text>
<text x="163" y="1564.9" text-anchor="end" class="tl">-30</text>
<text x="163" y="1674.1" text-anchor="end" class="tl">-40</text>
<text x="163" y="1783.2" text-anchor="end" class="tl">-50</text>
<text x="163" y="1892.4" text-anchor="end" class="tl">-60</text>
<text x="163" y="2001.5" text-anchor="end" class="tl">-70</text>
<text x="1751" y="1232.3" class="rl">400</text>
<text x="1751" y="1359.6" class="rl">350</text>
<text x="1751" y="1487.0" class="rl">300</text>
<text x="1751" y="1614.3" class="rl">250</text>
<text x="1751" y="1741.6" class="rl">200</text>
<text x="1751" y="1869.0" class="rl">150</text>
<text x="1751" y="1996.3" class="rl">100</text>
<text x="188.0" y="2049.5" text-anchor="middle" class="tl">2007</text>
<text x="405.0" y="2049.5" text-anchor="middle" class="tl">2008</text>
<text x="622.0" y="2049.5" text-anchor="middle" class="tl">2009</text>
<text x="839.0" y="2049.5" text-anchor="middle" class="tl">2010</text>
<text x="1056.0" y="2049.5" text-anchor="middle" class="tl">2011</text>
<text x="1273.0" y="2049.5" text-anchor="middle" class="tl">2012</text>
<text x="1490.0" y="2049.5" text-anchor="middle" class="tl">2013</text>
<text x="1707.0" y="2049.5" text-anchor="middle" class="tl">2014</text>
<text x="902.47" y="2107.5" class="ti" textLength="113.31" lengthAdjust="spacingAndGlyphs">Date</text>
<text transform="translate(62.3,1834.44) rotate(-90)" x="0" y="0" class="ti" textLength="387.80" lengthAdjust="spacingAndGlyphs">Settelment (cm)</text>
<text transform="translate(1907,1844.04) rotate(-90)" x="0" y="0" class="ti" textLength="469.19" lengthAdjust="spacingAndGlyphs">Reservoir level (m)</text>
<text x="28.70" y="1110.3" class="pl" textLength="52.47" lengthAdjust="spacingAndGlyphs">b)</text>
<polyline points="248.6,1078.5 373.0,1078.5" fill="none" stroke="#800080" stroke-width="3.2" stroke-linejoin="round" stroke-linecap="round"/>
<circle cx="310.8" cy="1078.5" r="7.5" fill="#800080"/>
<text x="388.85" y="1096.5" class="lg" textLength="132.38" lengthAdjust="spacingAndGlyphs">WS04</text>
<polyline points="564.2,1079.5 688.0,1079.5" fill="none" stroke="#E4503A" stroke-width="3.2" stroke-linejoin="round" stroke-linecap="round"/>
<rect x="619.6" y="1073.0" width="13.0" height="13.0" fill="#E4503A"/>
<text x="703.35" y="1096.5" class="lg" textLength="133.95" lengthAdjust="spacingAndGlyphs">WS06</text>
<polyline points="864.6,1079.5 989.3,1079.5" fill="none" stroke="#000080" stroke-width="3.2" stroke-linejoin="round" stroke-linecap="round"/>
<path d="M920.0 1072.5L934.0 1086.5M920.0 1086.5L934.0 1072.5" stroke="#5555dd" stroke-width="1.6" fill="none"/>
<text x="1004.55" y="1096.5" class="lg" textLength="131.97" lengthAdjust="spacingAndGlyphs">WS07</text>
<polyline points="1150.6,1079.5 1276.4,1079.5" fill="none" stroke="#008000" stroke-width="3.2" stroke-linejoin="round" stroke-linecap="round"/>
<polygon points="1213.5,1070.5 1215.7,1076.4 1222.1,1076.7 1217.1,1080.7 1218.8,1086.8 1213.5,1083.3 1208.2,1086.8 1209.9,1080.7 1204.9,1076.7 1211.3,1076.4" fill="#008000"/>
<text x="1290.95" y="1096.5" class="lg" textLength="134.91" lengthAdjust="spacingAndGlyphs">WS08</text>
<polyline points="1438.7,1079.5 1565.0,1079.5" fill="none" stroke="#ED1C24" stroke-width="3.2" stroke-linejoin="round" stroke-linecap="round"/>
<path d="M1501.8 1071.0L1510.8 1088.0L1492.8 1088.0Z" fill="#ED1C24"/>
<text x="1578.75" y="1096.5" class="lg" textLength="134.97" lengthAdjust="spacingAndGlyphs">WS09</text>
<polyline points="248.6,1147.0 373.0,1147.0" fill="none" stroke="#800000" stroke-width="3.2" stroke-linejoin="round" stroke-linecap="round"/>
<path d="M303.8 1137.0L317.8 1147.0L303.8 1157.0Z" fill="#800000"/>
<text x="388.85" y="1163.2" class="lg" textLength="133.59" lengthAdjust="spacingAndGlyphs">WS10</text>
<polyline points="564.2,1147.0 688.0,1147.0" fill="none" stroke="#000080" stroke-width="3.2" stroke-linejoin="round" stroke-linecap="round"/>
<path d="M626.1 1137.0L634.1 1147.0L626.1 1157.0L618.1 1147.0Z" fill="#000080"/>
<text x="703.35" y="1163.2" class="lg" textLength="130.79" lengthAdjust="spacingAndGlyphs">WS11</text>
<polyline points="865.4,1146.0 989.3,1146.0" fill="none" stroke="#000" stroke-width="3.2" stroke-linejoin="round" stroke-linecap="round"/>
<text x="1001.02" y="1164" class="lg" textLength="333.18" lengthAdjust="spacingAndGlyphs">Reservoir level</text>
</svg>
</body></html>
